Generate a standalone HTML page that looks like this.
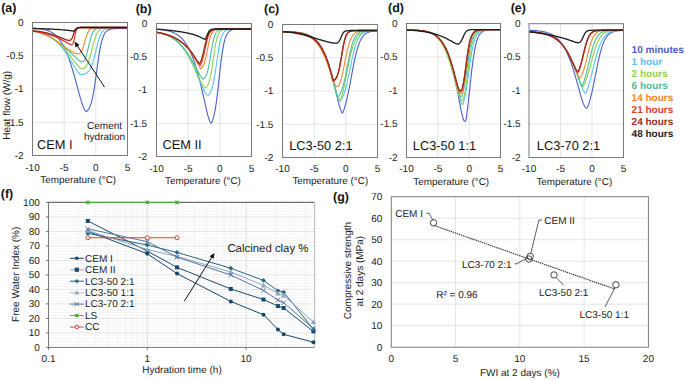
<!DOCTYPE html>
<html><head><meta charset="utf-8"><style>
html,body{margin:0;padding:0;background:#fff;}
svg{display:block;font-family:"Liberation Sans", sans-serif;}
</style></head><body>
<svg width="685" height="380" viewBox="0 0 685 380" font-family='"Liberation Sans", sans-serif' text-rendering="geometricPrecision">
<rect width="685" height="380" fill="#fff"/>
<line x1="64.17" y1="22.50" x2="64.17" y2="155.50" stroke="#dedede" stroke-width="0.8" />
<line x1="95.83" y1="22.50" x2="95.83" y2="155.50" stroke="#dedede" stroke-width="0.8" />
<line x1="32.50" y1="55.75" x2="127.50" y2="55.75" stroke="#dedede" stroke-width="0.8" />
<line x1="32.50" y1="89.00" x2="127.50" y2="89.00" stroke="#dedede" stroke-width="0.8" />
<line x1="32.50" y1="122.25" x2="127.50" y2="122.25" stroke="#dedede" stroke-width="0.8" />
<text x="37.00" y="149.20" font-size="12.8" text-anchor="start" font-weight="normal" fill="#111" >CEM I</text>
<g fill="none" stroke-width="1.1" stroke-linejoin="round">
<polyline points="32.3,28.3 32.7,28.3 33.2,28.3 33.6,28.4 34.0,28.4 34.5,28.4 34.9,28.4 35.3,28.5 35.8,28.5 36.2,28.5 36.6,28.5 37.1,28.6 37.5,28.6 37.9,28.7 38.4,28.7 38.8,28.7 39.2,28.8 39.7,28.8 40.1,28.9 40.5,28.9 41.0,29.0 41.4,29.1 41.8,29.1 42.3,29.2 42.7,29.3 43.1,29.4 43.6,29.4 44.0,29.5 44.4,29.6 44.8,29.7 45.3,29.8 45.7,29.9 46.1,30.1 46.6,30.2 47.0,30.3 47.4,30.5 47.9,30.6 48.3,30.8 48.7,30.9 49.2,31.1 49.6,31.3 50.0,31.5 50.5,31.7 50.9,31.9 51.3,32.2 51.8,32.4 52.2,32.7 52.6,32.9 53.1,33.2 53.5,33.5 53.9,33.8 54.4,34.1 54.8,34.5 55.2,34.9 55.7,35.2 56.1,35.6 56.5,36.0 57.0,36.5 57.4,36.9 57.8,37.4 58.3,37.9 58.7,38.4 59.1,39.0 59.6,39.5 60.0,40.1 60.4,40.7 60.9,41.4 61.3,42.0 61.7,42.7 62.2,43.5 62.6,44.2 63.0,45.0 63.5,45.8 63.9,46.6 64.3,47.5 64.8,48.4 65.2,49.3 65.6,50.3 66.1,51.2 66.5,52.3 66.9,53.3 67.4,54.4 67.8,55.5 68.2,56.6 68.6,57.8 69.1,59.0 69.5,60.3 69.9,61.5 70.4,62.8 70.8,64.2 71.2,65.5 71.7,66.9 72.1,68.3 72.5,69.8 73.0,71.2 73.4,72.7 73.8,74.2 74.3,75.8 74.7,77.3 75.1,78.9 75.6,80.4 76.0,82.0 76.4,83.6 76.9,85.2 77.3,86.8 77.7,88.4 78.2,90.0 78.6,91.6 79.0,93.2 79.5,94.8 79.9,96.3 80.3,97.8 80.8,99.3 81.2,100.7 81.6,102.1 82.1,103.5 82.5,104.8 82.9,106.0 83.4,107.1 83.8,108.1 84.2,109.0 84.7,109.8 85.1,110.5 85.5,111.0 86.0,111.4 86.4,111.4 86.8,111.2 87.3,110.8 87.7,110.3 88.1,109.8 88.6,109.1 89.0,108.4 89.4,107.6 89.9,106.7 90.3,105.6 90.7,104.4 91.2,103.1 91.6,101.6 92.0,99.9 92.4,98.1 92.9,96.0 93.3,93.8 93.7,91.4 94.2,88.8 94.6,86.1 95.0,83.2 95.5,80.2 95.9,77.1 96.3,73.9 96.8,70.7 97.2,67.5 97.6,64.3 98.1,61.2 98.5,58.2 98.9,55.4 99.4,52.7 99.8,50.2 100.2,47.8 100.7,45.7 101.1,43.7 101.5,41.9 102.0,40.3 102.4,38.8 102.8,37.5 103.3,36.4 103.7,35.4 104.1,34.5 104.6,33.7 105.0,33.0 105.4,32.4 105.9,31.9 106.3,31.4 106.7,31.0 107.2,30.7 107.6,30.4 108.0,30.1 108.5,29.9 108.9,29.7 109.3,29.5 109.8,29.4 110.2,29.3 110.6,29.1 111.1,29.1 111.5,29.0 111.9,28.9 112.4,28.8 112.8,28.8 113.2,28.7 113.7,28.7 114.1,28.7 114.5,28.6 115.0,28.6 115.4,28.6 115.8,28.6 116.2,28.6 116.7,28.6 117.1,28.5 117.5,28.5 118.0,28.5 118.4,28.5 118.8,28.5 119.3,28.5 119.7,28.5 120.1,28.5 120.6,28.5 121.0,28.5 121.4,28.5 121.9,28.5 122.3,28.5 122.7,28.5 123.2,28.5 123.6,28.5 124.0,28.5 124.5,28.5 124.9,28.5 125.3,28.5 125.8,28.5 126.2,28.5 126.6,28.5 127.1,28.5 127.5,28.5" stroke="#4a60c6" stroke-width="1.1"/>
<polyline points="32.3,31.3 32.7,31.3 33.2,31.4 33.6,31.4 34.0,31.5 34.5,31.5 34.9,31.6 35.3,31.7 35.8,31.7 36.2,31.8 36.6,31.9 37.1,31.9 37.5,32.0 37.9,32.1 38.4,32.2 38.8,32.3 39.2,32.4 39.7,32.5 40.1,32.6 40.5,32.7 41.0,32.8 41.4,32.9 41.8,33.0 42.3,33.1 42.7,33.3 43.1,33.4 43.6,33.6 44.0,33.7 44.4,33.9 44.8,34.0 45.3,34.2 45.7,34.4 46.1,34.5 46.6,34.7 47.0,34.9 47.4,35.1 47.9,35.4 48.3,35.6 48.7,35.8 49.2,36.0 49.6,36.3 50.0,36.5 50.5,36.8 50.9,37.1 51.3,37.3 51.8,37.6 52.2,37.9 52.6,38.2 53.1,38.5 53.5,38.9 53.9,39.2 54.4,39.5 54.8,39.9 55.2,40.3 55.7,40.6 56.1,41.0 56.5,41.4 57.0,41.8 57.4,42.3 57.8,42.7 58.3,43.1 58.7,43.6 59.1,44.1 59.6,44.5 60.0,45.0 60.4,45.5 60.9,46.0 61.3,46.6 61.7,47.1 62.2,47.6 62.6,48.2 63.0,48.8 63.5,49.3 63.9,49.9 64.3,50.5 64.8,51.1 65.2,51.8 65.6,52.4 66.1,53.0 66.5,53.7 66.9,54.3 67.4,55.0 67.8,55.7 68.2,56.4 68.6,57.1 69.1,57.8 69.5,58.5 69.9,59.2 70.4,59.9 70.8,60.6 71.2,61.3 71.7,62.0 72.1,62.7 72.5,63.5 73.0,64.2 73.4,64.9 73.8,65.6 74.3,66.3 74.7,67.0 75.1,67.7 75.6,68.4 76.0,69.0 76.4,69.7 76.9,70.3 77.3,70.9 77.7,71.5 78.2,72.1 78.6,72.6 79.0,73.1 79.5,73.5 79.9,73.9 80.3,74.2 80.8,74.5 81.2,74.6 81.6,74.6 82.1,74.5 82.5,74.4 82.9,74.3 83.4,74.2 83.8,74.1 84.2,74.0 84.7,73.9 85.1,73.7 85.5,73.6 86.0,73.4 86.4,73.1 86.8,72.9 87.3,72.6 87.7,72.2 88.1,71.8 88.6,71.4 89.0,70.9 89.4,70.3 89.9,69.6 90.3,68.9 90.7,68.1 91.2,67.1 91.6,66.1 92.0,65.0 92.4,63.7 92.9,62.4 93.3,60.9 93.7,59.4 94.2,57.7 94.6,56.0 95.0,54.3 95.5,52.5 95.9,50.6 96.3,48.8 96.8,47.0 97.2,45.3 97.6,43.6 98.1,42.0 98.5,40.5 98.9,39.1 99.4,37.8 99.8,36.6 100.2,35.5 100.7,34.6 101.1,33.7 101.5,32.9 102.0,32.2 102.4,31.6 102.8,31.0 103.3,30.6 103.7,30.1 104.1,29.8 104.6,29.5 105.0,29.2 105.4,28.9 105.9,28.7 106.3,28.6 106.7,28.4 107.2,28.3 107.6,28.2 108.0,28.1 108.5,28.0 108.9,27.9 109.3,27.9 109.8,27.8 110.2,27.8 110.6,27.7 111.1,27.7 111.5,27.7 111.9,27.6 112.4,27.6 112.8,27.6 113.2,27.6 113.7,27.6 114.1,27.5 114.5,27.5 115.0,27.5 115.4,27.5 115.8,27.5 116.2,27.5 116.7,27.5 117.1,27.5 117.5,27.5 118.0,27.5 118.4,27.5 118.8,27.5 119.3,27.5 119.7,27.5 120.1,27.5 120.6,27.5 121.0,27.5 121.4,27.5 121.9,27.5 122.3,27.5 122.7,27.5 123.2,27.5 123.6,27.5 124.0,27.5 124.5,27.5 124.9,27.5 125.3,27.5 125.8,27.5 126.2,27.5 126.6,27.5 127.1,27.5 127.5,27.5" stroke="#55c4ee" stroke-width="1.1"/>
<polyline points="32.3,31.0 32.7,31.1 33.2,31.2 33.6,31.3 34.0,31.3 34.5,31.4 34.9,31.5 35.3,31.6 35.8,31.7 36.2,31.8 36.6,31.9 37.1,32.0 37.5,32.1 37.9,32.2 38.4,32.3 38.8,32.4 39.2,32.5 39.7,32.6 40.1,32.8 40.5,32.9 41.0,33.0 41.4,33.2 41.8,33.3 42.3,33.5 42.7,33.6 43.1,33.8 43.6,33.9 44.0,34.1 44.4,34.3 44.8,34.4 45.3,34.6 45.7,34.8 46.1,35.0 46.6,35.2 47.0,35.4 47.4,35.6 47.9,35.8 48.3,36.0 48.7,36.3 49.2,36.5 49.6,36.7 50.0,37.0 50.5,37.2 50.9,37.5 51.3,37.8 51.8,38.0 52.2,38.3 52.6,38.6 53.1,38.9 53.5,39.2 53.9,39.5 54.4,39.8 54.8,40.1 55.2,40.4 55.7,40.8 56.1,41.1 56.5,41.5 57.0,41.8 57.4,42.2 57.8,42.5 58.3,42.9 58.7,43.3 59.1,43.7 59.6,44.1 60.0,44.5 60.4,44.9 60.9,45.3 61.3,45.8 61.7,46.2 62.2,46.7 62.6,47.1 63.0,47.6 63.5,48.0 63.9,48.5 64.3,49.0 64.8,49.5 65.2,50.0 65.6,50.5 66.1,51.0 66.5,51.5 66.9,52.0 67.4,52.5 67.8,53.0 68.2,53.6 68.6,54.1 69.1,54.6 69.5,55.2 69.9,55.7 70.4,56.3 70.8,56.8 71.2,57.4 71.7,57.9 72.1,58.5 72.5,59.1 73.0,59.6 73.4,60.2 73.8,60.7 74.3,61.3 74.7,61.8 75.1,62.4 75.6,62.9 76.0,63.4 76.4,63.9 76.9,64.4 77.3,64.9 77.7,65.4 78.2,65.9 78.6,66.3 79.0,66.8 79.5,67.2 79.9,67.5 80.3,67.9 80.8,68.2 81.2,68.4 81.6,68.6 82.1,68.8 82.5,68.9 82.9,68.9 83.4,68.7 83.8,68.5 84.2,68.2 84.7,67.8 85.1,67.4 85.5,66.9 86.0,66.4 86.4,65.7 86.8,65.0 87.3,64.2 87.7,63.4 88.1,62.4 88.6,61.3 89.0,60.1 89.4,58.8 89.9,57.4 90.3,55.9 90.7,54.3 91.2,52.7 91.6,51.0 92.0,49.3 92.4,47.6 92.9,45.9 93.3,44.2 93.7,42.6 94.2,41.1 94.6,39.6 95.0,38.3 95.5,37.1 95.9,35.9 96.3,34.9 96.8,34.0 97.2,33.1 97.6,32.4 98.1,31.7 98.5,31.2 98.9,30.6 99.4,30.2 99.8,29.8 100.2,29.5 100.7,29.2 101.1,29.0 101.5,28.7 102.0,28.6 102.4,28.4 102.8,28.3 103.3,28.2 103.7,28.1 104.1,28.0 104.6,27.9 105.0,27.8 105.4,27.8 105.9,27.7 106.3,27.7 106.7,27.7 107.2,27.6 107.6,27.6 108.0,27.6 108.5,27.6 108.9,27.6 109.3,27.6 109.8,27.5 110.2,27.5 110.6,27.5 111.1,27.5 111.5,27.5 111.9,27.5 112.4,27.5 112.8,27.5 113.2,27.5 113.7,27.5 114.1,27.5 114.5,27.5 115.0,27.5 115.4,27.5 115.8,27.5 116.2,27.5 116.7,27.5 117.1,27.5 117.5,27.5 118.0,27.5 118.4,27.5 118.8,27.5 119.3,27.5 119.7,27.5 120.1,27.5 120.6,27.5 121.0,27.5 121.4,27.5 121.9,27.5 122.3,27.5 122.7,27.5 123.2,27.5 123.6,27.5 124.0,27.5 124.5,27.5 124.9,27.5 125.3,27.5 125.8,27.5 126.2,27.5 126.6,27.5 127.1,27.5 127.5,27.5" stroke="#8dd14f" stroke-width="1.1"/>
<polyline points="32.3,30.9 32.7,31.0 33.2,31.1 33.6,31.2 34.0,31.3 34.5,31.4 34.9,31.5 35.3,31.6 35.8,31.7 36.2,31.8 36.6,31.9 37.1,32.1 37.5,32.2 37.9,32.3 38.4,32.4 38.8,32.6 39.2,32.7 39.7,32.8 40.1,33.0 40.5,33.1 41.0,33.3 41.4,33.4 41.8,33.6 42.3,33.7 42.7,33.9 43.1,34.1 43.6,34.2 44.0,34.4 44.4,34.6 44.8,34.7 45.3,34.9 45.7,35.1 46.1,35.3 46.6,35.5 47.0,35.7 47.4,35.9 47.9,36.1 48.3,36.3 48.7,36.5 49.2,36.7 49.6,37.0 50.0,37.2 50.5,37.4 50.9,37.6 51.3,37.9 51.8,38.1 52.2,38.4 52.6,38.6 53.1,38.9 53.5,39.1 53.9,39.4 54.4,39.7 54.8,39.9 55.2,40.2 55.7,40.5 56.1,40.8 56.5,41.1 57.0,41.3 57.4,41.6 57.8,41.9 58.3,42.2 58.7,42.6 59.1,42.9 59.6,43.2 60.0,43.5 60.4,43.8 60.9,44.2 61.3,44.5 61.7,44.8 62.2,45.2 62.6,45.5 63.0,45.9 63.5,46.2 63.9,46.6 64.3,46.9 64.8,47.3 65.2,47.7 65.6,48.0 66.1,48.4 66.5,48.8 66.9,49.2 67.4,49.6 67.8,49.9 68.2,50.3 68.6,50.7 69.1,51.1 69.5,51.5 69.9,51.9 70.4,52.3 70.8,52.8 71.2,53.2 71.7,53.6 72.1,54.0 72.5,54.4 73.0,54.8 73.4,55.3 73.8,55.7 74.3,56.1 74.7,56.5 75.1,56.9 75.6,57.3 76.0,57.8 76.4,58.2 76.9,58.6 77.3,59.0 77.7,59.4 78.2,59.7 78.6,60.1 79.0,60.4 79.5,60.7 79.9,61.0 80.3,61.3 80.8,61.5 81.2,61.7 81.6,61.8 82.1,61.8 82.5,61.8 82.9,61.6 83.4,61.3 83.8,61.0 84.2,60.4 84.7,59.7 85.1,58.9 85.5,57.9 86.0,56.7 86.4,55.3 86.8,53.8 87.3,52.1 87.7,50.3 88.1,48.5 88.6,46.6 89.0,44.7 89.4,42.9 89.9,41.1 90.3,39.5 90.7,38.0 91.2,36.6 91.6,35.3 92.0,34.2 92.4,33.2 92.9,32.3 93.3,31.6 93.7,30.9 94.2,30.4 94.6,29.9 95.0,29.5 95.5,29.2 95.9,28.9 96.3,28.7 96.8,28.5 97.2,28.3 97.6,28.2 98.1,28.0 98.5,28.0 98.9,27.9 99.4,27.8 99.8,27.7 100.2,27.7 100.7,27.7 101.1,27.6 101.5,27.6 102.0,27.6 102.4,27.6 102.8,27.6 103.3,27.5 103.7,27.5 104.1,27.5 104.6,27.5 105.0,27.5 105.4,27.5 105.9,27.5 106.3,27.5 106.7,27.5 107.2,27.5 107.6,27.5 108.0,27.5 108.5,27.5 108.9,27.5 109.3,27.5 109.8,27.5 110.2,27.5 110.6,27.5 111.1,27.5 111.5,27.5 111.9,27.5 112.4,27.5 112.8,27.5 113.2,27.5 113.7,27.5 114.1,27.5 114.5,27.5 115.0,27.5 115.4,27.5 115.8,27.5 116.2,27.5 116.7,27.5 117.1,27.5 117.5,27.5 118.0,27.5 118.4,27.5 118.8,27.5 119.3,27.5 119.7,27.5 120.1,27.5 120.6,27.5 121.0,27.5 121.4,27.5 121.9,27.5 122.3,27.5 122.7,27.5 123.2,27.5 123.6,27.5 124.0,27.5 124.5,27.5 124.9,27.5 125.3,27.5 125.8,27.5 126.2,27.5 126.6,27.5 127.1,27.5 127.5,27.5" stroke="#4cbc9c" stroke-width="1.1"/>
<polyline points="32.3,31.1 32.7,31.1 33.2,31.2 33.6,31.2 34.0,31.3 34.5,31.4 34.9,31.4 35.3,31.5 35.8,31.6 36.2,31.7 36.6,31.8 37.1,31.9 37.5,32.0 37.9,32.1 38.4,32.2 38.8,32.3 39.2,32.4 39.7,32.5 40.1,32.7 40.5,32.8 41.0,32.9 41.4,33.1 41.8,33.2 42.3,33.4 42.7,33.6 43.1,33.7 43.6,33.9 44.0,34.1 44.4,34.2 44.8,34.4 45.3,34.6 45.7,34.8 46.1,35.0 46.6,35.2 47.0,35.4 47.4,35.7 47.9,35.9 48.3,36.1 48.7,36.3 49.2,36.6 49.6,36.8 50.0,37.1 50.5,37.3 50.9,37.6 51.3,37.8 51.8,38.1 52.2,38.3 52.6,38.6 53.1,38.9 53.5,39.2 53.9,39.4 54.4,39.7 54.8,40.0 55.2,40.3 55.7,40.6 56.1,40.9 56.5,41.2 57.0,41.5 57.4,41.8 57.8,42.1 58.3,42.4 58.7,42.7 59.1,43.0 59.6,43.3 60.0,43.6 60.4,43.9 60.9,44.2 61.3,44.6 61.7,44.9 62.2,45.2 62.6,45.5 63.0,45.8 63.5,46.1 63.9,46.4 64.3,46.7 64.8,47.0 65.2,47.3 65.6,47.6 66.1,47.9 66.5,48.2 66.9,48.5 67.4,48.8 67.8,49.1 68.2,49.4 68.6,49.6 69.1,49.9 69.5,50.2 69.9,50.5 70.4,50.7 70.8,51.0 71.2,51.2 71.7,51.5 72.1,51.7 72.5,52.0 73.0,52.2 73.4,52.4 73.8,52.7 74.3,52.9 74.7,53.1 75.1,53.2 75.6,53.4 76.0,53.5 76.4,53.7 76.9,53.8 77.3,53.8 77.7,53.9 78.2,53.9 78.6,53.8 79.0,53.7 79.5,53.5 79.9,53.2 80.3,52.9 80.8,52.4 81.2,51.8 81.6,51.1 82.1,50.2 82.5,49.2 82.9,48.0 83.4,46.7 83.8,45.3 84.2,43.8 84.7,42.2 85.1,40.7 85.5,39.2 86.0,37.7 86.4,36.3 86.8,35.1 87.3,33.9 87.7,32.9 88.1,32.0 88.6,31.2 89.0,30.6 89.4,30.0 89.9,29.6 90.3,29.2 90.7,28.9 91.2,28.6 91.6,28.4 92.0,28.2 92.4,28.1 92.9,28.0 93.3,27.9 93.7,27.8 94.2,27.7 94.6,27.7 95.0,27.6 95.5,27.6 95.9,27.6 96.3,27.6 96.8,27.6 97.2,27.5 97.6,27.5 98.1,27.5 98.5,27.5 98.9,27.5 99.4,27.5 99.8,27.5 100.2,27.5 100.7,27.5 101.1,27.5 101.5,27.5 102.0,27.5 102.4,27.5 102.8,27.5 103.3,27.5 103.7,27.5 104.1,27.5 104.6,27.5 105.0,27.5 105.4,27.5 105.9,27.5 106.3,27.5 106.7,27.5 107.2,27.5 107.6,27.5 108.0,27.5 108.5,27.5 108.9,27.5 109.3,27.5 109.8,27.5 110.2,27.5 110.6,27.5 111.1,27.5 111.5,27.5 111.9,27.5 112.4,27.5 112.8,27.5 113.2,27.5 113.7,27.5 114.1,27.5 114.5,27.5 115.0,27.5 115.4,27.5 115.8,27.5 116.2,27.5 116.7,27.5 117.1,27.5 117.5,27.5 118.0,27.5 118.4,27.5 118.8,27.5 119.3,27.5 119.7,27.5 120.1,27.5 120.6,27.5 121.0,27.5 121.4,27.5 121.9,27.5 122.3,27.5 122.7,27.5 123.2,27.5 123.6,27.5 124.0,27.5 124.5,27.5 124.9,27.5 125.3,27.5 125.8,27.5 126.2,27.5 126.6,27.5 127.1,27.5 127.5,27.5" stroke="#f5862c" stroke-width="1.1"/>
<polyline points="32.3,31.0 32.7,31.0 33.2,31.1 33.6,31.1 34.0,31.2 34.5,31.2 34.9,31.3 35.3,31.3 35.8,31.4 36.2,31.5 36.6,31.5 37.1,31.6 37.5,31.7 37.9,31.7 38.4,31.8 38.8,31.9 39.2,32.0 39.7,32.0 40.1,32.1 40.5,32.2 41.0,32.3 41.4,32.4 41.8,32.5 42.3,32.6 42.7,32.7 43.1,32.8 43.6,32.9 44.0,33.0 44.4,33.1 44.8,33.2 45.3,33.3 45.7,33.4 46.1,33.5 46.6,33.7 47.0,33.8 47.4,33.9 47.9,34.0 48.3,34.2 48.7,34.3 49.2,34.5 49.6,34.6 50.0,34.7 50.5,34.9 50.9,35.0 51.3,35.2 51.8,35.3 52.2,35.5 52.6,35.7 53.1,35.8 53.5,36.0 53.9,36.2 54.4,36.3 54.8,36.5 55.2,36.7 55.7,36.9 56.1,37.1 56.5,37.3 57.0,37.5 57.4,37.7 57.8,37.9 58.3,38.1 58.7,38.3 59.1,38.5 59.6,38.7 60.0,38.9 60.4,39.1 60.9,39.3 61.3,39.5 61.7,39.8 62.2,40.0 62.6,40.2 63.0,40.5 63.5,40.7 63.9,40.9 64.3,41.2 64.8,41.4 65.2,41.6 65.6,41.9 66.1,42.1 66.5,42.4 66.9,42.6 67.4,42.8 67.8,43.1 68.2,43.3 68.6,43.6 69.1,43.8 69.5,44.0 69.9,44.2 70.4,44.4 70.8,44.6 71.2,44.7 71.7,44.7 72.1,44.5 72.5,44.1 73.0,43.5 73.4,42.4 73.8,40.8 74.3,38.9 74.7,36.7 75.1,34.5 75.6,32.5 76.0,31.0 76.4,29.8 76.9,29.0 77.3,28.5 77.7,28.1 78.2,27.9 78.6,27.7 79.0,27.6 79.5,27.6 79.9,27.5 80.3,27.5 80.8,27.5 81.2,27.5 81.6,27.5 82.1,27.5 82.5,27.5 82.9,27.5 83.4,27.5 83.8,27.5 84.2,27.5 84.7,27.5 85.1,27.5 85.5,27.5 86.0,27.5 86.4,27.5 86.8,27.5 87.3,27.5 87.7,27.5 88.1,27.5 88.6,27.5 89.0,27.5 89.4,27.5 89.9,27.5 90.3,27.5 90.7,27.5 91.2,27.5 91.6,27.5 92.0,27.5 92.4,27.5 92.9,27.5 93.3,27.5 93.7,27.5 94.2,27.5 94.6,27.5 95.0,27.5 95.5,27.5 95.9,27.5 96.3,27.5 96.8,27.5 97.2,27.5 97.6,27.5 98.1,27.5 98.5,27.5 98.9,27.5 99.4,27.5 99.8,27.5 100.2,27.5 100.7,27.5 101.1,27.5 101.5,27.5 102.0,27.5 102.4,27.5 102.8,27.5 103.3,27.5 103.7,27.5 104.1,27.5 104.6,27.5 105.0,27.5 105.4,27.5 105.9,27.5 106.3,27.5 106.7,27.5 107.2,27.5 107.6,27.5 108.0,27.5 108.5,27.5 108.9,27.5 109.3,27.5 109.8,27.5 110.2,27.5 110.6,27.5 111.1,27.5 111.5,27.5 111.9,27.5 112.4,27.5 112.8,27.5 113.2,27.5 113.7,27.5 114.1,27.5 114.5,27.5 115.0,27.5 115.4,27.5 115.8,27.5 116.2,27.5 116.7,27.5 117.1,27.5 117.5,27.5 118.0,27.5 118.4,27.5 118.8,27.5 119.3,27.5 119.7,27.5 120.1,27.5 120.6,27.5 121.0,27.5 121.4,27.5 121.9,27.5 122.3,27.5 122.7,27.5 123.2,27.5 123.6,27.5 124.0,27.5 124.5,27.5 124.9,27.5 125.3,27.5 125.8,27.5 126.2,27.5 126.6,27.5 127.1,27.5 127.5,27.5" stroke="#e2402a" stroke-width="1.3"/>
<polyline points="32.3,30.8 32.7,30.8 33.2,30.9 33.6,30.9 34.0,30.9 34.5,31.0 34.9,31.0 35.3,31.0 35.8,31.1 36.2,31.1 36.6,31.2 37.1,31.2 37.5,31.3 37.9,31.3 38.4,31.4 38.8,31.4 39.2,31.5 39.7,31.5 40.1,31.6 40.5,31.7 41.0,31.7 41.4,31.8 41.8,31.9 42.3,32.0 42.7,32.1 43.1,32.1 43.6,32.2 44.0,32.3 44.4,32.4 44.8,32.5 45.3,32.6 45.7,32.7 46.1,32.8 46.6,32.9 47.0,33.0 47.4,33.1 47.9,33.3 48.3,33.4 48.7,33.5 49.2,33.6 49.6,33.8 50.0,33.9 50.5,34.0 50.9,34.1 51.3,34.3 51.8,34.4 52.2,34.6 52.6,34.7 53.1,34.8 53.5,35.0 53.9,35.1 54.4,35.3 54.8,35.4 55.2,35.6 55.7,35.7 56.1,35.9 56.5,36.1 57.0,36.2 57.4,36.4 57.8,36.5 58.3,36.7 58.7,36.9 59.1,37.0 59.6,37.2 60.0,37.4 60.4,37.5 60.9,37.7 61.3,37.9 61.7,38.0 62.2,38.2 62.6,38.4 63.0,38.5 63.5,38.7 63.9,38.9 64.3,39.0 64.8,39.2 65.2,39.4 65.6,39.5 66.1,39.7 66.5,39.8 66.9,40.0 67.4,40.1 67.8,40.2 68.2,40.4 68.6,40.4 69.1,40.5 69.5,40.5 69.9,40.4 70.4,40.2 70.8,40.0 71.2,39.5 71.7,38.9 72.1,38.0 72.5,37.0 73.0,35.8 73.4,34.5 73.8,33.2 74.3,32.0 74.7,31.0 75.1,30.1 75.6,29.4 76.0,28.9 76.4,28.5 76.9,28.2 77.3,28.0 77.7,27.8 78.2,27.7 78.6,27.7 79.0,27.6 79.5,27.6 79.9,27.5 80.3,27.5 80.8,27.5 81.2,27.5 81.6,27.5 82.1,27.5 82.5,27.5 82.9,27.5 83.4,27.5 83.8,27.5 84.2,27.5 84.7,27.5 85.1,27.5 85.5,27.5 86.0,27.5 86.4,27.5 86.8,27.5 87.3,27.5 87.7,27.5 88.1,27.5 88.6,27.5 89.0,27.5 89.4,27.5 89.9,27.5 90.3,27.5 90.7,27.5 91.2,27.5 91.6,27.5 92.0,27.5 92.4,27.5 92.9,27.5 93.3,27.5 93.7,27.5 94.2,27.5 94.6,27.5 95.0,27.5 95.5,27.5 95.9,27.5 96.3,27.5 96.8,27.5 97.2,27.5 97.6,27.5 98.1,27.5 98.5,27.5 98.9,27.5 99.4,27.5 99.8,27.5 100.2,27.5 100.7,27.5 101.1,27.5 101.5,27.5 102.0,27.5 102.4,27.5 102.8,27.5 103.3,27.5 103.7,27.5 104.1,27.5 104.6,27.5 105.0,27.5 105.4,27.5 105.9,27.5 106.3,27.5 106.7,27.5 107.2,27.5 107.6,27.5 108.0,27.5 108.5,27.5 108.9,27.5 109.3,27.5 109.8,27.5 110.2,27.5 110.6,27.5 111.1,27.5 111.5,27.5 111.9,27.5 112.4,27.5 112.8,27.5 113.2,27.5 113.7,27.5 114.1,27.5 114.5,27.5 115.0,27.5 115.4,27.5 115.8,27.5 116.2,27.5 116.7,27.5 117.1,27.5 117.5,27.5 118.0,27.5 118.4,27.5 118.8,27.5 119.3,27.5 119.7,27.5 120.1,27.5 120.6,27.5 121.0,27.5 121.4,27.5 121.9,27.5 122.3,27.5 122.7,27.5 123.2,27.5 123.6,27.5 124.0,27.5 124.5,27.5 124.9,27.5 125.3,27.5 125.8,27.5 126.2,27.5 126.6,27.5 127.1,27.5 127.5,27.5" stroke="#9a2b1c" stroke-width="1.3"/>
<polyline points="32.3,28.4 32.7,28.4 33.2,28.5 33.6,28.5 34.0,28.5 34.5,28.5 34.9,28.5 35.3,28.5 35.8,28.5 36.2,28.5 36.6,28.6 37.1,28.6 37.5,28.6 37.9,28.6 38.4,28.6 38.8,28.6 39.2,28.6 39.7,28.7 40.1,28.7 40.5,28.7 41.0,28.7 41.4,28.7 41.8,28.7 42.3,28.7 42.7,28.8 43.1,28.8 43.6,28.8 44.0,28.8 44.4,28.8 44.8,28.8 45.3,28.9 45.7,28.9 46.1,28.9 46.6,28.9 47.0,28.9 47.4,29.0 47.9,29.0 48.3,29.0 48.7,29.0 49.2,29.0 49.6,29.0 50.0,29.1 50.5,29.1 50.9,29.1 51.3,29.1 51.8,29.1 52.2,29.2 52.6,29.2 53.1,29.2 53.5,29.2 53.9,29.3 54.4,29.3 54.8,29.3 55.2,29.3 55.7,29.3 56.1,29.4 56.5,29.4 57.0,29.4 57.4,29.4 57.8,29.5 58.3,29.5 58.7,29.5 59.1,29.6 59.6,29.6 60.0,29.6 60.4,29.6 60.9,29.7 61.3,29.7 61.7,29.7 62.2,29.8 62.6,29.8 63.0,29.8 63.5,29.9 63.9,29.9 64.3,30.0 64.8,30.0 65.2,30.0 65.6,30.1 66.1,30.1 66.5,30.2 66.9,30.2 67.4,30.3 67.8,30.3 68.2,30.4 68.6,30.4 69.1,30.5 69.5,30.5 69.9,30.6 70.4,30.7 70.8,30.7 71.2,30.8 71.7,30.8 72.1,30.9 72.5,30.9 73.0,31.0 73.4,31.1 73.8,31.0 74.3,30.7 74.7,30.3 75.1,29.9 75.6,29.5 76.0,29.1 76.4,28.7 76.9,28.4 77.3,28.2 77.7,28.0 78.2,27.8 78.6,27.7 79.0,27.7 79.5,27.6 79.9,27.6 80.3,27.5 80.8,27.5 81.2,27.5 81.6,27.5 82.1,27.5 82.5,27.5 82.9,27.5 83.4,27.5 83.8,27.5 84.2,27.5 84.7,27.5 85.1,27.5 85.5,27.5 86.0,27.5 86.4,27.5 86.8,27.5 87.3,27.5 87.7,27.5 88.1,27.5 88.6,27.5 89.0,27.5 89.4,27.5 89.9,27.5 90.3,27.5 90.7,27.5 91.2,27.5 91.6,27.5 92.0,27.5 92.4,27.5 92.9,27.5 93.3,27.5 93.7,27.5 94.2,27.5 94.6,27.5 95.0,27.5 95.5,27.5 95.9,27.5 96.3,27.5 96.8,27.5 97.2,27.5 97.6,27.5 98.1,27.5 98.5,27.5 98.9,27.5 99.4,27.5 99.8,27.5 100.2,27.5 100.7,27.5 101.1,27.5 101.5,27.5 102.0,27.5 102.4,27.5 102.8,27.5 103.3,27.5 103.7,27.5 104.1,27.5 104.6,27.5 105.0,27.5 105.4,27.5 105.9,27.5 106.3,27.5 106.7,27.5 107.2,27.5 107.6,27.5 108.0,27.5 108.5,27.5 108.9,27.5 109.3,27.5 109.8,27.5 110.2,27.5 110.6,27.5 111.1,27.5 111.5,27.5 111.9,27.5 112.4,27.5 112.8,27.5 113.2,27.5 113.7,27.5 114.1,27.5 114.5,27.5 115.0,27.5 115.4,27.5 115.8,27.5 116.2,27.5 116.7,27.5 117.1,27.5 117.5,27.5 118.0,27.5 118.4,27.5 118.8,27.5 119.3,27.5 119.7,27.5 120.1,27.5 120.6,27.5 121.0,27.5 121.4,27.5 121.9,27.5 122.3,27.5 122.7,27.5 123.2,27.5 123.6,27.5 124.0,27.5 124.5,27.5 124.9,27.5 125.3,27.5 125.8,27.5 126.2,27.5 126.6,27.5 127.1,27.5 127.5,27.5" stroke="#1c1c1c" stroke-width="1.3"/>
</g>
<rect x="32.5" y="22.5" width="95.00" height="133.00" fill="none" stroke="#7a7a7a" stroke-width="1"/>
<text x="1.20" y="12.00" font-size="12.4" text-anchor="start" font-weight="bold" fill="#111" >(a)</text>
<text x="23.60" y="25.80" font-size="10" text-anchor="end" font-weight="normal" fill="#1a1a1a" >0</text>
<text x="23.60" y="59.05" font-size="10" text-anchor="end" font-weight="normal" fill="#1a1a1a" >-0.5</text>
<text x="23.60" y="92.30" font-size="10" text-anchor="end" font-weight="normal" fill="#1a1a1a" >-1</text>
<text x="23.60" y="125.55" font-size="10" text-anchor="end" font-weight="normal" fill="#1a1a1a" >-1.5</text>
<text x="23.60" y="158.80" font-size="10" text-anchor="end" font-weight="normal" fill="#1a1a1a" >-2</text>
<text x="32.50" y="171.20" font-size="10" text-anchor="middle" font-weight="normal" fill="#1a1a1a" >-10</text>
<text x="64.17" y="171.20" font-size="10" text-anchor="middle" font-weight="normal" fill="#1a1a1a" >-5</text>
<text x="95.83" y="171.20" font-size="10" text-anchor="middle" font-weight="normal" fill="#1a1a1a" >0</text>
<text x="127.50" y="171.20" font-size="10" text-anchor="middle" font-weight="normal" fill="#1a1a1a" >5</text>
<text x="78.20" y="183.20" font-size="9.9" text-anchor="middle" font-weight="normal" fill="#1a1a1a" >Temperature (°C)</text>
<line x1="188.17" y1="23.50" x2="188.17" y2="156.50" stroke="#dedede" stroke-width="0.8" />
<line x1="219.83" y1="23.50" x2="219.83" y2="156.50" stroke="#dedede" stroke-width="0.8" />
<line x1="156.50" y1="56.75" x2="251.50" y2="56.75" stroke="#dedede" stroke-width="0.8" />
<line x1="156.50" y1="90.00" x2="251.50" y2="90.00" stroke="#dedede" stroke-width="0.8" />
<line x1="156.50" y1="123.25" x2="251.50" y2="123.25" stroke="#dedede" stroke-width="0.8" />
<text x="162.50" y="149.40" font-size="12.8" text-anchor="start" font-weight="normal" fill="#111" >CEM II</text>
<g fill="none" stroke-width="1.1" stroke-linejoin="round">
<polyline points="156.5,29.4 156.9,29.4 157.4,29.4 157.8,29.4 158.2,29.5 158.7,29.5 159.1,29.5 159.5,29.6 160.0,29.6 160.4,29.6 160.8,29.7 161.3,29.7 161.7,29.8 162.1,29.8 162.6,29.9 163.0,29.9 163.4,30.0 163.8,30.0 164.3,30.1 164.7,30.2 165.1,30.2 165.6,30.3 166.0,30.4 166.4,30.5 166.9,30.6 167.3,30.7 167.7,30.8 168.2,30.9 168.6,31.0 169.0,31.1 169.5,31.2 169.9,31.3 170.3,31.4 170.8,31.6 171.2,31.7 171.6,31.9 172.1,32.0 172.5,32.2 172.9,32.4 173.4,32.5 173.8,32.7 174.2,32.9 174.7,33.2 175.1,33.4 175.5,33.6 176.0,33.8 176.4,34.1 176.8,34.4 177.2,34.6 177.7,34.9 178.1,35.2 178.5,35.6 179.0,35.9 179.4,36.2 179.8,36.6 180.3,37.0 180.7,37.4 181.1,37.8 181.6,38.2 182.0,38.7 182.4,39.1 182.9,39.6 183.3,40.1 183.7,40.6 184.2,41.2 184.6,41.8 185.0,42.4 185.5,43.0 185.9,43.6 186.3,44.3 186.8,45.0 187.2,45.7 187.6,46.4 188.1,47.2 188.5,48.0 188.9,48.9 189.4,49.7 189.8,50.6 190.2,51.5 190.6,52.5 191.1,53.5 191.5,54.5 191.9,55.6 192.4,56.7 192.8,57.8 193.2,58.9 193.7,60.1 194.1,61.4 194.5,62.6 195.0,63.9 195.4,65.3 195.8,66.7 196.3,68.1 196.7,69.5 197.1,71.0 197.6,72.5 198.0,74.1 198.4,75.7 198.9,77.3 199.3,79.0 199.7,80.7 200.2,82.4 200.6,84.2 201.0,86.0 201.5,87.8 201.9,89.6 202.3,91.5 202.8,93.4 203.2,95.3 203.6,97.2 204.1,99.1 204.5,101.0 204.9,102.9 205.3,104.8 205.8,106.7 206.2,108.5 206.6,110.3 207.1,112.1 207.5,113.8 207.9,115.5 208.4,117.0 208.8,118.5 209.2,119.8 209.7,120.9 210.1,121.9 210.5,122.6 211.0,123.1 211.4,123.1 211.8,122.3 212.3,121.3 212.7,120.1 213.1,118.7 213.6,117.2 214.0,115.5 214.4,113.5 214.9,111.3 215.3,108.9 215.7,106.3 216.2,103.4 216.6,100.2 217.0,96.9 217.5,93.3 217.9,89.6 218.3,85.7 218.7,81.8 219.2,77.9 219.6,73.9 220.0,70.0 220.5,66.2 220.9,62.6 221.3,59.2 221.8,55.9 222.2,52.9 222.6,50.1 223.1,47.6 223.5,45.3 223.9,43.3 224.4,41.4 224.8,39.8 225.2,38.4 225.7,37.1 226.1,36.0 226.5,35.0 227.0,34.2 227.4,33.5 227.8,32.8 228.3,32.3 228.7,31.8 229.1,31.4 229.6,31.1 230.0,30.8 230.4,30.5 230.9,30.3 231.3,30.1 231.7,30.0 232.1,29.8 232.6,29.7 233.0,29.6 233.4,29.5 233.9,29.4 234.3,29.4 234.7,29.3 235.2,29.3 235.6,29.2 236.0,29.2 236.5,29.2 236.9,29.2 237.3,29.1 237.8,29.1 238.2,29.1 238.6,29.1 239.1,29.1 239.5,29.1 239.9,29.1 240.4,29.1 240.8,29.0 241.2,29.0 241.7,29.0 242.1,29.0 242.5,29.0 243.0,29.0 243.4,29.0 243.8,29.0 244.3,29.0 244.7,29.0 245.1,29.0 245.5,29.0 246.0,29.0 246.4,29.0 246.8,29.0 247.3,29.0 247.7,29.0 248.1,29.0 248.6,29.0 249.0,29.0 249.4,29.0 249.9,29.0 250.3,29.0 250.7,29.0 251.2,29.0 251.6,29.0" stroke="#4a60c6" stroke-width="1.1"/>
<polyline points="156.5,32.3 156.9,32.4 157.4,32.5 157.8,32.5 158.2,32.6 158.7,32.7 159.1,32.8 159.5,32.8 160.0,32.9 160.4,33.0 160.8,33.1 161.3,33.2 161.7,33.3 162.1,33.4 162.6,33.5 163.0,33.7 163.4,33.8 163.8,33.9 164.3,34.0 164.7,34.2 165.1,34.3 165.6,34.5 166.0,34.6 166.4,34.8 166.9,35.0 167.3,35.1 167.7,35.3 168.2,35.5 168.6,35.7 169.0,35.9 169.5,36.1 169.9,36.3 170.3,36.6 170.8,36.8 171.2,37.1 171.6,37.3 172.1,37.6 172.5,37.8 172.9,38.1 173.4,38.4 173.8,38.7 174.2,39.0 174.7,39.4 175.1,39.7 175.5,40.0 176.0,40.4 176.4,40.8 176.8,41.1 177.2,41.5 177.7,41.9 178.1,42.3 178.5,42.8 179.0,43.2 179.4,43.7 179.8,44.1 180.3,44.6 180.7,45.1 181.1,45.6 181.6,46.1 182.0,46.7 182.4,47.2 182.9,47.8 183.3,48.4 183.7,49.0 184.2,49.6 184.6,50.2 185.0,50.8 185.5,51.5 185.9,52.2 186.3,52.9 186.8,53.6 187.2,54.3 187.6,55.0 188.1,55.8 188.5,56.5 188.9,57.3 189.4,58.1 189.8,58.9 190.2,59.8 190.6,60.6 191.1,61.5 191.5,62.3 191.9,63.2 192.4,64.1 192.8,65.1 193.2,66.0 193.7,66.9 194.1,67.9 194.5,68.9 195.0,69.8 195.4,70.8 195.8,71.8 196.3,72.8 196.7,73.8 197.1,74.9 197.6,75.9 198.0,76.9 198.4,77.9 198.9,79.0 199.3,80.0 199.7,81.0 200.2,82.1 200.6,83.1 201.0,84.1 201.5,85.1 201.9,86.1 202.3,87.1 202.8,88.0 203.2,88.9 203.6,89.8 204.1,90.7 204.5,91.5 204.9,92.3 205.3,93.0 205.8,93.6 206.2,94.2 206.6,94.7 207.1,95.0 207.5,95.2 207.9,95.3 208.4,94.9 208.8,94.5 209.2,94.0 209.7,93.4 210.1,92.7 210.5,91.9 211.0,91.0 211.4,89.9 211.8,88.7 212.3,87.3 212.7,85.7 213.1,83.9 213.6,81.9 214.0,79.7 214.4,77.3 214.9,74.7 215.3,71.9 215.7,69.0 216.2,66.1 216.6,63.0 217.0,60.0 217.5,57.0 217.9,54.2 218.3,51.4 218.7,48.8 219.2,46.4 219.6,44.2 220.0,42.2 220.5,40.4 220.9,38.8 221.3,37.4 221.8,36.2 222.2,35.1 222.6,34.2 223.1,33.4 223.5,32.7 223.9,32.2 224.4,31.7 224.8,31.2 225.2,30.9 225.7,30.6 226.1,30.3 226.5,30.1 227.0,29.9 227.4,29.8 227.8,29.7 228.3,29.6 228.7,29.5 229.1,29.4 229.6,29.3 230.0,29.3 230.4,29.2 230.9,29.2 231.3,29.2 231.7,29.1 232.1,29.1 232.6,29.1 233.0,29.1 233.4,29.1 233.9,29.1 234.3,29.1 234.7,29.0 235.2,29.0 235.6,29.0 236.0,29.0 236.5,29.0 236.9,29.0 237.3,29.0 237.8,29.0 238.2,29.0 238.6,29.0 239.1,29.0 239.5,29.0 239.9,29.0 240.4,29.0 240.8,29.0 241.2,29.0 241.7,29.0 242.1,29.0 242.5,29.0 243.0,29.0 243.4,29.0 243.8,29.0 244.3,29.0 244.7,29.0 245.1,29.0 245.5,29.0 246.0,29.0 246.4,29.0 246.8,29.0 247.3,29.0 247.7,29.0 248.1,29.0 248.6,29.0 249.0,29.0 249.4,29.0 249.9,29.0 250.3,29.0 250.7,29.0 251.2,29.0 251.6,29.0" stroke="#55c4ee" stroke-width="1.1"/>
<polyline points="156.5,32.3 156.9,32.4 157.4,32.4 157.8,32.5 158.2,32.6 158.7,32.7 159.1,32.7 159.5,32.8 160.0,32.9 160.4,33.0 160.8,33.1 161.3,33.2 161.7,33.3 162.1,33.4 162.6,33.6 163.0,33.7 163.4,33.8 163.8,33.9 164.3,34.1 164.7,34.2 165.1,34.4 165.6,34.5 166.0,34.7 166.4,34.8 166.9,35.0 167.3,35.2 167.7,35.4 168.2,35.6 168.6,35.8 169.0,36.0 169.5,36.2 169.9,36.4 170.3,36.6 170.8,36.9 171.2,37.1 171.6,37.4 172.1,37.6 172.5,37.9 172.9,38.2 173.4,38.5 173.8,38.8 174.2,39.1 174.7,39.4 175.1,39.7 175.5,40.0 176.0,40.4 176.4,40.8 176.8,41.1 177.2,41.5 177.7,41.9 178.1,42.3 178.5,42.7 179.0,43.2 179.4,43.6 179.8,44.1 180.3,44.5 180.7,45.0 181.1,45.5 181.6,46.0 182.0,46.5 182.4,47.1 182.9,47.6 183.3,48.2 183.7,48.8 184.2,49.4 184.6,50.0 185.0,50.6 185.5,51.2 185.9,51.9 186.3,52.6 186.8,53.2 187.2,53.9 187.6,54.7 188.1,55.4 188.5,56.1 188.9,56.9 189.4,57.6 189.8,58.4 190.2,59.2 190.6,60.0 191.1,60.9 191.5,61.7 191.9,62.6 192.4,63.4 192.8,64.3 193.2,65.2 193.7,66.1 194.1,67.0 194.5,67.9 195.0,68.8 195.4,69.8 195.8,70.7 196.3,71.7 196.7,72.6 197.1,73.6 197.6,74.5 198.0,75.5 198.4,76.5 198.9,77.4 199.3,78.4 199.7,79.3 200.2,80.2 200.6,81.1 201.0,82.0 201.5,82.9 201.9,83.7 202.3,84.5 202.8,85.2 203.2,85.9 203.6,86.5 204.1,87.1 204.5,87.5 204.9,87.9 205.3,88.0 205.8,87.8 206.2,87.4 206.6,86.9 207.1,86.3 207.5,85.6 207.9,84.8 208.4,83.8 208.8,82.6 209.2,81.3 209.7,79.8 210.1,78.0 210.5,76.0 211.0,73.8 211.4,71.4 211.8,68.8 212.3,66.0 212.7,63.0 213.1,60.1 213.6,57.1 214.0,54.1 214.4,51.3 214.9,48.6 215.3,46.0 215.7,43.7 216.2,41.6 216.6,39.8 217.0,38.1 217.5,36.7 217.9,35.5 218.3,34.4 218.7,33.5 219.2,32.7 219.6,32.1 220.0,31.6 220.5,31.1 220.9,30.8 221.3,30.5 221.8,30.2 222.2,30.0 222.6,29.8 223.1,29.7 223.5,29.6 223.9,29.5 224.4,29.4 224.8,29.3 225.2,29.3 225.7,29.2 226.1,29.2 226.5,29.1 227.0,29.1 227.4,29.1 227.8,29.1 228.3,29.1 228.7,29.1 229.1,29.1 229.6,29.0 230.0,29.0 230.4,29.0 230.9,29.0 231.3,29.0 231.7,29.0 232.1,29.0 232.6,29.0 233.0,29.0 233.4,29.0 233.9,29.0 234.3,29.0 234.7,29.0 235.2,29.0 235.6,29.0 236.0,29.0 236.5,29.0 236.9,29.0 237.3,29.0 237.8,29.0 238.2,29.0 238.6,29.0 239.1,29.0 239.5,29.0 239.9,29.0 240.4,29.0 240.8,29.0 241.2,29.0 241.7,29.0 242.1,29.0 242.5,29.0 243.0,29.0 243.4,29.0 243.8,29.0 244.3,29.0 244.7,29.0 245.1,29.0 245.5,29.0 246.0,29.0 246.4,29.0 246.8,29.0 247.3,29.0 247.7,29.0 248.1,29.0 248.6,29.0 249.0,29.0 249.4,29.0 249.9,29.0 250.3,29.0 250.7,29.0 251.2,29.0 251.6,29.0" stroke="#8dd14f" stroke-width="1.1"/>
<polyline points="156.5,32.3 156.9,32.3 157.4,32.4 157.8,32.5 158.2,32.6 158.7,32.7 159.1,32.8 159.5,32.9 160.0,33.0 160.4,33.1 160.8,33.2 161.3,33.3 161.7,33.4 162.1,33.5 162.6,33.7 163.0,33.8 163.4,33.9 163.8,34.1 164.3,34.2 164.7,34.4 165.1,34.5 165.6,34.7 166.0,34.8 166.4,35.0 166.9,35.2 167.3,35.4 167.7,35.6 168.2,35.8 168.6,36.0 169.0,36.2 169.5,36.4 169.9,36.6 170.3,36.8 170.8,37.0 171.2,37.3 171.6,37.5 172.1,37.8 172.5,38.1 172.9,38.3 173.4,38.6 173.8,38.9 174.2,39.2 174.7,39.5 175.1,39.8 175.5,40.1 176.0,40.5 176.4,40.8 176.8,41.1 177.2,41.5 177.7,41.9 178.1,42.3 178.5,42.6 179.0,43.0 179.4,43.5 179.8,43.9 180.3,44.3 180.7,44.7 181.1,45.2 181.6,45.7 182.0,46.1 182.4,46.6 182.9,47.1 183.3,47.6 183.7,48.2 184.2,48.7 184.6,49.2 185.0,49.8 185.5,50.4 185.9,50.9 186.3,51.5 186.8,52.1 187.2,52.8 187.6,53.4 188.1,54.0 188.5,54.7 188.9,55.4 189.4,56.0 189.8,56.7 190.2,57.4 190.6,58.1 191.1,58.9 191.5,59.6 191.9,60.3 192.4,61.1 192.8,61.9 193.2,62.6 193.7,63.4 194.1,64.2 194.5,65.0 195.0,65.8 195.4,66.6 195.8,67.4 196.3,68.2 196.7,69.0 197.1,69.8 197.6,70.6 198.0,71.5 198.4,72.2 198.9,73.0 199.3,73.8 199.7,74.6 200.2,75.3 200.6,76.0 201.0,76.6 201.5,77.3 201.9,77.8 202.3,78.3 202.8,78.7 203.2,78.9 203.6,79.0 204.1,78.6 204.5,78.2 204.9,77.6 205.3,77.0 205.8,76.3 206.2,75.4 206.6,74.3 207.1,73.1 207.5,71.6 207.9,70.0 208.4,68.1 208.8,66.0 209.2,63.7 209.7,61.3 210.1,58.7 210.5,56.0 211.0,53.3 211.4,50.7 211.8,48.1 212.3,45.7 212.7,43.4 213.1,41.3 213.6,39.5 214.0,37.8 214.4,36.4 214.9,35.2 215.3,34.1 215.7,33.2 216.2,32.5 216.6,31.9 217.0,31.4 217.5,30.9 217.9,30.6 218.3,30.3 218.7,30.1 219.2,29.9 219.6,29.7 220.0,29.6 220.5,29.5 220.9,29.4 221.3,29.3 221.8,29.3 222.2,29.2 222.6,29.2 223.1,29.1 223.5,29.1 223.9,29.1 224.4,29.1 224.8,29.1 225.2,29.1 225.7,29.0 226.1,29.0 226.5,29.0 227.0,29.0 227.4,29.0 227.8,29.0 228.3,29.0 228.7,29.0 229.1,29.0 229.6,29.0 230.0,29.0 230.4,29.0 230.9,29.0 231.3,29.0 231.7,29.0 232.1,29.0 232.6,29.0 233.0,29.0 233.4,29.0 233.9,29.0 234.3,29.0 234.7,29.0 235.2,29.0 235.6,29.0 236.0,29.0 236.5,29.0 236.9,29.0 237.3,29.0 237.8,29.0 238.2,29.0 238.6,29.0 239.1,29.0 239.5,29.0 239.9,29.0 240.4,29.0 240.8,29.0 241.2,29.0 241.7,29.0 242.1,29.0 242.5,29.0 243.0,29.0 243.4,29.0 243.8,29.0 244.3,29.0 244.7,29.0 245.1,29.0 245.5,29.0 246.0,29.0 246.4,29.0 246.8,29.0 247.3,29.0 247.7,29.0 248.1,29.0 248.6,29.0 249.0,29.0 249.4,29.0 249.9,29.0 250.3,29.0 250.7,29.0 251.2,29.0 251.6,29.0" stroke="#4cbc9c" stroke-width="1.1"/>
<polyline points="156.5,32.3 156.9,32.4 157.4,32.4 157.8,32.5 158.2,32.6 158.7,32.7 159.1,32.8 159.5,32.8 160.0,32.9 160.4,33.0 160.8,33.1 161.3,33.2 161.7,33.3 162.1,33.4 162.6,33.5 163.0,33.6 163.4,33.7 163.8,33.8 164.3,33.9 164.7,34.0 165.1,34.2 165.6,34.3 166.0,34.4 166.4,34.6 166.9,34.7 167.3,34.8 167.7,35.0 168.2,35.1 168.6,35.3 169.0,35.4 169.5,35.6 169.9,35.8 170.3,35.9 170.8,36.1 171.2,36.3 171.6,36.5 172.1,36.7 172.5,36.8 172.9,37.0 173.4,37.3 173.8,37.5 174.2,37.7 174.7,37.9 175.1,38.1 175.5,38.4 176.0,38.6 176.4,38.9 176.8,39.1 177.2,39.4 177.7,39.7 178.1,39.9 178.5,40.2 179.0,40.5 179.4,40.8 179.8,41.1 180.3,41.4 180.7,41.8 181.1,42.1 181.6,42.5 182.0,42.8 182.4,43.2 182.9,43.5 183.3,43.9 183.7,44.3 184.2,44.7 184.6,45.1 185.0,45.6 185.5,46.0 185.9,46.4 186.3,46.9 186.8,47.4 187.2,47.8 187.6,48.3 188.1,48.8 188.5,49.4 188.9,49.9 189.4,50.4 189.8,51.0 190.2,51.6 190.6,52.2 191.1,52.8 191.5,53.4 191.9,54.0 192.4,54.7 192.8,55.3 193.2,56.0 193.7,56.7 194.1,57.4 194.5,58.1 195.0,58.8 195.4,59.6 195.8,60.3 196.3,61.1 196.7,61.9 197.1,62.7 197.6,63.5 198.0,64.3 198.4,65.0 198.9,65.8 199.3,66.6 199.7,67.3 200.2,68.0 200.6,68.6 201.0,68.4 201.5,68.0 201.9,67.6 202.3,67.0 202.8,66.4 203.2,65.7 203.6,64.8 204.1,63.7 204.5,62.5 204.9,61.1 205.3,59.5 205.8,57.8 206.2,55.8 206.6,53.8 207.1,51.7 207.5,49.5 207.9,47.3 208.4,45.1 208.8,43.1 209.2,41.2 209.7,39.4 210.1,37.8 210.5,36.4 211.0,35.2 211.4,34.2 211.8,33.3 212.3,32.5 212.7,31.9 213.1,31.4 213.6,30.9 214.0,30.6 214.4,30.3 214.9,30.0 215.3,29.8 215.7,29.7 216.2,29.6 216.6,29.4 217.0,29.4 217.5,29.3 217.9,29.2 218.3,29.2 218.7,29.2 219.2,29.1 219.6,29.1 220.0,29.1 220.5,29.1 220.9,29.1 221.3,29.1 221.8,29.0 222.2,29.0 222.6,29.0 223.1,29.0 223.5,29.0 223.9,29.0 224.4,29.0 224.8,29.0 225.2,29.0 225.7,29.0 226.1,29.0 226.5,29.0 227.0,29.0 227.4,29.0 227.8,29.0 228.3,29.0 228.7,29.0 229.1,29.0 229.6,29.0 230.0,29.0 230.4,29.0 230.9,29.0 231.3,29.0 231.7,29.0 232.1,29.0 232.6,29.0 233.0,29.0 233.4,29.0 233.9,29.0 234.3,29.0 234.7,29.0 235.2,29.0 235.6,29.0 236.0,29.0 236.5,29.0 236.9,29.0 237.3,29.0 237.8,29.0 238.2,29.0 238.6,29.0 239.1,29.0 239.5,29.0 239.9,29.0 240.4,29.0 240.8,29.0 241.2,29.0 241.7,29.0 242.1,29.0 242.5,29.0 243.0,29.0 243.4,29.0 243.8,29.0 244.3,29.0 244.7,29.0 245.1,29.0 245.5,29.0 246.0,29.0 246.4,29.0 246.8,29.0 247.3,29.0 247.7,29.0 248.1,29.0 248.6,29.0 249.0,29.0 249.4,29.0 249.9,29.0 250.3,29.0 250.7,29.0 251.2,29.0 251.6,29.0" stroke="#f5862c" stroke-width="1.1"/>
<polyline points="156.5,32.3 156.9,32.4 157.4,32.4 157.8,32.5 158.2,32.6 158.7,32.7 159.1,32.8 159.5,32.8 160.0,32.9 160.4,33.0 160.8,33.1 161.3,33.2 161.7,33.3 162.1,33.4 162.6,33.5 163.0,33.6 163.4,33.7 163.8,33.9 164.3,34.0 164.7,34.1 165.1,34.2 165.6,34.3 166.0,34.5 166.4,34.6 166.9,34.7 167.3,34.9 167.7,35.0 168.2,35.2 168.6,35.3 169.0,35.5 169.5,35.6 169.9,35.8 170.3,35.9 170.8,36.1 171.2,36.3 171.6,36.5 172.1,36.7 172.5,36.8 172.9,37.0 173.4,37.2 173.8,37.4 174.2,37.6 174.7,37.9 175.1,38.1 175.5,38.3 176.0,38.5 176.4,38.8 176.8,39.0 177.2,39.2 177.7,39.5 178.1,39.8 178.5,40.0 179.0,40.3 179.4,40.6 179.8,40.9 180.3,41.2 180.7,41.5 181.1,41.8 181.6,42.1 182.0,42.4 182.4,42.8 182.9,43.1 183.3,43.5 183.7,43.9 184.2,44.2 184.6,44.6 185.0,45.0 185.5,45.4 185.9,45.8 186.3,46.3 186.8,46.7 187.2,47.2 187.6,47.6 188.1,48.1 188.5,48.6 188.9,49.1 189.4,49.6 189.8,50.1 190.2,50.7 190.6,51.2 191.1,51.8 191.5,52.4 191.9,53.0 192.4,53.6 192.8,54.3 193.2,54.9 193.7,55.6 194.1,56.2 194.5,56.9 195.0,57.6 195.4,58.3 195.8,59.1 196.3,59.8 196.7,60.5 197.1,61.2 197.6,62.0 198.0,62.7 198.4,63.3 198.9,64.0 199.3,64.6 199.7,65.1 200.2,65.4 200.6,64.7 201.0,63.8 201.5,62.8 201.9,61.7 202.3,60.4 202.8,58.9 203.2,57.3 203.6,55.5 204.1,53.6 204.5,51.6 204.9,49.6 205.3,47.5 205.8,45.5 206.2,43.5 206.6,41.7 207.1,40.0 207.5,38.4 207.9,37.0 208.4,35.8 208.8,34.7 209.2,33.8 209.7,33.0 210.1,32.3 210.5,31.7 211.0,31.3 211.4,30.9 211.8,30.5 212.3,30.3 212.7,30.0 213.1,29.8 213.6,29.7 214.0,29.6 214.4,29.5 214.9,29.4 215.3,29.3 215.7,29.3 216.2,29.2 216.6,29.2 217.0,29.1 217.5,29.1 217.9,29.1 218.3,29.1 218.7,29.1 219.2,29.1 219.6,29.0 220.0,29.0 220.5,29.0 220.9,29.0 221.3,29.0 221.8,29.0 222.2,29.0 222.6,29.0 223.1,29.0 223.5,29.0 223.9,29.0 224.4,29.0 224.8,29.0 225.2,29.0 225.7,29.0 226.1,29.0 226.5,29.0 227.0,29.0 227.4,29.0 227.8,29.0 228.3,29.0 228.7,29.0 229.1,29.0 229.6,29.0 230.0,29.0 230.4,29.0 230.9,29.0 231.3,29.0 231.7,29.0 232.1,29.0 232.6,29.0 233.0,29.0 233.4,29.0 233.9,29.0 234.3,29.0 234.7,29.0 235.2,29.0 235.6,29.0 236.0,29.0 236.5,29.0 236.9,29.0 237.3,29.0 237.8,29.0 238.2,29.0 238.6,29.0 239.1,29.0 239.5,29.0 239.9,29.0 240.4,29.0 240.8,29.0 241.2,29.0 241.7,29.0 242.1,29.0 242.5,29.0 243.0,29.0 243.4,29.0 243.8,29.0 244.3,29.0 244.7,29.0 245.1,29.0 245.5,29.0 246.0,29.0 246.4,29.0 246.8,29.0 247.3,29.0 247.7,29.0 248.1,29.0 248.6,29.0 249.0,29.0 249.4,29.0 249.9,29.0 250.3,29.0 250.7,29.0 251.2,29.0 251.6,29.0" stroke="#e2402a" stroke-width="1.3"/>
<polyline points="156.5,32.3 156.9,32.4 157.4,32.5 157.8,32.5 158.2,32.6 158.7,32.7 159.1,32.8 159.5,32.9 160.0,33.0 160.4,33.0 160.8,33.1 161.3,33.2 161.7,33.3 162.1,33.4 162.6,33.5 163.0,33.6 163.4,33.8 163.8,33.9 164.3,34.0 164.7,34.1 165.1,34.2 165.6,34.3 166.0,34.5 166.4,34.6 166.9,34.7 167.3,34.9 167.7,35.0 168.2,35.2 168.6,35.3 169.0,35.4 169.5,35.6 169.9,35.8 170.3,35.9 170.8,36.1 171.2,36.3 171.6,36.4 172.1,36.6 172.5,36.8 172.9,37.0 173.4,37.2 173.8,37.4 174.2,37.6 174.7,37.8 175.1,38.0 175.5,38.3 176.0,38.5 176.4,38.7 176.8,39.0 177.2,39.2 177.7,39.5 178.1,39.7 178.5,40.0 179.0,40.3 179.4,40.6 179.8,40.8 180.3,41.1 180.7,41.4 181.1,41.8 181.6,42.1 182.0,42.4 182.4,42.8 182.9,43.1 183.3,43.5 183.7,43.8 184.2,44.2 184.6,44.6 185.0,45.0 185.5,45.4 185.9,45.8 186.3,46.2 186.8,46.7 187.2,47.1 187.6,47.6 188.1,48.1 188.5,48.6 188.9,49.1 189.4,49.6 189.8,50.1 190.2,50.7 190.6,51.2 191.1,51.8 191.5,52.4 191.9,53.0 192.4,53.6 192.8,54.2 193.2,54.8 193.7,55.5 194.1,56.1 194.5,56.8 195.0,57.5 195.4,58.2 195.8,58.8 196.3,59.5 196.7,60.2 197.1,60.8 197.6,61.4 198.0,62.0 198.4,62.5 198.9,63.0 199.3,63.4 199.7,63.5 200.2,62.7 200.6,61.7 201.0,60.7 201.5,59.5 201.9,58.1 202.3,56.6 202.8,55.0 203.2,53.2 203.6,51.4 204.1,49.5 204.5,47.6 204.9,45.7 205.3,43.8 205.8,42.1 206.2,40.4 206.6,38.9 207.1,37.5 207.5,36.3 207.9,35.2 208.4,34.2 208.8,33.4 209.2,32.7 209.7,32.1 210.1,31.6 210.5,31.1 211.0,30.8 211.4,30.5 211.8,30.2 212.3,30.0 212.7,29.8 213.1,29.7 213.6,29.6 214.0,29.5 214.4,29.4 214.9,29.3 215.3,29.3 215.7,29.2 216.2,29.2 216.6,29.2 217.0,29.1 217.5,29.1 217.9,29.1 218.3,29.1 218.7,29.1 219.2,29.1 219.6,29.0 220.0,29.0 220.5,29.0 220.9,29.0 221.3,29.0 221.8,29.0 222.2,29.0 222.6,29.0 223.1,29.0 223.5,29.0 223.9,29.0 224.4,29.0 224.8,29.0 225.2,29.0 225.7,29.0 226.1,29.0 226.5,29.0 227.0,29.0 227.4,29.0 227.8,29.0 228.3,29.0 228.7,29.0 229.1,29.0 229.6,29.0 230.0,29.0 230.4,29.0 230.9,29.0 231.3,29.0 231.7,29.0 232.1,29.0 232.6,29.0 233.0,29.0 233.4,29.0 233.9,29.0 234.3,29.0 234.7,29.0 235.2,29.0 235.6,29.0 236.0,29.0 236.5,29.0 236.9,29.0 237.3,29.0 237.8,29.0 238.2,29.0 238.6,29.0 239.1,29.0 239.5,29.0 239.9,29.0 240.4,29.0 240.8,29.0 241.2,29.0 241.7,29.0 242.1,29.0 242.5,29.0 243.0,29.0 243.4,29.0 243.8,29.0 244.3,29.0 244.7,29.0 245.1,29.0 245.5,29.0 246.0,29.0 246.4,29.0 246.8,29.0 247.3,29.0 247.7,29.0 248.1,29.0 248.6,29.0 249.0,29.0 249.4,29.0 249.9,29.0 250.3,29.0 250.7,29.0 251.2,29.0 251.6,29.0" stroke="#9a2b1c" stroke-width="1.3"/>
<polyline points="156.5,29.0 156.9,29.1 157.4,29.1 157.8,29.2 158.2,29.2 158.7,29.2 159.1,29.3 159.5,29.3 160.0,29.3 160.4,29.4 160.8,29.4 161.3,29.5 161.7,29.5 162.1,29.5 162.6,29.6 163.0,29.6 163.4,29.7 163.8,29.7 164.3,29.8 164.7,29.8 165.1,29.8 165.6,29.9 166.0,29.9 166.4,30.0 166.9,30.0 167.3,30.1 167.7,30.1 168.2,30.2 168.6,30.2 169.0,30.3 169.5,30.3 169.9,30.3 170.3,30.4 170.8,30.4 171.2,30.5 171.6,30.5 172.1,30.6 172.5,30.7 172.9,30.7 173.4,30.8 173.8,30.8 174.2,30.9 174.7,30.9 175.1,31.0 175.5,31.0 176.0,31.1 176.4,31.2 176.8,31.2 177.2,31.3 177.7,31.3 178.1,31.4 178.5,31.5 179.0,31.5 179.4,31.6 179.8,31.7 180.3,31.7 180.7,31.8 181.1,31.9 181.6,31.9 182.0,32.0 182.4,32.1 182.9,32.2 183.3,32.2 183.7,32.3 184.2,32.4 184.6,32.5 185.0,32.6 185.5,32.6 185.9,32.7 186.3,32.8 186.8,32.9 187.2,33.0 187.6,33.1 188.1,33.2 188.5,33.3 188.9,33.4 189.4,33.5 189.8,33.6 190.2,33.7 190.6,33.8 191.1,33.9 191.5,34.0 191.9,34.1 192.4,34.2 192.8,34.4 193.2,34.5 193.7,34.6 194.1,34.7 194.5,34.9 195.0,35.0 195.4,35.2 195.8,35.3 196.3,35.5 196.7,35.6 197.1,35.8 197.6,35.9 198.0,36.1 198.4,36.3 198.9,36.5 199.3,36.7 199.7,36.9 200.2,37.1 200.6,37.3 201.0,37.5 201.5,37.7 201.9,38.0 202.3,38.2 202.8,38.4 203.2,38.6 203.6,38.8 204.1,39.0 204.5,39.2 204.9,39.4 205.3,38.9 205.8,38.1 206.2,37.3 206.6,36.3 207.1,35.3 207.5,34.2 207.9,33.2 208.4,32.3 208.8,31.5 209.2,30.9 209.7,30.4 210.1,30.1 210.5,29.8 211.0,29.6 211.4,29.4 211.8,29.3 212.3,29.2 212.7,29.2 213.1,29.1 213.6,29.1 214.0,29.1 214.4,29.0 214.9,29.0 215.3,29.0 215.7,29.0 216.2,29.0 216.6,29.0 217.0,29.0 217.5,29.0 217.9,29.0 218.3,29.0 218.7,29.0 219.2,29.0 219.6,29.0 220.0,29.0 220.5,29.0 220.9,29.0 221.3,29.0 221.8,29.0 222.2,29.0 222.6,29.0 223.1,29.0 223.5,29.0 223.9,29.0 224.4,29.0 224.8,29.0 225.2,29.0 225.7,29.0 226.1,29.0 226.5,29.0 227.0,29.0 227.4,29.0 227.8,29.0 228.3,29.0 228.7,29.0 229.1,29.0 229.6,29.0 230.0,29.0 230.4,29.0 230.9,29.0 231.3,29.0 231.7,29.0 232.1,29.0 232.6,29.0 233.0,29.0 233.4,29.0 233.9,29.0 234.3,29.0 234.7,29.0 235.2,29.0 235.6,29.0 236.0,29.0 236.5,29.0 236.9,29.0 237.3,29.0 237.8,29.0 238.2,29.0 238.6,29.0 239.1,29.0 239.5,29.0 239.9,29.0 240.4,29.0 240.8,29.0 241.2,29.0 241.7,29.0 242.1,29.0 242.5,29.0 243.0,29.0 243.4,29.0 243.8,29.0 244.3,29.0 244.7,29.0 245.1,29.0 245.5,29.0 246.0,29.0 246.4,29.0 246.8,29.0 247.3,29.0 247.7,29.0 248.1,29.0 248.6,29.0 249.0,29.0 249.4,29.0 249.9,29.0 250.3,29.0 250.7,29.0 251.2,29.0 251.6,29.0" stroke="#1c1c1c" stroke-width="1.3"/>
</g>
<rect x="156.5" y="23.5" width="95.00" height="133.00" fill="none" stroke="#7a7a7a" stroke-width="1"/>
<text x="135.70" y="13.00" font-size="12.4" text-anchor="start" font-weight="bold" fill="#111" >(b)</text>
<text x="147.20" y="26.80" font-size="10" text-anchor="end" font-weight="normal" fill="#1a1a1a" >0</text>
<text x="147.20" y="60.05" font-size="10" text-anchor="end" font-weight="normal" fill="#1a1a1a" >-0.5</text>
<text x="147.20" y="93.30" font-size="10" text-anchor="end" font-weight="normal" fill="#1a1a1a" >-1</text>
<text x="147.20" y="126.55" font-size="10" text-anchor="end" font-weight="normal" fill="#1a1a1a" >-1.5</text>
<text x="147.20" y="159.80" font-size="10" text-anchor="end" font-weight="normal" fill="#1a1a1a" >-2</text>
<text x="156.50" y="171.60" font-size="10" text-anchor="middle" font-weight="normal" fill="#1a1a1a" >-10</text>
<text x="188.17" y="171.60" font-size="10" text-anchor="middle" font-weight="normal" fill="#1a1a1a" >-5</text>
<text x="219.83" y="171.60" font-size="10" text-anchor="middle" font-weight="normal" fill="#1a1a1a" >0</text>
<text x="251.50" y="171.60" font-size="10" text-anchor="middle" font-weight="normal" fill="#1a1a1a" >5</text>
<text x="203.00" y="183.90" font-size="9.9" text-anchor="middle" font-weight="normal" fill="#1a1a1a" >Temperature (°C)</text>
<line x1="314.17" y1="24.50" x2="314.17" y2="157.50" stroke="#dedede" stroke-width="0.8" />
<line x1="345.83" y1="24.50" x2="345.83" y2="157.50" stroke="#dedede" stroke-width="0.8" />
<line x1="282.50" y1="57.75" x2="377.50" y2="57.75" stroke="#dedede" stroke-width="0.8" />
<line x1="282.50" y1="91.00" x2="377.50" y2="91.00" stroke="#dedede" stroke-width="0.8" />
<line x1="282.50" y1="124.25" x2="377.50" y2="124.25" stroke="#dedede" stroke-width="0.8" />
<text x="289.20" y="150.20" font-size="12.8" text-anchor="start" font-weight="normal" fill="#111" >LC3-50 2:1</text>
<g fill="none" stroke-width="1.1" stroke-linejoin="round">
<polyline points="282.5,31.9 282.9,31.9 283.4,31.9 283.8,31.9 284.2,31.9 284.7,31.9 285.1,31.9 285.5,31.9 286.0,31.9 286.4,31.9 286.8,31.9 287.2,31.9 287.7,31.9 288.1,31.9 288.5,31.9 289.0,31.9 289.4,31.9 289.8,31.9 290.3,32.0 290.7,32.0 291.1,32.0 291.6,32.0 292.0,32.0 292.4,32.0 292.9,32.1 293.3,32.1 293.7,32.1 294.1,32.1 294.6,32.1 295.0,32.2 295.4,32.2 295.9,32.2 296.3,32.3 296.7,32.3 297.2,32.4 297.6,32.4 298.0,32.4 298.5,32.5 298.9,32.5 299.3,32.6 299.8,32.7 300.2,32.7 300.6,32.8 301.0,32.9 301.5,32.9 301.9,33.0 302.3,33.1 302.8,33.2 303.2,33.3 303.6,33.4 304.1,33.5 304.5,33.6 304.9,33.7 305.4,33.8 305.8,34.0 306.2,34.1 306.7,34.2 307.1,34.4 307.5,34.6 308.0,34.7 308.4,34.9 308.8,35.1 309.2,35.3 309.7,35.5 310.1,35.7 310.5,35.9 311.0,36.2 311.4,36.4 311.8,36.7 312.3,37.0 312.7,37.3 313.1,37.6 313.6,37.9 314.0,38.2 314.4,38.6 314.9,39.0 315.3,39.3 315.7,39.8 316.1,40.2 316.6,40.6 317.0,41.1 317.4,41.6 317.9,42.1 318.3,42.6 318.7,43.2 319.2,43.7 319.6,44.3 320.0,45.0 320.5,45.6 320.9,46.3 321.3,47.0 321.8,47.7 322.2,48.5 322.6,49.3 323.0,50.1 323.5,51.0 323.9,51.9 324.3,52.8 324.8,53.8 325.2,54.8 325.6,55.8 326.1,56.9 326.5,58.0 326.9,59.2 327.4,60.3 327.8,61.6 328.2,62.8 328.7,64.2 329.1,65.5 329.5,66.9 329.9,68.3 330.4,69.8 330.8,71.3 331.2,72.8 331.7,74.4 332.1,76.0 332.5,77.7 333.0,79.4 333.4,81.1 333.8,82.9 334.3,84.6 334.7,86.4 335.1,88.2 335.6,90.1 336.0,91.9 336.4,93.7 336.9,95.5 337.3,97.4 337.7,99.2 338.1,100.9 338.6,102.6 339.0,104.3 339.4,105.9 339.9,107.4 340.3,108.8 340.7,110.0 341.2,111.1 341.6,112.0 342.0,112.7 342.5,113.0 342.9,112.4 343.3,111.3 343.8,110.1 344.2,108.9 344.6,107.6 345.0,106.2 345.5,104.6 345.9,103.1 346.3,101.4 346.8,99.6 347.2,97.7 347.6,95.8 348.1,93.8 348.5,91.7 348.9,89.6 349.4,87.3 349.8,85.1 350.2,82.8 350.7,80.5 351.1,78.1 351.5,75.8 351.9,73.5 352.4,71.2 352.8,68.9 353.2,66.7 353.7,64.5 354.1,62.3 354.5,60.3 355.0,58.3 355.4,56.4 355.8,54.6 356.3,52.8 356.7,51.2 357.1,49.6 357.6,48.1 358.0,46.8 358.4,45.5 358.9,44.3 359.3,43.1 359.7,42.1 360.1,41.1 360.6,40.2 361.0,39.4 361.4,38.6 361.9,37.9 362.3,37.2 362.7,36.6 363.2,36.1 363.6,35.6 364.0,35.1 364.5,34.7 364.9,34.3 365.3,34.0 365.8,33.7 366.2,33.4 366.6,33.1 367.0,32.9 367.5,32.7 367.9,32.5 368.3,32.3 368.8,32.1 369.2,32.0 369.6,31.8 370.1,31.7 370.5,31.6 370.9,31.5 371.4,31.4 371.8,31.3 372.2,31.3 372.7,31.2 373.1,31.1 373.5,31.1 373.9,31.0 374.4,31.0 374.8,30.9 375.2,30.9 375.7,30.9 376.1,30.8 376.5,30.8 377.0,30.8 377.4,30.7" stroke="#4a60c6" stroke-width="1.1"/>
<polyline points="282.5,32.0 282.9,32.0 283.4,32.0 283.8,32.0 284.2,32.0 284.7,32.0 285.1,32.0 285.5,32.0 286.0,32.0 286.4,32.0 286.8,32.0 287.2,32.0 287.7,32.0 288.1,32.0 288.5,32.0 289.0,32.0 289.4,32.1 289.8,32.1 290.3,32.1 290.7,32.1 291.1,32.1 291.6,32.1 292.0,32.2 292.4,32.2 292.9,32.2 293.3,32.2 293.7,32.3 294.1,32.3 294.6,32.3 295.0,32.4 295.4,32.4 295.9,32.5 296.3,32.5 296.7,32.5 297.2,32.6 297.6,32.6 298.0,32.7 298.5,32.8 298.9,32.8 299.3,32.9 299.8,33.0 300.2,33.0 300.6,33.1 301.0,33.2 301.5,33.3 301.9,33.4 302.3,33.5 302.8,33.6 303.2,33.7 303.6,33.8 304.1,33.9 304.5,34.0 304.9,34.2 305.4,34.3 305.8,34.4 306.2,34.6 306.7,34.8 307.1,34.9 307.5,35.1 308.0,35.3 308.4,35.5 308.8,35.7 309.2,35.9 309.7,36.1 310.1,36.4 310.5,36.6 311.0,36.9 311.4,37.2 311.8,37.5 312.3,37.8 312.7,38.1 313.1,38.4 313.6,38.7 314.0,39.1 314.4,39.5 314.9,39.9 315.3,40.3 315.7,40.7 316.1,41.1 316.6,41.6 317.0,42.1 317.4,42.6 317.9,43.1 318.3,43.7 318.7,44.2 319.2,44.8 319.6,45.5 320.0,46.1 320.5,46.8 320.9,47.5 321.3,48.2 321.8,48.9 322.2,49.7 322.6,50.5 323.0,51.4 323.5,52.2 323.9,53.1 324.3,54.0 324.8,55.0 325.2,56.0 325.6,57.0 326.1,58.1 326.5,59.2 326.9,60.3 327.4,61.5 327.8,62.7 328.2,63.9 328.7,65.1 329.1,66.4 329.5,67.8 329.9,69.1 330.4,70.5 330.8,72.0 331.2,73.4 331.7,74.9 332.1,76.4 332.5,77.9 333.0,79.5 333.4,81.0 333.8,82.6 334.3,84.2 334.7,85.8 335.1,87.4 335.6,88.9 336.0,90.5 336.4,92.0 336.9,93.5 337.3,95.0 337.7,96.4 338.1,97.7 338.6,98.8 339.0,99.9 339.4,100.7 339.9,101.3 340.3,100.9 340.7,100.3 341.2,99.6 341.6,98.9 342.0,98.2 342.5,97.3 342.9,96.4 343.3,95.4 343.8,94.3 344.2,93.1 344.6,91.9 345.0,90.5 345.5,89.0 345.9,87.5 346.3,85.9 346.8,84.1 347.2,82.3 347.6,80.5 348.1,78.5 348.5,76.5 348.9,74.4 349.4,72.3 349.8,70.2 350.2,68.1 350.7,65.9 351.1,63.8 351.5,61.7 351.9,59.7 352.4,57.7 352.8,55.7 353.2,53.9 353.7,52.1 354.1,50.4 354.5,48.8 355.0,47.3 355.4,45.8 355.8,44.5 356.3,43.3 356.7,42.1 357.1,41.0 357.6,40.1 358.0,39.2 358.4,38.3 358.9,37.6 359.3,36.9 359.7,36.3 360.1,35.7 360.6,35.2 361.0,34.7 361.4,34.3 361.9,33.9 362.3,33.5 362.7,33.2 363.2,33.0 363.6,32.7 364.0,32.5 364.5,32.3 364.9,32.1 365.3,31.9 365.8,31.8 366.2,31.6 366.6,31.5 367.0,31.4 367.5,31.3 367.9,31.2 368.3,31.2 368.8,31.1 369.2,31.0 369.6,31.0 370.1,30.9 370.5,30.9 370.9,30.9 371.4,30.8 371.8,30.8 372.2,30.8 372.7,30.7 373.1,30.7 373.5,30.7 373.9,30.7 374.4,30.7 374.8,30.6 375.2,30.6 375.7,30.6 376.1,30.6 376.5,30.6 377.0,30.6 377.4,30.6" stroke="#55c4ee" stroke-width="1.1"/>
<polyline points="282.5,32.2 282.9,32.2 283.4,32.2 283.8,32.2 284.2,32.2 284.7,32.2 285.1,32.2 285.5,32.2 286.0,32.2 286.4,32.2 286.8,32.2 287.2,32.2 287.7,32.2 288.1,32.2 288.5,32.2 289.0,32.2 289.4,32.2 289.8,32.2 290.3,32.2 290.7,32.2 291.1,32.2 291.6,32.2 292.0,32.2 292.4,32.2 292.9,32.3 293.3,32.3 293.7,32.3 294.1,32.3 294.6,32.3 295.0,32.4 295.4,32.4 295.9,32.4 296.3,32.4 296.7,32.5 297.2,32.5 297.6,32.6 298.0,32.6 298.5,32.6 298.9,32.7 299.3,32.7 299.8,32.8 300.2,32.9 300.6,32.9 301.0,33.0 301.5,33.1 301.9,33.1 302.3,33.2 302.8,33.3 303.2,33.4 303.6,33.5 304.1,33.6 304.5,33.7 304.9,33.8 305.4,34.0 305.8,34.1 306.2,34.2 306.7,34.4 307.1,34.6 307.5,34.7 308.0,34.9 308.4,35.1 308.8,35.3 309.2,35.5 309.7,35.7 310.1,36.0 310.5,36.2 311.0,36.5 311.4,36.7 311.8,37.0 312.3,37.3 312.7,37.6 313.1,38.0 313.6,38.3 314.0,38.7 314.4,39.1 314.9,39.5 315.3,39.9 315.7,40.3 316.1,40.8 316.6,41.3 317.0,41.8 317.4,42.3 317.9,42.9 318.3,43.5 318.7,44.1 319.2,44.7 319.6,45.4 320.0,46.1 320.5,46.8 320.9,47.6 321.3,48.3 321.8,49.2 322.2,50.0 322.6,50.9 323.0,51.8 323.5,52.7 323.9,53.7 324.3,54.7 324.8,55.8 325.2,56.9 325.6,58.0 326.1,59.1 326.5,60.3 326.9,61.6 327.4,62.8 327.8,64.1 328.2,65.5 328.7,66.8 329.1,68.2 329.5,69.6 329.9,71.1 330.4,72.6 330.8,74.1 331.2,75.6 331.7,77.2 332.1,78.7 332.5,80.3 333.0,81.9 333.4,83.4 333.8,85.0 334.3,86.5 334.7,88.1 335.1,89.6 335.6,91.0 336.0,92.4 336.4,93.7 336.9,95.0 337.3,96.1 337.7,97.2 338.1,98.1 338.6,98.8 339.0,99.4 339.4,99.8 339.9,100.0 340.3,99.9 340.7,99.5 341.2,98.4 341.6,96.9 342.0,95.3 342.5,93.7 342.9,91.9 343.3,90.1 343.8,88.2 344.2,86.2 344.6,84.2 345.0,82.1 345.5,79.9 345.9,77.8 346.3,75.6 346.8,73.3 347.2,71.1 347.6,68.9 348.1,66.7 348.5,64.6 348.9,62.5 349.4,60.4 349.8,58.4 350.2,56.5 350.7,54.7 351.1,52.9 351.5,51.2 351.9,49.6 352.4,48.1 352.8,46.7 353.2,45.4 353.7,44.1 354.1,43.0 354.5,41.9 355.0,40.9 355.4,40.0 355.8,39.2 356.3,38.4 356.7,37.7 357.1,37.0 357.6,36.4 358.0,35.9 358.4,35.4 358.9,34.9 359.3,34.5 359.7,34.1 360.1,33.8 360.6,33.5 361.0,33.2 361.4,32.9 361.9,32.7 362.3,32.5 362.7,32.3 363.2,32.1 363.6,32.0 364.0,31.8 364.5,31.7 364.9,31.6 365.3,31.5 365.8,31.4 366.2,31.3 366.6,31.2 367.0,31.2 367.5,31.1 367.9,31.0 368.3,31.0 368.8,30.9 369.2,30.9 369.6,30.9 370.1,30.8 370.5,30.8 370.9,30.8 371.4,30.8 371.8,30.7 372.2,30.7 372.7,30.7 373.1,30.7 373.5,30.7 373.9,30.6 374.4,30.6 374.8,30.6 375.2,30.6 375.7,30.6 376.1,30.6 376.5,30.6 377.0,30.6 377.4,30.6" stroke="#8dd14f" stroke-width="1.1"/>
<polyline points="282.5,31.8 282.9,31.8 283.4,31.9 283.8,31.9 284.2,31.9 284.7,31.9 285.1,31.9 285.5,31.9 286.0,31.9 286.4,31.9 286.8,31.9 287.2,32.0 287.7,32.0 288.1,32.0 288.5,32.0 289.0,32.0 289.4,32.0 289.8,32.1 290.3,32.1 290.7,32.1 291.1,32.1 291.6,32.2 292.0,32.2 292.4,32.2 292.9,32.2 293.3,32.3 293.7,32.3 294.1,32.4 294.6,32.4 295.0,32.4 295.4,32.5 295.9,32.5 296.3,32.6 296.7,32.6 297.2,32.7 297.6,32.7 298.0,32.8 298.5,32.9 298.9,32.9 299.3,33.0 299.8,33.1 300.2,33.2 300.6,33.2 301.0,33.3 301.5,33.4 301.9,33.5 302.3,33.6 302.8,33.7 303.2,33.8 303.6,33.9 304.1,34.1 304.5,34.2 304.9,34.3 305.4,34.5 305.8,34.6 306.2,34.8 306.7,34.9 307.1,35.1 307.5,35.3 308.0,35.5 308.4,35.7 308.8,35.9 309.2,36.1 309.7,36.3 310.1,36.5 310.5,36.8 311.0,37.0 311.4,37.3 311.8,37.6 312.3,37.8 312.7,38.1 313.1,38.5 313.6,38.8 314.0,39.1 314.4,39.5 314.9,39.9 315.3,40.3 315.7,40.7 316.1,41.1 316.6,41.5 317.0,42.0 317.4,42.5 317.9,43.0 318.3,43.5 318.7,44.0 319.2,44.6 319.6,45.2 320.0,45.8 320.5,46.5 320.9,47.1 321.3,47.8 321.8,48.5 322.2,49.3 322.6,50.1 323.0,50.9 323.5,51.7 323.9,52.6 324.3,53.5 324.8,54.5 325.2,55.5 325.6,56.5 326.1,57.5 326.5,58.6 326.9,59.8 327.4,60.9 327.8,62.2 328.2,63.4 328.7,64.7 329.1,66.1 329.5,67.4 329.9,68.9 330.4,70.3 330.8,71.9 331.2,73.4 331.7,75.0 332.1,76.6 332.5,78.3 333.0,80.0 333.4,81.7 333.8,83.5 334.3,85.3 334.7,87.1 335.1,88.8 335.6,90.6 336.0,92.4 336.4,94.1 336.9,95.7 337.3,97.1 337.7,97.3 338.1,96.8 338.6,96.3 339.0,95.7 339.4,95.1 339.9,94.3 340.3,93.5 340.7,92.6 341.2,91.6 341.6,90.6 342.0,89.4 342.5,88.1 342.9,86.6 343.3,85.1 343.8,83.5 344.2,81.7 344.6,79.9 345.0,77.9 345.5,75.8 345.9,73.7 346.3,71.5 346.8,69.2 347.2,66.9 347.6,64.7 348.1,62.4 348.5,60.1 348.9,57.9 349.4,55.8 349.8,53.7 350.2,51.7 350.7,49.8 351.1,48.1 351.5,46.4 351.9,44.9 352.4,43.4 352.8,42.1 353.2,40.9 353.7,39.8 354.1,38.8 354.5,37.9 355.0,37.1 355.4,36.3 355.8,35.7 356.3,35.1 356.7,34.6 357.1,34.1 357.6,33.7 358.0,33.3 358.4,33.0 358.9,32.7 359.3,32.4 359.7,32.2 360.1,32.0 360.6,31.8 361.0,31.7 361.4,31.5 361.9,31.4 362.3,31.3 362.7,31.2 363.2,31.1 363.6,31.1 364.0,31.0 364.5,30.9 364.9,30.9 365.3,30.8 365.8,30.8 366.2,30.8 366.6,30.7 367.0,30.7 367.5,30.7 367.9,30.7 368.3,30.7 368.8,30.6 369.2,30.6 369.6,30.6 370.1,30.6 370.5,30.6 370.9,30.6 371.4,30.6 371.8,30.6 372.2,30.6 372.7,30.6 373.1,30.6 373.5,30.6 373.9,30.6 374.4,30.5 374.8,30.5 375.2,30.5 375.7,30.5 376.1,30.5 376.5,30.5 377.0,30.5 377.4,30.5" stroke="#4cbc9c" stroke-width="1.1"/>
<polyline points="282.5,31.8 282.9,31.8 283.4,31.8 283.8,31.8 284.2,31.9 284.7,31.9 285.1,31.9 285.5,31.9 286.0,31.9 286.4,31.9 286.8,31.9 287.2,32.0 287.7,32.0 288.1,32.0 288.5,32.0 289.0,32.0 289.4,32.1 289.8,32.1 290.3,32.1 290.7,32.1 291.1,32.2 291.6,32.2 292.0,32.2 292.4,32.3 292.9,32.3 293.3,32.3 293.7,32.4 294.1,32.4 294.6,32.5 295.0,32.5 295.4,32.6 295.9,32.6 296.3,32.7 296.7,32.8 297.2,32.8 297.6,32.9 298.0,33.0 298.5,33.0 298.9,33.1 299.3,33.2 299.8,33.3 300.2,33.4 300.6,33.5 301.0,33.6 301.5,33.7 301.9,33.8 302.3,33.9 302.8,34.0 303.2,34.2 303.6,34.3 304.1,34.4 304.5,34.6 304.9,34.7 305.4,34.9 305.8,35.1 306.2,35.3 306.7,35.4 307.1,35.6 307.5,35.8 308.0,36.1 308.4,36.3 308.8,36.5 309.2,36.8 309.7,37.0 310.1,37.3 310.5,37.6 311.0,37.8 311.4,38.1 311.8,38.5 312.3,38.8 312.7,39.1 313.1,39.5 313.6,39.9 314.0,40.3 314.4,40.7 314.9,41.1 315.3,41.5 315.7,42.0 316.1,42.5 316.6,43.0 317.0,43.5 317.4,44.0 317.9,44.6 318.3,45.1 318.7,45.8 319.2,46.4 319.6,47.0 320.0,47.7 320.5,48.4 320.9,49.1 321.3,49.9 321.8,50.7 322.2,51.5 322.6,52.3 323.0,53.2 323.5,54.1 323.9,55.0 324.3,55.9 324.8,56.9 325.2,57.9 325.6,59.0 326.1,60.0 326.5,61.1 326.9,62.2 327.4,63.4 327.8,64.6 328.2,65.8 328.7,67.0 329.1,68.2 329.5,69.5 329.9,70.8 330.4,72.0 330.8,73.3 331.2,74.6 331.7,75.9 332.1,77.1 332.5,78.3 333.0,79.5 333.4,80.7 333.8,81.7 334.3,82.7 334.7,83.7 335.1,84.5 335.6,85.2 336.0,85.8 336.4,86.2 336.9,86.5 337.3,86.7 337.7,86.6 338.1,86.4 338.6,85.9 339.0,85.3 339.4,84.4 339.9,83.4 340.3,82.2 340.7,80.8 341.2,79.2 341.6,77.5 342.0,75.7 342.5,73.7 342.9,71.7 343.3,69.6 343.8,67.4 344.2,65.3 344.6,63.1 345.0,61.0 345.5,58.9 345.9,56.9 346.3,54.9 346.8,52.9 347.2,51.1 347.6,49.3 348.1,47.5 348.5,45.7 348.9,44.2 349.4,42.7 349.8,41.4 350.2,40.3 350.7,39.2 351.1,38.3 351.5,37.4 351.9,36.7 352.4,36.0 352.8,35.4 353.2,34.9 353.7,34.4 354.1,33.9 354.5,33.6 355.0,33.2 355.4,32.9 355.8,32.6 356.3,32.4 356.7,32.2 357.1,32.0 357.6,31.8 358.0,31.7 358.4,31.6 358.9,31.4 359.3,31.3 359.7,31.2 360.1,31.2 360.6,31.1 361.0,31.0 361.4,31.0 361.9,30.9 362.3,30.9 362.7,30.8 363.2,30.8 363.6,30.8 364.0,30.7 364.5,30.7 364.9,30.7 365.3,30.7 365.8,30.7 366.2,30.6 366.6,30.6 367.0,30.6 367.5,30.6 367.9,30.6 368.3,30.6 368.8,30.6 369.2,30.6 369.6,30.6 370.1,30.6 370.5,30.6 370.9,30.6 371.4,30.6 371.8,30.6 372.2,30.5 372.7,30.5 373.1,30.5 373.5,30.5 373.9,30.5 374.4,30.5 374.8,30.5 375.2,30.5 375.7,30.5 376.1,30.5 376.5,30.5 377.0,30.5 377.4,30.5" stroke="#f5862c" stroke-width="1.1"/>
<polyline points="282.5,31.8 282.9,31.8 283.4,31.8 283.8,31.8 284.2,31.8 284.7,31.8 285.1,31.9 285.5,31.9 286.0,31.9 286.4,31.9 286.8,31.9 287.2,31.9 287.7,31.9 288.1,32.0 288.5,32.0 289.0,32.0 289.4,32.0 289.8,32.0 290.3,32.1 290.7,32.1 291.1,32.1 291.6,32.1 292.0,32.2 292.4,32.2 292.9,32.2 293.3,32.3 293.7,32.3 294.1,32.4 294.6,32.4 295.0,32.4 295.4,32.5 295.9,32.5 296.3,32.6 296.7,32.6 297.2,32.7 297.6,32.8 298.0,32.8 298.5,32.9 298.9,33.0 299.3,33.0 299.8,33.1 300.2,33.2 300.6,33.3 301.0,33.4 301.5,33.4 301.9,33.5 302.3,33.6 302.8,33.7 303.2,33.9 303.6,34.0 304.1,34.1 304.5,34.2 304.9,34.4 305.4,34.5 305.8,34.6 306.2,34.8 306.7,35.0 307.1,35.1 307.5,35.3 308.0,35.5 308.4,35.7 308.8,35.9 309.2,36.1 309.7,36.3 310.1,36.5 310.5,36.8 311.0,37.0 311.4,37.3 311.8,37.6 312.3,37.9 312.7,38.2 313.1,38.5 313.6,38.8 314.0,39.1 314.4,39.5 314.9,39.9 315.3,40.2 315.7,40.6 316.1,41.1 316.6,41.5 317.0,42.0 317.4,42.4 317.9,42.9 318.3,43.5 318.7,44.0 319.2,44.6 319.6,45.2 320.0,45.8 320.5,46.4 320.9,47.1 321.3,47.8 321.8,48.5 322.2,49.3 322.6,50.0 323.0,50.9 323.5,51.7 323.9,52.6 324.3,53.5 324.8,54.5 325.2,55.4 325.6,56.5 326.1,57.5 326.5,58.7 326.9,59.8 327.4,61.0 327.8,62.2 328.2,63.5 328.7,64.8 329.1,66.2 329.5,67.6 329.9,69.0 330.4,70.5 330.8,72.1 331.2,73.6 331.7,75.2 332.1,76.8 332.5,78.3 333.0,79.9 333.4,81.0 333.8,80.8 334.3,80.5 334.7,80.1 335.1,79.7 335.6,79.1 336.0,78.5 336.4,77.8 336.9,76.9 337.3,75.9 337.7,74.7 338.1,73.3 338.6,71.8 339.0,70.0 339.4,68.1 339.9,65.9 340.3,63.6 340.7,61.2 341.2,58.7 341.6,56.1 342.0,53.5 342.5,51.0 342.9,48.6 343.3,46.3 343.8,44.2 344.2,42.3 344.6,40.6 345.0,39.1 345.5,37.7 345.9,36.6 346.3,35.6 346.8,34.8 347.2,34.0 347.6,33.4 348.1,32.9 348.5,32.5 348.9,32.2 349.4,31.9 349.8,31.6 350.2,31.4 350.7,31.3 351.1,31.1 351.5,31.0 351.9,30.9 352.4,30.9 352.8,30.8 353.2,30.8 353.7,30.7 354.1,30.7 354.5,30.7 355.0,30.6 355.4,30.6 355.8,30.6 356.3,30.6 356.7,30.6 357.1,30.6 357.6,30.6 358.0,30.6 358.4,30.5 358.9,30.5 359.3,30.5 359.7,30.5 360.1,30.5 360.6,30.5 361.0,30.5 361.4,30.5 361.9,30.5 362.3,30.5 362.7,30.5 363.2,30.5 363.6,30.5 364.0,30.5 364.5,30.5 364.9,30.5 365.3,30.5 365.8,30.5 366.2,30.5 366.6,30.5 367.0,30.5 367.5,30.5 367.9,30.5 368.3,30.5 368.8,30.5 369.2,30.5 369.6,30.5 370.1,30.5 370.5,30.5 370.9,30.5 371.4,30.5 371.8,30.5 372.2,30.5 372.7,30.5 373.1,30.5 373.5,30.5 373.9,30.5 374.4,30.5 374.8,30.5 375.2,30.5 375.7,30.5 376.1,30.5 376.5,30.5 377.0,30.5 377.4,30.5" stroke="#e2402a" stroke-width="1.3"/>
<polyline points="282.5,31.8 282.9,31.8 283.4,31.8 283.8,31.8 284.2,31.8 284.7,31.8 285.1,31.8 285.5,31.8 286.0,31.9 286.4,31.9 286.8,31.9 287.2,31.9 287.7,31.9 288.1,32.0 288.5,32.0 289.0,32.0 289.4,32.0 289.8,32.0 290.3,32.1 290.7,32.1 291.1,32.1 291.6,32.2 292.0,32.2 292.4,32.2 292.9,32.3 293.3,32.3 293.7,32.3 294.1,32.4 294.6,32.4 295.0,32.5 295.4,32.5 295.9,32.6 296.3,32.6 296.7,32.7 297.2,32.7 297.6,32.8 298.0,32.9 298.5,32.9 298.9,33.0 299.3,33.1 299.8,33.2 300.2,33.2 300.6,33.3 301.0,33.4 301.5,33.5 301.9,33.6 302.3,33.7 302.8,33.8 303.2,33.9 303.6,34.0 304.1,34.2 304.5,34.3 304.9,34.4 305.4,34.6 305.8,34.7 306.2,34.9 306.7,35.0 307.1,35.2 307.5,35.4 308.0,35.6 308.4,35.7 308.8,35.9 309.2,36.2 309.7,36.4 310.1,36.6 310.5,36.8 311.0,37.1 311.4,37.3 311.8,37.6 312.3,37.9 312.7,38.2 313.1,38.5 313.6,38.8 314.0,39.1 314.4,39.5 314.9,39.8 315.3,40.2 315.7,40.6 316.1,41.0 316.6,41.5 317.0,41.9 317.4,42.4 317.9,42.9 318.3,43.4 318.7,43.9 319.2,44.5 319.6,45.0 320.0,45.6 320.5,46.3 320.9,46.9 321.3,47.6 321.8,48.3 322.2,49.0 322.6,49.8 323.0,50.6 323.5,51.4 323.9,52.3 324.3,53.2 324.8,54.1 325.2,55.1 325.6,56.1 326.1,57.2 326.5,58.3 326.9,59.4 327.4,60.6 327.8,61.9 328.2,63.1 328.7,64.5 329.1,65.8 329.5,67.3 329.9,68.7 330.4,70.3 330.8,71.8 331.2,73.4 331.7,75.1 332.1,76.8 332.5,78.5 333.0,80.2 333.4,80.4 333.8,80.2 334.3,79.9 334.7,79.6 335.1,79.2 335.6,78.7 336.0,78.1 336.4,77.4 336.9,76.6 337.3,75.6 337.7,74.4 338.1,73.1 338.6,71.5 339.0,69.8 339.4,67.8 339.9,65.6 340.3,63.3 340.7,60.8 341.2,58.2 341.6,55.6 342.0,52.9 342.5,50.4 342.9,47.9 343.3,45.6 343.8,43.5 344.2,41.6 344.6,39.9 345.0,38.4 345.5,37.1 345.9,36.0 346.3,35.1 346.8,34.3 347.2,33.6 347.6,33.1 348.1,32.6 348.5,32.2 348.9,31.9 349.4,31.7 349.8,31.5 350.2,31.3 350.7,31.1 351.1,31.0 351.5,30.9 351.9,30.9 352.4,30.8 352.8,30.7 353.2,30.7 353.7,30.7 354.1,30.6 354.5,30.6 355.0,30.6 355.4,30.6 355.8,30.6 356.3,30.6 356.7,30.6 357.1,30.6 357.6,30.6 358.0,30.5 358.4,30.5 358.9,30.5 359.3,30.5 359.7,30.5 360.1,30.5 360.6,30.5 361.0,30.5 361.4,30.5 361.9,30.5 362.3,30.5 362.7,30.5 363.2,30.5 363.6,30.5 364.0,30.5 364.5,30.5 364.9,30.5 365.3,30.5 365.8,30.5 366.2,30.5 366.6,30.5 367.0,30.5 367.5,30.5 367.9,30.5 368.3,30.5 368.8,30.5 369.2,30.5 369.6,30.5 370.1,30.5 370.5,30.5 370.9,30.5 371.4,30.5 371.8,30.5 372.2,30.5 372.7,30.5 373.1,30.5 373.5,30.5 373.9,30.5 374.4,30.5 374.8,30.5 375.2,30.5 375.7,30.5 376.1,30.5 376.5,30.5 377.0,30.5 377.4,30.5" stroke="#9a2b1c" stroke-width="1.3"/>
<polyline points="282.5,31.6 282.9,31.6 283.4,31.6 283.8,31.7 284.2,31.7 284.7,31.7 285.1,31.8 285.5,31.8 286.0,31.9 286.4,31.9 286.8,31.9 287.2,32.0 287.7,32.0 288.1,32.1 288.5,32.1 289.0,32.2 289.4,32.2 289.8,32.3 290.3,32.3 290.7,32.4 291.1,32.5 291.6,32.5 292.0,32.6 292.4,32.6 292.9,32.7 293.3,32.8 293.7,32.9 294.1,32.9 294.6,33.0 295.0,33.1 295.4,33.1 295.9,33.2 296.3,33.3 296.7,33.4 297.2,33.5 297.6,33.6 298.0,33.6 298.5,33.7 298.9,33.8 299.3,33.9 299.8,34.0 300.2,34.1 300.6,34.2 301.0,34.3 301.5,34.4 301.9,34.5 302.3,34.6 302.8,34.7 303.2,34.8 303.6,34.9 304.1,35.0 304.5,35.2 304.9,35.3 305.4,35.4 305.8,35.5 306.2,35.6 306.7,35.7 307.1,35.9 307.5,36.0 308.0,36.1 308.4,36.2 308.8,36.3 309.2,36.5 309.7,36.6 310.1,36.7 310.5,36.9 311.0,37.0 311.4,37.1 311.8,37.2 312.3,37.4 312.7,37.5 313.1,37.6 313.6,37.8 314.0,37.9 314.4,38.0 314.9,38.2 315.3,38.3 315.7,38.4 316.1,38.6 316.6,38.7 317.0,38.8 317.4,39.0 317.9,39.1 318.3,39.2 318.7,39.3 319.2,39.5 319.6,39.6 320.0,39.7 320.5,39.9 320.9,40.0 321.3,40.1 321.8,40.2 322.2,40.4 322.6,40.5 323.0,40.6 323.5,40.7 323.9,40.9 324.3,41.0 324.8,41.1 325.2,41.2 325.6,41.3 326.1,41.4 326.5,41.5 326.9,41.7 327.4,41.8 327.8,41.9 328.2,42.0 328.7,42.1 329.1,42.2 329.5,42.3 329.9,42.4 330.4,42.5 330.8,42.6 331.2,42.6 331.7,42.7 332.1,42.8 332.5,42.9 333.0,43.0 333.4,43.0 333.8,43.1 334.3,43.1 334.7,43.2 335.1,43.2 335.6,43.2 336.0,43.2 336.4,43.1 336.9,43.0 337.3,42.9 337.7,42.6 338.1,42.3 338.6,41.9 339.0,41.4 339.4,40.7 339.9,39.9 340.3,39.0 340.7,38.0 341.2,37.0 341.6,36.0 342.0,35.0 342.5,34.1 342.9,33.4 343.3,32.8 343.8,32.2 344.2,31.8 344.6,31.5 345.0,31.3 345.5,31.1 345.9,30.9 346.3,30.8 346.8,30.8 347.2,30.7 347.6,30.7 348.1,30.6 348.5,30.6 348.9,30.6 349.4,30.6 349.8,30.6 350.2,30.5 350.7,30.5 351.1,30.5 351.5,30.5 351.9,30.5 352.4,30.5 352.8,30.5 353.2,30.5 353.7,30.5 354.1,30.5 354.5,30.5 355.0,30.5 355.4,30.5 355.8,30.5 356.3,30.5 356.7,30.5 357.1,30.5 357.6,30.5 358.0,30.5 358.4,30.5 358.9,30.5 359.3,30.5 359.7,30.5 360.1,30.5 360.6,30.5 361.0,30.5 361.4,30.5 361.9,30.5 362.3,30.5 362.7,30.5 363.2,30.5 363.6,30.5 364.0,30.5 364.5,30.5 364.9,30.5 365.3,30.5 365.8,30.5 366.2,30.5 366.6,30.5 367.0,30.5 367.5,30.5 367.9,30.5 368.3,30.5 368.8,30.5 369.2,30.5 369.6,30.5 370.1,30.5 370.5,30.5 370.9,30.5 371.4,30.5 371.8,30.5 372.2,30.5 372.7,30.5 373.1,30.5 373.5,30.5 373.9,30.5 374.4,30.5 374.8,30.5 375.2,30.5 375.7,30.5 376.1,30.5 376.5,30.5 377.0,30.5 377.4,30.5" stroke="#1c1c1c" stroke-width="1.3"/>
</g>
<rect x="282.5" y="24.5" width="95.00" height="133.00" fill="none" stroke="#7a7a7a" stroke-width="1"/>
<text x="264.00" y="13.30" font-size="12.4" text-anchor="start" font-weight="bold" fill="#111" >(c)</text>
<text x="273.30" y="27.80" font-size="10" text-anchor="end" font-weight="normal" fill="#1a1a1a" >0</text>
<text x="273.30" y="61.05" font-size="10" text-anchor="end" font-weight="normal" fill="#1a1a1a" >-0.5</text>
<text x="273.30" y="94.30" font-size="10" text-anchor="end" font-weight="normal" fill="#1a1a1a" >-1</text>
<text x="273.30" y="127.55" font-size="10" text-anchor="end" font-weight="normal" fill="#1a1a1a" >-1.5</text>
<text x="273.30" y="160.80" font-size="10" text-anchor="end" font-weight="normal" fill="#1a1a1a" >-2</text>
<text x="282.50" y="172.40" font-size="10" text-anchor="middle" font-weight="normal" fill="#1a1a1a" >-10</text>
<text x="314.17" y="172.40" font-size="10" text-anchor="middle" font-weight="normal" fill="#1a1a1a" >-5</text>
<text x="345.83" y="172.40" font-size="10" text-anchor="middle" font-weight="normal" fill="#1a1a1a" >0</text>
<text x="377.50" y="172.40" font-size="10" text-anchor="middle" font-weight="normal" fill="#1a1a1a" >5</text>
<text x="330.30" y="183.90" font-size="9.9" text-anchor="middle" font-weight="normal" fill="#1a1a1a" >Temperature (°C)</text>
<line x1="437.83" y1="23.50" x2="437.83" y2="157.50" stroke="#dedede" stroke-width="0.8" />
<line x1="469.17" y1="23.50" x2="469.17" y2="157.50" stroke="#dedede" stroke-width="0.8" />
<line x1="406.50" y1="57.00" x2="500.50" y2="57.00" stroke="#dedede" stroke-width="0.8" />
<line x1="406.50" y1="90.50" x2="500.50" y2="90.50" stroke="#dedede" stroke-width="0.8" />
<line x1="406.50" y1="124.00" x2="500.50" y2="124.00" stroke="#dedede" stroke-width="0.8" />
<text x="412.80" y="150.20" font-size="12.8" text-anchor="start" font-weight="normal" fill="#111" >LC3-50 1:1</text>
<g fill="none" stroke-width="1.1" stroke-linejoin="round">
<polyline points="406.5,30.1 406.9,30.1 407.4,30.1 407.8,30.1 408.2,30.1 408.6,30.1 409.1,30.1 409.5,30.1 409.9,30.1 410.3,30.1 410.8,30.1 411.2,30.1 411.6,30.1 412.1,30.2 412.5,30.2 412.9,30.2 413.3,30.2 413.8,30.2 414.2,30.2 414.6,30.2 415.1,30.3 415.5,30.3 415.9,30.3 416.3,30.3 416.8,30.4 417.2,30.4 417.6,30.4 418.0,30.4 418.5,30.5 418.9,30.5 419.3,30.5 419.8,30.6 420.2,30.6 420.6,30.7 421.0,30.7 421.5,30.8 421.9,30.8 422.3,30.9 422.8,30.9 423.2,31.0 423.6,31.0 424.0,31.1 424.5,31.2 424.9,31.3 425.3,31.3 425.7,31.4 426.2,31.5 426.6,31.6 427.0,31.7 427.5,31.8 427.9,31.9 428.3,32.1 428.7,32.2 429.2,32.3 429.6,32.5 430.0,32.6 430.5,32.8 430.9,32.9 431.3,33.1 431.7,33.3 432.2,33.5 432.6,33.7 433.0,33.9 433.4,34.1 433.9,34.4 434.3,34.6 434.7,34.9 435.2,35.2 435.6,35.5 436.0,35.8 436.4,36.1 436.9,36.4 437.3,36.8 437.7,37.2 438.2,37.6 438.6,38.0 439.0,38.4 439.4,38.9 439.9,39.3 440.3,39.8 440.7,40.4 441.1,40.9 441.6,41.5 442.0,42.1 442.4,42.7 442.9,43.4 443.3,44.1 443.7,44.8 444.1,45.5 444.6,46.3 445.0,47.2 445.4,48.0 445.9,48.9 446.3,49.9 446.7,50.8 447.1,51.8 447.6,52.9 448.0,54.0 448.4,55.2 448.8,56.4 449.3,57.6 449.7,58.9 450.1,60.2 450.6,61.6 451.0,63.1 451.4,64.6 451.8,66.1 452.3,67.7 452.7,69.4 453.1,71.1 453.6,72.9 454.0,74.7 454.4,76.6 454.8,78.5 455.3,80.5 455.7,82.5 456.1,84.6 456.5,86.7 457.0,88.8 457.4,91.0 457.8,93.3 458.3,95.5 458.7,97.8 459.1,100.0 459.5,102.3 460.0,104.5 460.4,106.7 460.8,108.9 461.2,110.9 461.7,112.9 462.1,114.8 462.5,116.5 463.0,118.0 463.4,119.3 463.8,120.3 464.2,121.1 464.7,121.4 465.1,121.4 465.5,120.9 466.0,119.7 466.4,117.1 466.8,114.0 467.2,110.7 467.7,107.3 468.1,103.7 468.5,100.0 468.9,96.1 469.4,92.2 469.8,88.2 470.2,84.2 470.7,80.3 471.1,76.4 471.5,72.6 471.9,68.9 472.4,65.4 472.8,62.1 473.2,59.0 473.7,56.1 474.1,53.4 474.5,50.9 474.9,48.6 475.4,46.5 475.8,44.6 476.2,42.9 476.6,41.3 477.1,40.0 477.5,38.7 477.9,37.6 478.4,36.7 478.8,35.8 479.2,35.0 479.6,34.4 480.1,33.8 480.5,33.3 480.9,32.8 481.4,32.4 481.8,32.0 482.2,31.7 482.6,31.5 483.1,31.2 483.5,31.0 483.9,30.8 484.3,30.7 484.8,30.5 485.2,30.4 485.6,30.3 486.1,30.2 486.5,30.1 486.9,30.1 487.3,30.0 487.8,29.9 488.2,29.9 488.6,29.9 489.1,29.8 489.5,29.8 489.9,29.8 490.3,29.7 490.8,29.7 491.2,29.7 491.6,29.7 492.0,29.7 492.5,29.7 492.9,29.7 493.3,29.6 493.8,29.6 494.2,29.6 494.6,29.6 495.0,29.6 495.5,29.6 495.9,29.6 496.3,29.6 496.8,29.6 497.2,29.6 497.6,29.6 498.0,29.6 498.5,29.6 498.9,29.6 499.3,29.6 499.7,29.6 500.2,29.6 500.6,29.6" stroke="#4a60c6" stroke-width="1.1"/>
<polyline points="406.5,30.1 406.9,30.1 407.4,30.1 407.8,30.1 408.2,30.1 408.6,30.1 409.1,30.1 409.5,30.2 409.9,30.2 410.3,30.2 410.8,30.2 411.2,30.2 411.6,30.2 412.1,30.2 412.5,30.2 412.9,30.2 413.3,30.2 413.8,30.3 414.2,30.3 414.6,30.3 415.1,30.3 415.5,30.3 415.9,30.3 416.3,30.4 416.8,30.4 417.2,30.4 417.6,30.4 418.0,30.5 418.5,30.5 418.9,30.5 419.3,30.6 419.8,30.6 420.2,30.6 420.6,30.7 421.0,30.7 421.5,30.8 421.9,30.8 422.3,30.9 422.8,30.9 423.2,31.0 423.6,31.0 424.0,31.1 424.5,31.2 424.9,31.3 425.3,31.3 425.7,31.4 426.2,31.5 426.6,31.6 427.0,31.7 427.5,31.8 427.9,31.9 428.3,32.0 428.7,32.2 429.2,32.3 429.6,32.4 430.0,32.6 430.5,32.7 430.9,32.9 431.3,33.1 431.7,33.3 432.2,33.5 432.6,33.7 433.0,33.9 433.4,34.1 433.9,34.3 434.3,34.6 434.7,34.8 435.2,35.1 435.6,35.4 436.0,35.7 436.4,36.0 436.9,36.4 437.3,36.7 437.7,37.1 438.2,37.5 438.6,37.9 439.0,38.3 439.4,38.8 439.9,39.3 440.3,39.8 440.7,40.3 441.1,40.8 441.6,41.4 442.0,42.0 442.4,42.6 442.9,43.3 443.3,44.0 443.7,44.7 444.1,45.4 444.6,46.2 445.0,47.0 445.4,47.8 445.9,48.7 446.3,49.6 446.7,50.6 447.1,51.6 447.6,52.6 448.0,53.7 448.4,54.8 448.8,56.0 449.3,57.2 449.7,58.4 450.1,59.7 450.6,61.0 451.0,62.4 451.4,63.8 451.8,65.3 452.3,66.8 452.7,68.4 453.1,70.0 453.6,71.6 454.0,73.3 454.4,75.0 454.8,76.8 455.3,78.6 455.7,80.4 456.1,82.2 456.5,84.1 457.0,85.9 457.4,87.8 457.8,89.7 458.3,91.5 458.7,93.4 459.1,95.1 459.5,96.8 460.0,98.4 460.4,99.9 460.8,101.3 461.2,102.5 461.7,103.5 462.1,104.2 462.5,104.5 463.0,104.0 463.4,102.6 463.8,101.1 464.2,99.4 464.7,97.5 465.1,95.5 465.5,93.3 466.0,90.9 466.4,88.4 466.8,85.7 467.2,82.9 467.7,80.0 468.1,77.0 468.5,73.9 468.9,70.8 469.4,67.8 469.8,64.8 470.2,61.8 470.7,59.0 471.1,56.3 471.5,53.7 471.9,51.3 472.4,49.0 472.8,46.9 473.2,45.0 473.7,43.3 474.1,41.7 474.5,40.2 474.9,39.0 475.4,37.8 475.8,36.8 476.2,35.9 476.6,35.1 477.1,34.4 477.5,33.8 477.9,33.2 478.4,32.8 478.8,32.3 479.2,32.0 479.6,31.7 480.1,31.4 480.5,31.2 480.9,30.9 481.4,30.8 481.8,30.6 482.2,30.5 482.6,30.3 483.1,30.2 483.5,30.2 483.9,30.1 484.3,30.0 484.8,30.0 485.2,29.9 485.6,29.9 486.1,29.8 486.5,29.8 486.9,29.8 487.3,29.7 487.8,29.7 488.2,29.7 488.6,29.7 489.1,29.7 489.5,29.7 489.9,29.6 490.3,29.6 490.8,29.6 491.2,29.6 491.6,29.6 492.0,29.6 492.5,29.6 492.9,29.6 493.3,29.6 493.8,29.6 494.2,29.6 494.6,29.6 495.0,29.6 495.5,29.6 495.9,29.6 496.3,29.6 496.8,29.6 497.2,29.6 497.6,29.6 498.0,29.6 498.5,29.6 498.9,29.6 499.3,29.6 499.7,29.6 500.2,29.6 500.6,29.6" stroke="#55c4ee" stroke-width="1.1"/>
<polyline points="406.5,30.1 406.9,30.1 407.4,30.1 407.8,30.1 408.2,30.1 408.6,30.1 409.1,30.1 409.5,30.1 409.9,30.1 410.3,30.1 410.8,30.1 411.2,30.1 411.6,30.1 412.1,30.1 412.5,30.2 412.9,30.2 413.3,30.2 413.8,30.2 414.2,30.2 414.6,30.2 415.1,30.2 415.5,30.3 415.9,30.3 416.3,30.3 416.8,30.3 417.2,30.4 417.6,30.4 418.0,30.4 418.5,30.4 418.9,30.5 419.3,30.5 419.8,30.6 420.2,30.6 420.6,30.6 421.0,30.7 421.5,30.8 421.9,30.8 422.3,30.9 422.8,30.9 423.2,31.0 423.6,31.1 424.0,31.1 424.5,31.2 424.9,31.3 425.3,31.4 425.7,31.5 426.2,31.6 426.6,31.7 427.0,31.8 427.5,32.0 427.9,32.1 428.3,32.2 428.7,32.4 429.2,32.5 429.6,32.7 430.0,32.9 430.5,33.1 430.9,33.3 431.3,33.5 431.7,33.7 432.2,33.9 432.6,34.2 433.0,34.4 433.4,34.7 433.9,35.0 434.3,35.3 434.7,35.6 435.2,35.9 435.6,36.3 436.0,36.7 436.4,37.1 436.9,37.5 437.3,37.9 437.7,38.3 438.2,38.8 438.6,39.3 439.0,39.8 439.4,40.3 439.9,40.9 440.3,41.5 440.7,42.1 441.1,42.7 441.6,43.4 442.0,44.1 442.4,44.8 442.9,45.6 443.3,46.4 443.7,47.2 444.1,48.0 444.6,48.9 445.0,49.8 445.4,50.8 445.9,51.8 446.3,52.8 446.7,53.9 447.1,55.0 447.6,56.1 448.0,57.3 448.4,58.5 448.8,59.7 449.3,61.0 449.7,62.4 450.1,63.7 450.6,65.1 451.0,66.5 451.4,68.0 451.8,69.5 452.3,71.0 452.7,72.6 453.1,74.2 453.6,75.8 454.0,77.5 454.4,79.1 454.8,80.8 455.3,82.4 455.7,84.1 456.1,85.8 456.5,87.4 457.0,89.0 457.4,90.6 457.8,92.1 458.3,93.6 458.7,94.9 459.1,96.2 459.5,97.3 460.0,98.4 460.4,99.2 460.8,99.8 461.2,100.3 461.7,100.5 462.1,100.4 462.5,100.1 463.0,99.4 463.4,98.5 463.8,97.2 464.2,95.6 464.7,93.6 465.1,91.3 465.5,88.8 466.0,86.0 466.4,82.9 466.8,79.7 467.2,76.3 467.7,72.8 468.1,69.2 468.5,65.7 468.9,62.2 469.4,59.0 469.8,56.0 470.2,53.2 470.7,50.6 471.1,48.2 471.5,46.1 471.9,44.2 472.4,42.4 472.8,40.8 473.2,39.5 473.7,38.2 474.1,37.1 474.5,36.2 474.9,35.3 475.4,34.6 475.8,33.9 476.2,33.3 476.6,32.8 477.1,32.4 477.5,32.0 477.9,31.7 478.4,31.4 478.8,31.2 479.2,31.0 479.6,30.8 480.1,30.6 480.5,30.5 480.9,30.4 481.4,30.3 481.8,30.2 482.2,30.1 482.6,30.0 483.1,30.0 483.5,29.9 483.9,29.9 484.3,29.8 484.8,29.8 485.2,29.8 485.6,29.7 486.1,29.7 486.5,29.7 486.9,29.7 487.3,29.7 487.8,29.7 488.2,29.6 488.6,29.6 489.1,29.6 489.5,29.6 489.9,29.6 490.3,29.6 490.8,29.6 491.2,29.6 491.6,29.6 492.0,29.6 492.5,29.6 492.9,29.6 493.3,29.6 493.8,29.6 494.2,29.6 494.6,29.6 495.0,29.6 495.5,29.6 495.9,29.6 496.3,29.6 496.8,29.6 497.2,29.6 497.6,29.6 498.0,29.6 498.5,29.6 498.9,29.6 499.3,29.6 499.7,29.6 500.2,29.6 500.6,29.6" stroke="#8dd14f" stroke-width="1.1"/>
<polyline points="406.5,30.1 406.9,30.1 407.4,30.1 407.8,30.1 408.2,30.1 408.6,30.1 409.1,30.1 409.5,30.1 409.9,30.1 410.3,30.1 410.8,30.1 411.2,30.1 411.6,30.2 412.1,30.2 412.5,30.2 412.9,30.2 413.3,30.2 413.8,30.2 414.2,30.2 414.6,30.3 415.1,30.3 415.5,30.3 415.9,30.3 416.3,30.4 416.8,30.4 417.2,30.4 417.6,30.4 418.0,30.5 418.5,30.5 418.9,30.5 419.3,30.6 419.8,30.6 420.2,30.6 420.6,30.7 421.0,30.7 421.5,30.8 421.9,30.8 422.3,30.9 422.8,31.0 423.2,31.0 423.6,31.1 424.0,31.1 424.5,31.2 424.9,31.3 425.3,31.4 425.7,31.5 426.2,31.6 426.6,31.7 427.0,31.8 427.5,31.9 427.9,32.0 428.3,32.1 428.7,32.2 429.2,32.4 429.6,32.5 430.0,32.7 430.5,32.8 430.9,33.0 431.3,33.2 431.7,33.3 432.2,33.5 432.6,33.7 433.0,34.0 433.4,34.2 433.9,34.4 434.3,34.7 434.7,34.9 435.2,35.2 435.6,35.5 436.0,35.8 436.4,36.1 436.9,36.5 437.3,36.8 437.7,37.2 438.2,37.6 438.6,38.0 439.0,38.4 439.4,38.9 439.9,39.3 440.3,39.8 440.7,40.3 441.1,40.9 441.6,41.4 442.0,42.0 442.4,42.6 442.9,43.3 443.3,43.9 443.7,44.6 444.1,45.4 444.6,46.1 445.0,46.9 445.4,47.8 445.9,48.6 446.3,49.5 446.7,50.4 447.1,51.4 447.6,52.4 448.0,53.5 448.4,54.6 448.8,55.7 449.3,56.9 449.7,58.1 450.1,59.3 450.6,60.6 451.0,61.9 451.4,63.3 451.8,64.7 452.3,66.2 452.7,67.7 453.1,69.3 453.6,70.8 454.0,72.5 454.4,74.1 454.8,75.8 455.3,77.5 455.7,79.2 456.1,81.0 456.5,82.7 457.0,84.5 457.4,86.2 457.8,87.9 458.3,89.6 458.7,91.1 459.1,92.6 459.5,94.0 460.0,95.2 460.4,96.3 460.8,97.0 461.2,97.4 461.7,96.7 462.1,95.4 462.5,94.0 463.0,92.4 463.4,90.6 463.8,88.6 464.2,86.4 464.7,84.0 465.1,81.4 465.5,78.7 466.0,75.8 466.4,72.8 466.8,69.7 467.2,66.6 467.7,63.5 468.1,60.5 468.5,57.5 468.9,54.7 469.4,52.0 469.8,49.5 470.2,47.1 470.7,45.0 471.1,43.1 471.5,41.3 471.9,39.8 472.4,38.4 472.8,37.2 473.2,36.1 473.7,35.2 474.1,34.4 474.5,33.7 474.9,33.1 475.4,32.6 475.8,32.1 476.2,31.8 476.6,31.4 477.1,31.2 477.5,30.9 477.9,30.7 478.4,30.5 478.8,30.4 479.2,30.3 479.6,30.2 480.1,30.1 480.5,30.0 480.9,29.9 481.4,29.9 481.8,29.8 482.2,29.8 482.6,29.8 483.1,29.7 483.5,29.7 483.9,29.7 484.3,29.7 484.8,29.7 485.2,29.7 485.6,29.6 486.1,29.6 486.5,29.6 486.9,29.6 487.3,29.6 487.8,29.6 488.2,29.6 488.6,29.6 489.1,29.6 489.5,29.6 489.9,29.6 490.3,29.6 490.8,29.6 491.2,29.6 491.6,29.6 492.0,29.6 492.5,29.6 492.9,29.6 493.3,29.6 493.8,29.6 494.2,29.6 494.6,29.6 495.0,29.6 495.5,29.6 495.9,29.6 496.3,29.6 496.8,29.6 497.2,29.6 497.6,29.6 498.0,29.6 498.5,29.6 498.9,29.6 499.3,29.6 499.7,29.6 500.2,29.6 500.6,29.6" stroke="#4cbc9c" stroke-width="1.1"/>
<polyline points="406.5,30.1 406.9,30.1 407.4,30.1 407.8,30.1 408.2,30.1 408.6,30.1 409.1,30.1 409.5,30.1 409.9,30.1 410.3,30.1 410.8,30.1 411.2,30.1 411.6,30.2 412.1,30.2 412.5,30.2 412.9,30.2 413.3,30.2 413.8,30.2 414.2,30.2 414.6,30.3 415.1,30.3 415.5,30.3 415.9,30.3 416.3,30.3 416.8,30.4 417.2,30.4 417.6,30.4 418.0,30.5 418.5,30.5 418.9,30.5 419.3,30.6 419.8,30.6 420.2,30.6 420.6,30.7 421.0,30.7 421.5,30.8 421.9,30.8 422.3,30.9 422.8,31.0 423.2,31.0 423.6,31.1 424.0,31.2 424.5,31.2 424.9,31.3 425.3,31.4 425.7,31.5 426.2,31.6 426.6,31.7 427.0,31.8 427.5,31.9 427.9,32.0 428.3,32.1 428.7,32.2 429.2,32.4 429.6,32.5 430.0,32.7 430.5,32.8 430.9,33.0 431.3,33.2 431.7,33.4 432.2,33.5 432.6,33.7 433.0,34.0 433.4,34.2 433.9,34.4 434.3,34.7 434.7,34.9 435.2,35.2 435.6,35.5 436.0,35.8 436.4,36.1 436.9,36.5 437.3,36.8 437.7,37.2 438.2,37.6 438.6,38.0 439.0,38.4 439.4,38.9 439.9,39.3 440.3,39.8 440.7,40.3 441.1,40.9 441.6,41.4 442.0,42.0 442.4,42.6 442.9,43.3 443.3,44.0 443.7,44.7 444.1,45.4 444.6,46.2 445.0,47.0 445.4,47.8 445.9,48.7 446.3,49.6 446.7,50.5 447.1,51.5 447.6,52.6 448.0,53.6 448.4,54.7 448.8,55.9 449.3,57.1 449.7,58.3 450.1,59.6 450.6,61.0 451.0,62.3 451.4,63.8 451.8,65.2 452.3,66.7 452.7,68.3 453.1,69.9 453.6,71.5 454.0,73.2 454.4,74.8 454.8,76.5 455.3,78.2 455.7,79.9 456.1,81.6 456.5,83.3 457.0,84.9 457.4,86.5 457.8,87.9 458.3,89.3 458.7,90.5 459.1,91.6 459.5,92.4 460.0,93.0 460.4,93.4 460.8,93.5 461.2,93.2 461.7,92.6 462.1,91.6 462.5,90.3 463.0,88.6 463.4,86.5 463.8,84.2 464.2,81.5 464.7,78.6 465.1,75.6 465.5,72.3 466.0,69.1 466.4,65.7 466.8,62.3 467.2,58.7 467.7,55.3 468.1,52.2 468.5,49.4 468.9,46.9 469.4,44.7 469.8,42.7 470.2,40.9 470.7,39.4 471.1,38.1 471.5,36.9 471.9,35.9 472.4,35.0 472.8,34.2 473.2,33.6 473.7,33.0 474.1,32.5 474.5,32.1 474.9,31.7 475.4,31.4 475.8,31.1 476.2,30.9 476.6,30.7 477.1,30.6 477.5,30.4 477.9,30.3 478.4,30.2 478.8,30.1 479.2,30.0 479.6,30.0 480.1,29.9 480.5,29.9 480.9,29.8 481.4,29.8 481.8,29.8 482.2,29.7 482.6,29.7 483.1,29.7 483.5,29.7 483.9,29.7 484.3,29.6 484.8,29.6 485.2,29.6 485.6,29.6 486.1,29.6 486.5,29.6 486.9,29.6 487.3,29.6 487.8,29.6 488.2,29.6 488.6,29.6 489.1,29.6 489.5,29.6 489.9,29.6 490.3,29.6 490.8,29.6 491.2,29.6 491.6,29.6 492.0,29.6 492.5,29.6 492.9,29.6 493.3,29.6 493.8,29.6 494.2,29.6 494.6,29.6 495.0,29.6 495.5,29.6 495.9,29.6 496.3,29.6 496.8,29.6 497.2,29.6 497.6,29.6 498.0,29.6 498.5,29.6 498.9,29.6 499.3,29.6 499.7,29.6 500.2,29.6 500.6,29.6" stroke="#f5862c" stroke-width="1.1"/>
<polyline points="406.5,30.1 406.9,30.1 407.4,30.1 407.8,30.1 408.2,30.1 408.6,30.1 409.1,30.1 409.5,30.1 409.9,30.1 410.3,30.1 410.8,30.1 411.2,30.2 411.6,30.2 412.1,30.2 412.5,30.2 412.9,30.2 413.3,30.2 413.8,30.2 414.2,30.3 414.6,30.3 415.1,30.3 415.5,30.3 415.9,30.3 416.3,30.4 416.8,30.4 417.2,30.4 417.6,30.4 418.0,30.5 418.5,30.5 418.9,30.5 419.3,30.6 419.8,30.6 420.2,30.7 420.6,30.7 421.0,30.7 421.5,30.8 421.9,30.9 422.3,30.9 422.8,31.0 423.2,31.0 423.6,31.1 424.0,31.2 424.5,31.2 424.9,31.3 425.3,31.4 425.7,31.5 426.2,31.6 426.6,31.7 427.0,31.8 427.5,31.9 427.9,32.0 428.3,32.1 428.7,32.3 429.2,32.4 429.6,32.5 430.0,32.7 430.5,32.8 430.9,33.0 431.3,33.2 431.7,33.4 432.2,33.6 432.6,33.8 433.0,34.0 433.4,34.2 433.9,34.5 434.3,34.7 434.7,35.0 435.2,35.2 435.6,35.5 436.0,35.8 436.4,36.2 436.9,36.5 437.3,36.8 437.7,37.2 438.2,37.6 438.6,38.0 439.0,38.4 439.4,38.9 439.9,39.3 440.3,39.8 440.7,40.3 441.1,40.9 441.6,41.4 442.0,42.0 442.4,42.6 442.9,43.3 443.3,44.0 443.7,44.7 444.1,45.4 444.6,46.2 445.0,47.0 445.4,47.8 445.9,48.7 446.3,49.6 446.7,50.5 447.1,51.5 447.6,52.5 448.0,53.5 448.4,54.6 448.8,55.8 449.3,57.0 449.7,58.2 450.1,59.5 450.6,60.8 451.0,62.1 451.4,63.5 451.8,65.0 452.3,66.5 452.7,68.0 453.1,69.5 453.6,71.1 454.0,72.7 454.4,74.4 454.8,76.0 455.3,77.7 455.7,79.3 456.1,80.9 456.5,82.5 457.0,84.1 457.4,85.5 457.8,86.9 458.3,88.1 458.7,89.2 459.1,90.2 459.5,90.9 460.0,91.3 460.4,91.5 460.8,91.4 461.2,90.9 461.7,90.1 462.1,88.9 462.5,87.4 463.0,85.5 463.4,83.3 463.8,80.8 464.2,78.1 464.7,75.1 465.1,72.1 465.5,68.9 466.0,65.7 466.4,62.5 466.8,59.4 467.2,56.4 467.7,53.4 468.1,50.4 468.5,47.8 468.9,45.4 469.4,43.3 469.8,41.4 470.2,39.8 470.7,38.4 471.1,37.1 471.5,36.0 471.9,35.1 472.4,34.3 472.8,33.6 473.2,33.0 473.7,32.5 474.1,32.1 474.5,31.7 474.9,31.4 475.4,31.1 475.8,30.9 476.2,30.7 476.6,30.5 477.1,30.4 477.5,30.3 477.9,30.2 478.4,30.1 478.8,30.0 479.2,29.9 479.6,29.9 480.1,29.8 480.5,29.8 480.9,29.8 481.4,29.7 481.8,29.7 482.2,29.7 482.6,29.7 483.1,29.7 483.5,29.7 483.9,29.6 484.3,29.6 484.8,29.6 485.2,29.6 485.6,29.6 486.1,29.6 486.5,29.6 486.9,29.6 487.3,29.6 487.8,29.6 488.2,29.6 488.6,29.6 489.1,29.6 489.5,29.6 489.9,29.6 490.3,29.6 490.8,29.6 491.2,29.6 491.6,29.6 492.0,29.6 492.5,29.6 492.9,29.6 493.3,29.6 493.8,29.6 494.2,29.6 494.6,29.6 495.0,29.6 495.5,29.6 495.9,29.6 496.3,29.6 496.8,29.6 497.2,29.6 497.6,29.6 498.0,29.6 498.5,29.6 498.9,29.6 499.3,29.6 499.7,29.6 500.2,29.6 500.6,29.6" stroke="#e2402a" stroke-width="1.3"/>
<polyline points="406.5,30.1 406.9,30.1 407.4,30.1 407.8,30.1 408.2,30.1 408.6,30.1 409.1,30.1 409.5,30.1 409.9,30.2 410.3,30.2 410.8,30.2 411.2,30.2 411.6,30.2 412.1,30.2 412.5,30.2 412.9,30.2 413.3,30.2 413.8,30.2 414.2,30.3 414.6,30.3 415.1,30.3 415.5,30.3 415.9,30.3 416.3,30.3 416.8,30.4 417.2,30.4 417.6,30.4 418.0,30.4 418.5,30.5 418.9,30.5 419.3,30.5 419.8,30.6 420.2,30.6 420.6,30.6 421.0,30.7 421.5,30.7 421.9,30.8 422.3,30.8 422.8,30.9 423.2,31.0 423.6,31.0 424.0,31.1 424.5,31.2 424.9,31.2 425.3,31.3 425.7,31.4 426.2,31.5 426.6,31.6 427.0,31.7 427.5,31.8 427.9,31.9 428.3,32.0 428.7,32.1 429.2,32.3 429.6,32.4 430.0,32.6 430.5,32.7 430.9,32.9 431.3,33.1 431.7,33.2 432.2,33.4 432.6,33.6 433.0,33.9 433.4,34.1 433.9,34.3 434.3,34.6 434.7,34.8 435.2,35.1 435.6,35.4 436.0,35.7 436.4,36.1 436.9,36.4 437.3,36.8 437.7,37.1 438.2,37.5 438.6,37.9 439.0,38.4 439.4,38.8 439.9,39.3 440.3,39.8 440.7,40.3 441.1,40.9 441.6,41.4 442.0,42.0 442.4,42.7 442.9,43.3 443.3,44.0 443.7,44.7 444.1,45.4 444.6,46.2 445.0,47.0 445.4,47.9 445.9,48.7 446.3,49.6 446.7,50.6 447.1,51.6 447.6,52.6 448.0,53.6 448.4,54.7 448.8,55.9 449.3,57.1 449.7,58.3 450.1,59.5 450.6,60.8 451.0,62.1 451.4,63.5 451.8,64.9 452.3,66.4 452.7,67.9 453.1,69.4 453.6,70.9 454.0,72.5 454.4,74.1 454.8,75.6 455.3,77.2 455.7,78.8 456.1,80.4 456.5,81.9 457.0,83.4 457.4,84.9 457.8,86.2 458.3,87.4 458.7,88.5 459.1,89.5 459.5,90.2 460.0,90.7 460.4,91.0 460.8,90.9 461.2,90.6 461.7,89.9 462.1,88.9 462.5,87.4 463.0,85.7 463.4,83.6 463.8,81.2 464.2,78.5 464.7,75.6 465.1,72.5 465.5,69.3 466.0,66.1 466.4,62.9 466.8,59.7 467.2,56.6 467.7,53.7 468.1,50.9 468.5,48.3 468.9,45.8 469.4,43.6 469.8,41.7 470.2,40.0 470.7,38.6 471.1,37.3 471.5,36.2 471.9,35.2 472.4,34.4 472.8,33.7 473.2,33.1 473.7,32.6 474.1,32.1 474.5,31.7 474.9,31.4 475.4,31.1 475.8,30.9 476.2,30.7 476.6,30.5 477.1,30.4 477.5,30.3 477.9,30.2 478.4,30.1 478.8,30.0 479.2,29.9 479.6,29.9 480.1,29.8 480.5,29.8 480.9,29.8 481.4,29.7 481.8,29.7 482.2,29.7 482.6,29.7 483.1,29.7 483.5,29.7 483.9,29.6 484.3,29.6 484.8,29.6 485.2,29.6 485.6,29.6 486.1,29.6 486.5,29.6 486.9,29.6 487.3,29.6 487.8,29.6 488.2,29.6 488.6,29.6 489.1,29.6 489.5,29.6 489.9,29.6 490.3,29.6 490.8,29.6 491.2,29.6 491.6,29.6 492.0,29.6 492.5,29.6 492.9,29.6 493.3,29.6 493.8,29.6 494.2,29.6 494.6,29.6 495.0,29.6 495.5,29.6 495.9,29.6 496.3,29.6 496.8,29.6 497.2,29.6 497.6,29.6 498.0,29.6 498.5,29.6 498.9,29.6 499.3,29.6 499.7,29.6 500.2,29.6 500.6,29.6" stroke="#9a2b1c" stroke-width="1.3"/>
<polyline points="406.5,30.0 406.9,30.0 407.4,30.0 407.8,30.0 408.2,30.1 408.6,30.1 409.1,30.1 409.5,30.1 409.9,30.2 410.3,30.2 410.8,30.2 411.2,30.3 411.6,30.3 412.1,30.3 412.5,30.3 412.9,30.4 413.3,30.4 413.8,30.4 414.2,30.5 414.6,30.5 415.1,30.5 415.5,30.6 415.9,30.6 416.3,30.7 416.8,30.7 417.2,30.7 417.6,30.8 418.0,30.8 418.5,30.9 418.9,30.9 419.3,31.0 419.8,31.0 420.2,31.1 420.6,31.1 421.0,31.2 421.5,31.2 421.9,31.3 422.3,31.4 422.8,31.4 423.2,31.5 423.6,31.5 424.0,31.6 424.5,31.7 424.9,31.7 425.3,31.8 425.7,31.9 426.2,32.0 426.6,32.0 427.0,32.1 427.5,32.2 427.9,32.3 428.3,32.4 428.7,32.5 429.2,32.5 429.6,32.6 430.0,32.7 430.5,32.8 430.9,32.9 431.3,33.0 431.7,33.1 432.2,33.2 432.6,33.4 433.0,33.5 433.4,33.6 433.9,33.7 434.3,33.8 434.7,33.9 435.2,34.1 435.6,34.2 436.0,34.3 436.4,34.5 436.9,34.6 437.3,34.7 437.7,34.9 438.2,35.0 438.6,35.2 439.0,35.3 439.4,35.5 439.9,35.7 440.3,35.8 440.7,36.0 441.1,36.2 441.6,36.3 442.0,36.5 442.4,36.7 442.9,36.9 443.3,37.1 443.7,37.2 444.1,37.4 444.6,37.6 445.0,37.8 445.4,38.0 445.9,38.2 446.3,38.5 446.7,38.7 447.1,38.9 447.6,39.1 448.0,39.3 448.4,39.6 448.8,39.8 449.3,40.0 449.7,40.2 450.1,40.5 450.6,40.7 451.0,41.0 451.4,41.2 451.8,41.4 452.3,41.7 452.7,41.9 453.1,42.2 453.6,42.4 454.0,42.6 454.4,42.8 454.8,43.1 455.3,43.3 455.7,43.5 456.1,43.7 456.5,43.8 457.0,43.9 457.4,44.0 457.8,44.1 458.3,44.1 458.7,43.9 459.1,43.7 459.5,43.3 460.0,42.9 460.4,42.4 460.8,41.7 461.2,41.0 461.7,40.2 462.1,39.3 462.5,38.4 463.0,37.4 463.4,36.4 463.8,35.4 464.2,34.5 464.7,33.7 465.1,33.0 465.5,32.4 466.0,31.8 466.4,31.4 466.8,31.0 467.2,30.7 467.7,30.5 468.1,30.3 468.5,30.1 468.9,30.0 469.4,29.9 469.8,29.8 470.2,29.8 470.7,29.7 471.1,29.7 471.5,29.7 471.9,29.7 472.4,29.6 472.8,29.6 473.2,29.6 473.7,29.6 474.1,29.6 474.5,29.6 474.9,29.6 475.4,29.6 475.8,29.6 476.2,29.6 476.6,29.6 477.1,29.6 477.5,29.6 477.9,29.6 478.4,29.6 478.8,29.6 479.2,29.6 479.6,29.6 480.1,29.6 480.5,29.6 480.9,29.6 481.4,29.6 481.8,29.6 482.2,29.6 482.6,29.6 483.1,29.6 483.5,29.6 483.9,29.6 484.3,29.6 484.8,29.6 485.2,29.6 485.6,29.6 486.1,29.6 486.5,29.6 486.9,29.6 487.3,29.6 487.8,29.6 488.2,29.6 488.6,29.6 489.1,29.6 489.5,29.6 489.9,29.6 490.3,29.6 490.8,29.6 491.2,29.6 491.6,29.6 492.0,29.6 492.5,29.6 492.9,29.6 493.3,29.6 493.8,29.6 494.2,29.6 494.6,29.6 495.0,29.6 495.5,29.6 495.9,29.6 496.3,29.6 496.8,29.6 497.2,29.6 497.6,29.6 498.0,29.6 498.5,29.6 498.9,29.6 499.3,29.6 499.7,29.6 500.2,29.6 500.6,29.6" stroke="#1c1c1c" stroke-width="1.3"/>
</g>
<rect x="406.5" y="23.5" width="94.00" height="134.00" fill="none" stroke="#7a7a7a" stroke-width="1"/>
<text x="388.00" y="12.30" font-size="12.4" text-anchor="start" font-weight="bold" fill="#111" >(d)</text>
<text x="397.60" y="26.80" font-size="10" text-anchor="end" font-weight="normal" fill="#1a1a1a" >0</text>
<text x="397.60" y="60.30" font-size="10" text-anchor="end" font-weight="normal" fill="#1a1a1a" >-0.5</text>
<text x="397.60" y="93.80" font-size="10" text-anchor="end" font-weight="normal" fill="#1a1a1a" >-1</text>
<text x="397.60" y="127.30" font-size="10" text-anchor="end" font-weight="normal" fill="#1a1a1a" >-1.5</text>
<text x="397.60" y="160.80" font-size="10" text-anchor="end" font-weight="normal" fill="#1a1a1a" >-2</text>
<text x="406.50" y="172.20" font-size="10" text-anchor="middle" font-weight="normal" fill="#1a1a1a" >-10</text>
<text x="437.83" y="172.20" font-size="10" text-anchor="middle" font-weight="normal" fill="#1a1a1a" >-5</text>
<text x="469.17" y="172.20" font-size="10" text-anchor="middle" font-weight="normal" fill="#1a1a1a" >0</text>
<text x="500.50" y="172.20" font-size="10" text-anchor="middle" font-weight="normal" fill="#1a1a1a" >5</text>
<text x="451.20" y="184.60" font-size="9.9" text-anchor="middle" font-weight="normal" fill="#1a1a1a" >Temperature (°C)</text>
<line x1="560.50" y1="23.70" x2="560.50" y2="157.50" stroke="#dedede" stroke-width="0.8" />
<line x1="592.00" y1="23.70" x2="592.00" y2="157.50" stroke="#dedede" stroke-width="0.8" />
<line x1="529.00" y1="57.15" x2="623.50" y2="57.15" stroke="#dedede" stroke-width="0.8" />
<line x1="529.00" y1="90.60" x2="623.50" y2="90.60" stroke="#dedede" stroke-width="0.8" />
<line x1="529.00" y1="124.05" x2="623.50" y2="124.05" stroke="#dedede" stroke-width="0.8" />
<text x="536.80" y="150.00" font-size="12.8" text-anchor="start" font-weight="normal" fill="#111" >LC3-70 2:1</text>
<g fill="none" stroke-width="1.1" stroke-linejoin="round">
<polyline points="529.5,30.3 529.9,30.3 530.4,30.3 530.8,30.4 531.2,30.4 531.6,30.4 532.1,30.4 532.5,30.4 532.9,30.5 533.3,30.5 533.8,30.5 534.2,30.5 534.6,30.6 535.1,30.6 535.5,30.6 535.9,30.7 536.3,30.7 536.8,30.7 537.2,30.8 537.6,30.8 538.0,30.9 538.5,30.9 538.9,31.0 539.3,31.0 539.8,31.1 540.2,31.1 540.6,31.2 541.0,31.2 541.5,31.3 541.9,31.4 542.3,31.4 542.7,31.5 543.2,31.6 543.6,31.7 544.0,31.8 544.5,31.9 544.9,32.0 545.3,32.1 545.7,32.2 546.2,32.3 546.6,32.4 547.0,32.6 547.4,32.7 547.9,32.8 548.3,33.0 548.7,33.2 549.2,33.3 549.6,33.5 550.0,33.7 550.4,33.9 550.9,34.1 551.3,34.3 551.7,34.5 552.1,34.7 552.6,35.0 553.0,35.2 553.4,35.5 553.9,35.7 554.3,36.0 554.7,36.3 555.1,36.6 555.6,37.0 556.0,37.3 556.4,37.7 556.8,38.0 557.3,38.4 557.7,38.8 558.1,39.2 558.6,39.7 559.0,40.1 559.4,40.6 559.8,41.1 560.3,41.6 560.7,42.2 561.1,42.7 561.5,43.3 562.0,43.9 562.4,44.5 562.8,45.2 563.3,45.8 563.7,46.5 564.1,47.2 564.5,48.0 565.0,48.7 565.4,49.5 565.8,50.4 566.2,51.2 566.7,52.1 567.1,53.0 567.5,53.9 568.0,54.9 568.4,55.9 568.8,56.9 569.2,58.0 569.7,59.1 570.1,60.2 570.5,61.3 570.9,62.5 571.4,63.7 571.8,65.0 572.2,66.2 572.7,67.5 573.1,68.8 573.5,70.2 573.9,71.6 574.4,73.0 574.8,74.4 575.2,75.8 575.6,77.3 576.1,78.8 576.5,80.3 576.9,81.8 577.4,83.4 577.8,84.9 578.2,86.4 578.6,88.0 579.1,89.5 579.5,91.1 579.9,92.6 580.3,94.1 580.8,95.6 581.2,97.0 581.6,98.4 582.1,99.8 582.5,101.1 582.9,102.3 583.3,103.5 583.8,104.5 584.2,105.5 584.6,106.3 585.0,107.1 585.5,107.6 585.9,108.0 586.3,108.2 586.8,108.2 587.2,107.8 587.6,106.9 588.0,105.8 588.5,104.6 588.9,103.4 589.3,102.1 589.7,100.7 590.2,99.2 590.6,97.6 591.0,95.9 591.5,94.2 591.9,92.4 592.3,90.5 592.7,88.6 593.2,86.6 593.6,84.5 594.0,82.5 594.4,80.3 594.9,78.2 595.3,76.0 595.7,73.8 596.2,71.6 596.6,69.5 597.0,67.4 597.4,65.3 597.9,63.2 598.3,61.2 598.7,59.3 599.1,57.4 599.6,55.6 600.0,53.8 600.4,52.2 600.9,50.6 601.3,49.1 601.7,47.7 602.1,46.4 602.6,45.1 603.0,43.9 603.4,42.8 603.8,41.8 604.3,40.9 604.7,40.0 605.1,39.2 605.6,38.4 606.0,37.7 606.4,37.1 606.8,36.5 607.3,35.9 607.7,35.4 608.1,35.0 608.5,34.5 609.0,34.2 609.4,33.8 609.8,33.5 610.3,33.2 610.7,32.9 611.1,32.7 611.5,32.4 612.0,32.2 612.4,32.1 612.8,31.9 613.2,31.7 613.7,31.6 614.1,31.5 614.5,31.3 615.0,31.2 615.4,31.1 615.8,31.1 616.2,31.0 616.7,30.9 617.1,30.8 617.5,30.8 617.9,30.7 618.4,30.7 618.8,30.6 619.2,30.6 619.7,30.6 620.1,30.5 620.5,30.5 620.9,30.5 621.4,30.4 621.8,30.4 622.2,30.4 622.6,30.4 623.1,30.4 623.5,30.3" stroke="#4a60c6" stroke-width="1.1"/>
<polyline points="529.5,31.8 529.9,31.8 530.4,31.8 530.8,31.9 531.2,31.9 531.6,31.9 532.1,31.9 532.5,32.0 532.9,32.0 533.3,32.0 533.8,32.1 534.2,32.1 534.6,32.2 535.1,32.2 535.5,32.2 535.9,32.3 536.3,32.3 536.8,32.4 537.2,32.4 537.6,32.5 538.0,32.5 538.5,32.6 538.9,32.7 539.3,32.7 539.8,32.8 540.2,32.9 540.6,32.9 541.0,33.0 541.5,33.1 541.9,33.2 542.3,33.3 542.7,33.3 543.2,33.4 543.6,33.5 544.0,33.6 544.5,33.7 544.9,33.9 545.3,34.0 545.7,34.1 546.2,34.2 546.6,34.3 547.0,34.5 547.4,34.6 547.9,34.8 548.3,34.9 548.7,35.1 549.2,35.2 549.6,35.4 550.0,35.6 550.4,35.8 550.9,36.0 551.3,36.2 551.7,36.4 552.1,36.6 552.6,36.8 553.0,37.0 553.4,37.3 553.9,37.5 554.3,37.8 554.7,38.1 555.1,38.3 555.6,38.6 556.0,38.9 556.4,39.2 556.8,39.5 557.3,39.9 557.7,40.2 558.1,40.6 558.6,40.9 559.0,41.3 559.4,41.7 559.8,42.1 560.3,42.6 560.7,43.0 561.1,43.4 561.5,43.9 562.0,44.4 562.4,44.9 562.8,45.4 563.3,45.9 563.7,46.5 564.1,47.1 564.5,47.6 565.0,48.3 565.4,48.9 565.8,49.5 566.2,50.2 566.7,50.9 567.1,51.6 567.5,52.3 568.0,53.0 568.4,53.8 568.8,54.6 569.2,55.4 569.7,56.3 570.1,57.1 570.5,58.0 570.9,58.9 571.4,59.8 571.8,60.8 572.2,61.7 572.7,62.7 573.1,63.8 573.5,64.8 573.9,65.8 574.4,66.9 574.8,68.0 575.2,69.1 575.6,70.3 576.1,71.4 576.5,72.6 576.9,73.8 577.4,74.9 577.8,76.1 578.2,77.3 578.6,78.5 579.1,79.7 579.5,80.9 579.9,82.1 580.3,83.3 580.8,84.4 581.2,85.5 581.6,86.6 582.1,87.7 582.5,88.7 582.9,89.6 583.3,90.5 583.8,91.3 584.2,92.0 584.6,92.5 585.0,93.0 585.5,93.2 585.9,93.1 586.3,92.1 586.8,91.0 587.2,89.9 587.6,88.7 588.0,87.4 588.5,86.1 588.9,84.7 589.3,83.3 589.7,81.8 590.2,80.2 590.6,78.7 591.0,77.0 591.5,75.4 591.9,73.7 592.3,72.0 592.7,70.3 593.2,68.5 593.6,66.8 594.0,65.1 594.4,63.4 594.9,61.7 595.3,60.0 595.7,58.4 596.2,56.8 596.6,55.2 597.0,53.7 597.4,52.3 597.9,50.9 598.3,49.5 598.7,48.2 599.1,47.0 599.6,45.9 600.0,44.8 600.4,43.7 600.9,42.7 601.3,41.8 601.7,40.9 602.1,40.1 602.6,39.4 603.0,38.7 603.4,38.0 603.8,37.4 604.3,36.8 604.7,36.3 605.1,35.8 605.6,35.3 606.0,34.9 606.4,34.5 606.8,34.2 607.3,33.8 607.7,33.5 608.1,33.3 608.5,33.0 609.0,32.8 609.4,32.5 609.8,32.3 610.3,32.2 610.7,32.0 611.1,31.8 611.5,31.7 612.0,31.6 612.4,31.5 612.8,31.3 613.2,31.2 613.7,31.2 614.1,31.1 614.5,31.0 615.0,30.9 615.4,30.9 615.8,30.8 616.2,30.8 616.7,30.7 617.1,30.7 617.5,30.6 617.9,30.6 618.4,30.5 618.8,30.5 619.2,30.5 619.7,30.5 620.1,30.4 620.5,30.4 620.9,30.4 621.4,30.4 621.8,30.4 622.2,30.3 622.6,30.3 623.1,30.3 623.5,30.3" stroke="#55c4ee" stroke-width="1.1"/>
<polyline points="529.5,31.7 529.9,31.8 530.4,31.8 530.8,31.8 531.2,31.9 531.6,31.9 532.1,31.9 532.5,32.0 532.9,32.0 533.3,32.0 533.8,32.1 534.2,32.1 534.6,32.2 535.1,32.2 535.5,32.3 535.9,32.3 536.3,32.4 536.8,32.4 537.2,32.5 537.6,32.5 538.0,32.6 538.5,32.7 538.9,32.7 539.3,32.8 539.8,32.9 540.2,32.9 540.6,33.0 541.0,33.1 541.5,33.2 541.9,33.3 542.3,33.4 542.7,33.4 543.2,33.5 543.6,33.6 544.0,33.8 544.5,33.9 544.9,34.0 545.3,34.1 545.7,34.2 546.2,34.3 546.6,34.5 547.0,34.6 547.4,34.8 547.9,34.9 548.3,35.1 548.7,35.2 549.2,35.4 549.6,35.6 550.0,35.7 550.4,35.9 550.9,36.1 551.3,36.3 551.7,36.5 552.1,36.7 552.6,37.0 553.0,37.2 553.4,37.4 553.9,37.7 554.3,37.9 554.7,38.2 555.1,38.5 555.6,38.8 556.0,39.0 556.4,39.4 556.8,39.7 557.3,40.0 557.7,40.3 558.1,40.7 558.6,41.0 559.0,41.4 559.4,41.8 559.8,42.2 560.3,42.6 560.7,43.1 561.1,43.5 561.5,44.0 562.0,44.4 562.4,44.9 562.8,45.4 563.3,45.9 563.7,46.5 564.1,47.0 564.5,47.6 565.0,48.2 565.4,48.8 565.8,49.5 566.2,50.1 566.7,50.8 567.1,51.5 567.5,52.2 568.0,52.9 568.4,53.7 568.8,54.5 569.2,55.3 569.7,56.1 570.1,56.9 570.5,57.8 570.9,58.7 571.4,59.6 571.8,60.5 572.2,61.5 572.7,62.5 573.1,63.5 573.5,64.5 573.9,65.6 574.4,66.6 574.8,67.7 575.2,68.8 575.6,70.0 576.1,71.1 576.5,72.3 576.9,73.4 577.4,74.6 577.8,75.8 578.2,76.9 578.6,78.1 579.1,79.2 579.5,80.4 579.9,81.5 580.3,82.6 580.8,83.6 581.2,84.6 581.6,85.5 582.1,86.3 582.5,86.9 582.9,86.6 583.3,85.8 583.8,85.0 584.2,84.2 584.6,83.3 585.0,82.3 585.5,81.2 585.9,80.2 586.3,79.0 586.8,77.8 587.2,76.5 587.6,75.2 588.0,73.8 588.5,72.4 588.9,70.9 589.3,69.4 589.7,67.8 590.2,66.2 590.6,64.6 591.0,63.0 591.5,61.4 591.9,59.8 592.3,58.3 592.7,56.7 593.2,55.2 593.6,53.6 594.0,52.2 594.4,50.8 594.9,49.4 595.3,48.1 595.7,46.8 596.2,45.6 596.6,44.5 597.0,43.4 597.4,42.4 597.9,41.4 598.3,40.6 598.7,39.7 599.1,38.9 599.6,38.2 600.0,37.5 600.4,36.9 600.9,36.3 601.3,35.8 601.7,35.3 602.1,34.9 602.6,34.5 603.0,34.1 603.4,33.7 603.8,33.4 604.3,33.1 604.7,32.9 605.1,32.6 605.6,32.4 606.0,32.2 606.4,32.0 606.8,31.8 607.3,31.7 607.7,31.5 608.1,31.4 608.5,31.3 609.0,31.2 609.4,31.1 609.8,31.0 610.3,30.9 610.7,30.9 611.1,30.8 611.5,30.8 612.0,30.7 612.4,30.6 612.8,30.6 613.2,30.6 613.7,30.5 614.1,30.5 614.5,30.5 615.0,30.4 615.4,30.4 615.8,30.4 616.2,30.4 616.7,30.4 617.1,30.3 617.5,30.3 617.9,30.3 618.4,30.3 618.8,30.3 619.2,30.3 619.7,30.3 620.1,30.3 620.5,30.3 620.9,30.3 621.4,30.2 621.8,30.2 622.2,30.2 622.6,30.2 623.1,30.2 623.5,30.2" stroke="#8dd14f" stroke-width="1.1"/>
<polyline points="529.5,31.7 529.9,31.7 530.4,31.8 530.8,31.8 531.2,31.8 531.6,31.9 532.1,31.9 532.5,31.9 532.9,32.0 533.3,32.0 533.8,32.1 534.2,32.1 534.6,32.2 535.1,32.2 535.5,32.2 535.9,32.3 536.3,32.4 536.8,32.4 537.2,32.5 537.6,32.5 538.0,32.6 538.5,32.7 538.9,32.7 539.3,32.8 539.8,32.9 540.2,33.0 540.6,33.0 541.0,33.1 541.5,33.2 541.9,33.3 542.3,33.4 542.7,33.5 543.2,33.6 543.6,33.7 544.0,33.8 544.5,33.9 544.9,34.0 545.3,34.1 545.7,34.3 546.2,34.4 546.6,34.5 547.0,34.7 547.4,34.8 547.9,35.0 548.3,35.1 548.7,35.3 549.2,35.4 549.6,35.6 550.0,35.8 550.4,36.0 550.9,36.2 551.3,36.4 551.7,36.6 552.1,36.8 552.6,37.0 553.0,37.2 553.4,37.5 553.9,37.7 554.3,38.0 554.7,38.2 555.1,38.5 555.6,38.8 556.0,39.1 556.4,39.4 556.8,39.7 557.3,40.0 557.7,40.4 558.1,40.7 558.6,41.1 559.0,41.4 559.4,41.8 559.8,42.2 560.3,42.6 560.7,43.1 561.1,43.5 561.5,44.0 562.0,44.4 562.4,44.9 562.8,45.4 563.3,45.9 563.7,46.5 564.1,47.0 564.5,47.6 565.0,48.2 565.4,48.8 565.8,49.4 566.2,50.1 566.7,50.8 567.1,51.5 567.5,52.2 568.0,52.9 568.4,53.7 568.8,54.5 569.2,55.3 569.7,56.1 570.1,57.0 570.5,57.9 570.9,58.8 571.4,59.7 571.8,60.7 572.2,61.7 572.7,62.7 573.1,63.7 573.5,64.7 573.9,65.8 574.4,66.9 574.8,68.0 575.2,69.2 575.6,70.3 576.1,71.5 576.5,72.7 576.9,73.9 577.4,75.1 577.8,76.3 578.2,77.5 578.6,78.6 579.1,79.8 579.5,80.9 579.9,82.0 580.3,83.1 580.8,84.1 581.2,85.0 581.6,85.8 582.1,86.0 582.5,85.1 582.9,84.1 583.3,83.0 583.8,81.9 584.2,80.7 584.6,79.4 585.0,78.0 585.5,76.5 585.9,75.0 586.3,73.4 586.8,71.7 587.2,70.0 587.6,68.3 588.0,66.5 588.5,64.7 588.9,62.8 589.3,61.0 589.7,59.2 590.2,57.4 590.6,55.6 591.0,53.9 591.5,52.2 591.9,50.6 592.3,49.0 592.7,47.6 593.2,46.2 593.6,44.8 594.0,43.6 594.4,42.4 594.9,41.3 595.3,40.3 595.7,39.4 596.2,38.5 596.6,37.8 597.0,37.0 597.4,36.4 597.9,35.8 598.3,35.2 598.7,34.7 599.1,34.3 599.6,33.9 600.0,33.5 600.4,33.1 600.9,32.8 601.3,32.6 601.7,32.3 602.1,32.1 602.6,31.9 603.0,31.7 603.4,31.6 603.8,31.4 604.3,31.3 604.7,31.2 605.1,31.1 605.6,31.0 606.0,30.9 606.4,30.8 606.8,30.8 607.3,30.7 607.7,30.6 608.1,30.6 608.5,30.5 609.0,30.5 609.4,30.5 609.8,30.4 610.3,30.4 610.7,30.4 611.1,30.4 611.5,30.4 612.0,30.3 612.4,30.3 612.8,30.3 613.2,30.3 613.7,30.3 614.1,30.3 614.5,30.3 615.0,30.3 615.4,30.2 615.8,30.2 616.2,30.2 616.7,30.2 617.1,30.2 617.5,30.2 617.9,30.2 618.4,30.2 618.8,30.2 619.2,30.2 619.7,30.2 620.1,30.2 620.5,30.2 620.9,30.2 621.4,30.2 621.8,30.2 622.2,30.2 622.6,30.2 623.1,30.2 623.5,30.2" stroke="#4cbc9c" stroke-width="1.1"/>
<polyline points="529.5,31.7 529.9,31.8 530.4,31.8 530.8,31.8 531.2,31.9 531.6,31.9 532.1,31.9 532.5,31.9 532.9,32.0 533.3,32.0 533.8,32.1 534.2,32.1 534.6,32.1 535.1,32.2 535.5,32.2 535.9,32.3 536.3,32.3 536.8,32.4 537.2,32.4 537.6,32.5 538.0,32.5 538.5,32.6 538.9,32.7 539.3,32.7 539.8,32.8 540.2,32.9 540.6,32.9 541.0,33.0 541.5,33.1 541.9,33.2 542.3,33.3 542.7,33.4 543.2,33.5 543.6,33.6 544.0,33.7 544.5,33.8 544.9,33.9 545.3,34.0 545.7,34.1 546.2,34.3 546.6,34.4 547.0,34.5 547.4,34.7 547.9,34.8 548.3,35.0 548.7,35.1 549.2,35.3 549.6,35.5 550.0,35.6 550.4,35.8 550.9,36.0 551.3,36.2 551.7,36.4 552.1,36.6 552.6,36.9 553.0,37.1 553.4,37.3 553.9,37.6 554.3,37.8 554.7,38.1 555.1,38.4 555.6,38.7 556.0,39.0 556.4,39.3 556.8,39.6 557.3,39.9 557.7,40.3 558.1,40.6 558.6,41.0 559.0,41.4 559.4,41.8 559.8,42.2 560.3,42.6 560.7,43.0 561.1,43.5 561.5,44.0 562.0,44.4 562.4,44.9 562.8,45.4 563.3,46.0 563.7,46.5 564.1,47.1 564.5,47.7 565.0,48.3 565.4,48.9 565.8,49.5 566.2,50.2 566.7,50.9 567.1,51.6 567.5,52.3 568.0,53.1 568.4,53.8 568.8,54.6 569.2,55.4 569.7,56.2 570.1,57.1 570.5,58.0 570.9,58.9 571.4,59.8 571.8,60.7 572.2,61.7 572.7,62.6 573.1,63.6 573.5,64.6 573.9,65.6 574.4,66.7 574.8,67.7 575.2,68.7 575.6,69.8 576.1,70.8 576.5,71.8 576.9,72.8 577.4,73.8 577.8,74.7 578.2,75.6 578.6,76.5 579.1,77.2 579.5,77.8 579.9,78.2 580.3,77.7 580.8,77.0 581.2,76.2 581.6,75.4 582.1,74.4 582.5,73.4 582.9,72.3 583.3,71.1 583.8,69.8 584.2,68.4 584.6,66.9 585.0,65.4 585.5,63.7 585.9,62.1 586.3,60.3 586.8,58.5 587.2,56.8 587.6,55.0 588.0,53.2 588.5,51.5 588.9,49.8 589.3,48.1 589.7,46.6 590.2,45.1 590.6,43.7 591.0,42.3 591.5,41.1 591.9,40.0 592.3,39.0 592.7,38.0 593.2,37.1 593.6,36.4 594.0,35.7 594.4,35.0 594.9,34.5 595.3,34.0 595.7,33.5 596.2,33.1 596.6,32.8 597.0,32.5 597.4,32.2 597.9,31.9 598.3,31.7 598.7,31.5 599.1,31.4 599.6,31.2 600.0,31.1 600.4,31.0 600.9,30.9 601.3,30.8 601.7,30.7 602.1,30.7 602.6,30.6 603.0,30.5 603.4,30.5 603.8,30.5 604.3,30.4 604.7,30.4 605.1,30.4 605.6,30.3 606.0,30.3 606.4,30.3 606.8,30.3 607.3,30.3 607.7,30.3 608.1,30.3 608.5,30.3 609.0,30.2 609.4,30.2 609.8,30.2 610.3,30.2 610.7,30.2 611.1,30.2 611.5,30.2 612.0,30.2 612.4,30.2 612.8,30.2 613.2,30.2 613.7,30.2 614.1,30.2 614.5,30.2 615.0,30.2 615.4,30.2 615.8,30.2 616.2,30.2 616.7,30.2 617.1,30.2 617.5,30.2 617.9,30.2 618.4,30.2 618.8,30.2 619.2,30.2 619.7,30.2 620.1,30.2 620.5,30.2 620.9,30.2 621.4,30.2 621.8,30.2 622.2,30.2 622.6,30.2 623.1,30.2 623.5,30.2" stroke="#f5862c" stroke-width="1.1"/>
<polyline points="529.5,31.7 529.9,31.8 530.4,31.8 530.8,31.8 531.2,31.8 531.6,31.9 532.1,31.9 532.5,32.0 532.9,32.0 533.3,32.0 533.8,32.1 534.2,32.1 534.6,32.2 535.1,32.2 535.5,32.2 535.9,32.3 536.3,32.3 536.8,32.4 537.2,32.5 537.6,32.5 538.0,32.6 538.5,32.6 538.9,32.7 539.3,32.8 539.8,32.8 540.2,32.9 540.6,33.0 541.0,33.1 541.5,33.2 541.9,33.2 542.3,33.3 542.7,33.4 543.2,33.5 543.6,33.6 544.0,33.7 544.5,33.8 544.9,34.0 545.3,34.1 545.7,34.2 546.2,34.3 546.6,34.5 547.0,34.6 547.4,34.7 547.9,34.9 548.3,35.0 548.7,35.2 549.2,35.4 549.6,35.5 550.0,35.7 550.4,35.9 550.9,36.1 551.3,36.3 551.7,36.5 552.1,36.7 552.6,36.9 553.0,37.1 553.4,37.4 553.9,37.6 554.3,37.9 554.7,38.2 555.1,38.4 555.6,38.7 556.0,39.0 556.4,39.3 556.8,39.6 557.3,40.0 557.7,40.3 558.1,40.6 558.6,41.0 559.0,41.4 559.4,41.8 559.8,42.2 560.3,42.6 560.7,43.0 561.1,43.5 561.5,43.9 562.0,44.4 562.4,44.9 562.8,45.4 563.3,46.0 563.7,46.5 564.1,47.1 564.5,47.7 565.0,48.3 565.4,48.9 565.8,49.5 566.2,50.2 566.7,50.9 567.1,51.6 567.5,52.3 568.0,53.1 568.4,53.8 568.8,54.6 569.2,55.4 569.7,56.3 570.1,57.1 570.5,58.0 570.9,58.9 571.4,59.8 571.8,60.7 572.2,61.7 572.7,62.6 573.1,63.5 573.5,64.5 573.9,65.4 574.4,66.4 574.8,67.3 575.2,68.2 575.6,69.1 576.1,69.9 576.5,70.6 576.9,71.3 577.4,71.9 577.8,72.3 578.2,72.1 578.6,71.2 579.1,70.1 579.5,69.0 579.9,67.7 580.3,66.4 580.8,64.9 581.2,63.4 581.6,61.8 582.1,60.2 582.5,58.4 582.9,56.7 583.3,54.9 583.8,53.1 584.2,51.4 584.6,49.7 585.0,48.0 585.5,46.4 585.9,44.9 586.3,43.4 586.8,42.1 587.2,40.8 587.6,39.7 588.0,38.6 588.5,37.7 588.9,36.8 589.3,36.0 589.7,35.3 590.2,34.7 590.6,34.1 591.0,33.6 591.5,33.2 591.9,32.8 592.3,32.5 592.7,32.2 593.2,31.9 593.6,31.7 594.0,31.5 594.4,31.3 594.9,31.2 595.3,31.1 595.7,30.9 596.2,30.8 596.6,30.8 597.0,30.7 597.4,30.6 597.9,30.6 598.3,30.5 598.7,30.5 599.1,30.4 599.6,30.4 600.0,30.4 600.4,30.3 600.9,30.3 601.3,30.3 601.7,30.3 602.1,30.3 602.6,30.3 603.0,30.3 603.4,30.2 603.8,30.2 604.3,30.2 604.7,30.2 605.1,30.2 605.6,30.2 606.0,30.2 606.4,30.2 606.8,30.2 607.3,30.2 607.7,30.2 608.1,30.2 608.5,30.2 609.0,30.2 609.4,30.2 609.8,30.2 610.3,30.2 610.7,30.2 611.1,30.2 611.5,30.2 612.0,30.2 612.4,30.2 612.8,30.2 613.2,30.2 613.7,30.2 614.1,30.2 614.5,30.2 615.0,30.2 615.4,30.2 615.8,30.2 616.2,30.2 616.7,30.2 617.1,30.2 617.5,30.2 617.9,30.2 618.4,30.2 618.8,30.2 619.2,30.2 619.7,30.2 620.1,30.2 620.5,30.2 620.9,30.2 621.4,30.2 621.8,30.2 622.2,30.2 622.6,30.2 623.1,30.2 623.5,30.2" stroke="#e2402a" stroke-width="1.3"/>
<polyline points="529.5,31.7 529.9,31.8 530.4,31.8 530.8,31.8 531.2,31.8 531.6,31.9 532.1,31.9 532.5,31.9 532.9,32.0 533.3,32.0 533.8,32.0 534.2,32.1 534.6,32.1 535.1,32.2 535.5,32.2 535.9,32.3 536.3,32.3 536.8,32.4 537.2,32.4 537.6,32.5 538.0,32.5 538.5,32.6 538.9,32.6 539.3,32.7 539.8,32.8 540.2,32.8 540.6,32.9 541.0,33.0 541.5,33.1 541.9,33.2 542.3,33.3 542.7,33.3 543.2,33.4 543.6,33.5 544.0,33.6 544.5,33.7 544.9,33.9 545.3,34.0 545.7,34.1 546.2,34.2 546.6,34.4 547.0,34.5 547.4,34.6 547.9,34.8 548.3,34.9 548.7,35.1 549.2,35.3 549.6,35.4 550.0,35.6 550.4,35.8 550.9,36.0 551.3,36.2 551.7,36.4 552.1,36.6 552.6,36.8 553.0,37.1 553.4,37.3 553.9,37.6 554.3,37.8 554.7,38.1 555.1,38.4 555.6,38.7 556.0,39.0 556.4,39.3 556.8,39.6 557.3,39.9 557.7,40.3 558.1,40.6 558.6,41.0 559.0,41.4 559.4,41.8 559.8,42.2 560.3,42.6 560.7,43.1 561.1,43.5 561.5,44.0 562.0,44.5 562.4,45.0 562.8,45.5 563.3,46.0 563.7,46.6 564.1,47.2 564.5,47.8 565.0,48.4 565.4,49.0 565.8,49.7 566.2,50.3 566.7,51.0 567.1,51.7 567.5,52.5 568.0,53.2 568.4,54.0 568.8,54.8 569.2,55.6 569.7,56.4 570.1,57.3 570.5,58.1 570.9,59.0 571.4,59.9 571.8,60.8 572.2,61.7 572.7,62.7 573.1,63.6 573.5,64.5 573.9,65.4 574.4,66.3 574.8,67.2 575.2,68.1 575.6,68.9 576.1,69.6 576.5,70.3 576.9,70.9 577.4,71.4 577.8,71.7 578.2,71.1 578.6,70.3 579.1,69.3 579.5,68.3 579.9,67.1 580.3,65.8 580.8,64.4 581.2,63.0 581.6,61.4 582.1,59.8 582.5,58.1 582.9,56.3 583.3,54.5 583.8,52.7 584.2,50.9 584.6,49.2 585.0,47.5 585.5,45.8 585.9,44.3 586.3,42.8 586.8,41.5 587.2,40.2 587.6,39.0 588.0,38.0 588.5,37.1 588.9,36.2 589.3,35.4 589.7,34.8 590.2,34.2 590.6,33.7 591.0,33.2 591.5,32.8 591.9,32.4 592.3,32.1 592.7,31.9 593.2,31.6 593.6,31.4 594.0,31.3 594.4,31.1 594.9,31.0 595.3,30.9 595.7,30.8 596.2,30.7 596.6,30.6 597.0,30.6 597.4,30.5 597.9,30.5 598.3,30.4 598.7,30.4 599.1,30.4 599.6,30.3 600.0,30.3 600.4,30.3 600.9,30.3 601.3,30.3 601.7,30.3 602.1,30.2 602.6,30.2 603.0,30.2 603.4,30.2 603.8,30.2 604.3,30.2 604.7,30.2 605.1,30.2 605.6,30.2 606.0,30.2 606.4,30.2 606.8,30.2 607.3,30.2 607.7,30.2 608.1,30.2 608.5,30.2 609.0,30.2 609.4,30.2 609.8,30.2 610.3,30.2 610.7,30.2 611.1,30.2 611.5,30.2 612.0,30.2 612.4,30.2 612.8,30.2 613.2,30.2 613.7,30.2 614.1,30.2 614.5,30.2 615.0,30.2 615.4,30.2 615.8,30.2 616.2,30.2 616.7,30.2 617.1,30.2 617.5,30.2 617.9,30.2 618.4,30.2 618.8,30.2 619.2,30.2 619.7,30.2 620.1,30.2 620.5,30.2 620.9,30.2 621.4,30.2 621.8,30.2 622.2,30.2 622.6,30.2 623.1,30.2 623.5,30.2" stroke="#9a2b1c" stroke-width="1.3"/>
<polyline points="529.5,31.8 529.9,31.9 530.4,31.9 530.8,32.0 531.2,32.0 531.6,32.1 532.1,32.1 532.5,32.2 532.9,32.3 533.3,32.3 533.8,32.4 534.2,32.4 534.6,32.5 535.1,32.5 535.5,32.6 535.9,32.6 536.3,32.7 536.8,32.8 537.2,32.8 537.6,32.9 538.0,32.9 538.5,33.0 538.9,33.1 539.3,33.1 539.8,33.2 540.2,33.3 540.6,33.3 541.0,33.4 541.5,33.5 541.9,33.5 542.3,33.6 542.7,33.7 543.2,33.7 543.6,33.8 544.0,33.9 544.5,34.0 544.9,34.0 545.3,34.1 545.7,34.2 546.2,34.3 546.6,34.3 547.0,34.4 547.4,34.5 547.9,34.6 548.3,34.7 548.7,34.7 549.2,34.8 549.6,34.9 550.0,35.0 550.4,35.1 550.9,35.2 551.3,35.3 551.7,35.3 552.1,35.4 552.6,35.5 553.0,35.6 553.4,35.7 553.9,35.8 554.3,35.9 554.7,36.0 555.1,36.1 555.6,36.2 556.0,36.3 556.4,36.4 556.8,36.5 557.3,36.6 557.7,36.7 558.1,36.8 558.6,36.9 559.0,37.0 559.4,37.2 559.8,37.3 560.3,37.4 560.7,37.5 561.1,37.6 561.5,37.7 562.0,37.8 562.4,38.0 562.8,38.1 563.3,38.2 563.7,38.3 564.1,38.5 564.5,38.6 565.0,38.7 565.4,38.8 565.8,39.0 566.2,39.1 566.7,39.2 567.1,39.4 567.5,39.5 568.0,39.6 568.4,39.8 568.8,39.9 569.2,40.1 569.7,40.2 570.1,40.4 570.5,40.5 570.9,40.6 571.4,40.8 571.8,40.9 572.2,41.1 572.7,41.2 573.1,41.4 573.5,41.5 573.9,41.7 574.4,41.8 574.8,42.0 575.2,42.1 575.6,42.3 576.1,42.4 576.5,42.5 576.9,42.6 577.4,42.7 577.8,42.8 578.2,42.8 578.6,42.8 579.1,42.7 579.5,42.5 579.9,42.2 580.3,41.8 580.8,41.3 581.2,40.8 581.6,40.1 582.1,39.3 582.5,38.4 582.9,37.5 583.3,36.6 583.8,35.6 584.2,34.7 584.6,33.9 585.0,33.2 585.5,32.6 585.9,32.1 586.3,31.7 586.8,31.3 587.2,31.1 587.6,30.9 588.0,30.7 588.5,30.6 588.9,30.5 589.3,30.4 589.7,30.4 590.2,30.3 590.6,30.3 591.0,30.3 591.5,30.2 591.9,30.2 592.3,30.2 592.7,30.2 593.2,30.2 593.6,30.2 594.0,30.2 594.4,30.2 594.9,30.2 595.3,30.2 595.7,30.2 596.2,30.2 596.6,30.2 597.0,30.2 597.4,30.2 597.9,30.2 598.3,30.2 598.7,30.2 599.1,30.2 599.6,30.2 600.0,30.2 600.4,30.2 600.9,30.2 601.3,30.2 601.7,30.2 602.1,30.2 602.6,30.2 603.0,30.2 603.4,30.2 603.8,30.2 604.3,30.2 604.7,30.2 605.1,30.2 605.6,30.2 606.0,30.2 606.4,30.2 606.8,30.2 607.3,30.2 607.7,30.2 608.1,30.2 608.5,30.2 609.0,30.2 609.4,30.2 609.8,30.2 610.3,30.2 610.7,30.2 611.1,30.2 611.5,30.2 612.0,30.2 612.4,30.2 612.8,30.2 613.2,30.2 613.7,30.2 614.1,30.2 614.5,30.2 615.0,30.2 615.4,30.2 615.8,30.2 616.2,30.2 616.7,30.2 617.1,30.2 617.5,30.2 617.9,30.2 618.4,30.2 618.8,30.2 619.2,30.2 619.7,30.2 620.1,30.2 620.5,30.2 620.9,30.2 621.4,30.2 621.8,30.2 622.2,30.2 622.6,30.2 623.1,30.2 623.5,30.2" stroke="#1c1c1c" stroke-width="1.3"/>
</g>
<rect x="529.0" y="23.7" width="94.50" height="133.80" fill="none" stroke="#7a7a7a" stroke-width="1"/>
<text x="510.70" y="12.30" font-size="12.4" text-anchor="start" font-weight="bold" fill="#111" >(e)</text>
<text x="520.60" y="27.00" font-size="10" text-anchor="end" font-weight="normal" fill="#1a1a1a" >0</text>
<text x="520.60" y="60.45" font-size="10" text-anchor="end" font-weight="normal" fill="#1a1a1a" >-0.5</text>
<text x="520.60" y="93.90" font-size="10" text-anchor="end" font-weight="normal" fill="#1a1a1a" >-1</text>
<text x="520.60" y="127.35" font-size="10" text-anchor="end" font-weight="normal" fill="#1a1a1a" >-1.5</text>
<text x="520.60" y="160.80" font-size="10" text-anchor="end" font-weight="normal" fill="#1a1a1a" >-2</text>
<text x="529.00" y="172.20" font-size="10" text-anchor="middle" font-weight="normal" fill="#1a1a1a" >-10</text>
<text x="560.50" y="172.20" font-size="10" text-anchor="middle" font-weight="normal" fill="#1a1a1a" >-5</text>
<text x="592.00" y="172.20" font-size="10" text-anchor="middle" font-weight="normal" fill="#1a1a1a" >0</text>
<text x="623.50" y="172.20" font-size="10" text-anchor="middle" font-weight="normal" fill="#1a1a1a" >5</text>
<text x="574.30" y="184.70" font-size="9.9" text-anchor="middle" font-weight="normal" fill="#1a1a1a" >Temperature (°C)</text>
<text transform="translate(10.2,105.3) rotate(-90)" font-size="10" text-anchor="middle" fill="#1a1a1a">Heat flow (W/g)</text>
<text x="104.60" y="128.70" font-size="10" text-anchor="middle" font-weight="normal" fill="#1a1a1a" >Cement</text>
<text x="104.60" y="140.20" font-size="10" text-anchor="middle" font-weight="normal" fill="#1a1a1a" >hydration</text>
<line x1="104.50" y1="87.00" x2="77.25" y2="45.67" stroke="#111" stroke-width="1.0" />
<polygon points="74.50,41.50 79.53,44.77 75.52,47.41" fill="#111"/>
<text x="631.60" y="53.40" font-size="10" text-anchor="start" font-weight="bold" fill="#4a60c6" >10 minutes</text>
<text x="631.60" y="65.40" font-size="10" text-anchor="start" font-weight="bold" fill="#55c4ee" >1 hour</text>
<text x="631.60" y="77.40" font-size="10" text-anchor="start" font-weight="bold" fill="#8dd14f" >2 hours</text>
<text x="631.60" y="89.40" font-size="10" text-anchor="start" font-weight="bold" fill="#4cbc9c" >6 hours</text>
<text x="631.60" y="101.40" font-size="10" text-anchor="start" font-weight="bold" fill="#f5862c" >14 hours</text>
<text x="631.60" y="113.40" font-size="10" text-anchor="start" font-weight="bold" fill="#e2402a" >21 hours</text>
<text x="631.60" y="125.40" font-size="10" text-anchor="start" font-weight="bold" fill="#9a2b1c" >24 hours</text>
<text x="631.60" y="137.40" font-size="10" text-anchor="start" font-weight="bold" fill="#1c1c1c" >48 hours</text>
<line x1="48.50" y1="344.50" x2="314.60" y2="344.50" stroke="#f3f3f3" stroke-width="0.8" />
<line x1="48.50" y1="341.60" x2="314.60" y2="341.60" stroke="#f3f3f3" stroke-width="0.8" />
<line x1="48.50" y1="338.70" x2="314.60" y2="338.70" stroke="#f3f3f3" stroke-width="0.8" />
<line x1="48.50" y1="335.80" x2="314.60" y2="335.80" stroke="#f3f3f3" stroke-width="0.8" />
<line x1="48.50" y1="330.00" x2="314.60" y2="330.00" stroke="#f3f3f3" stroke-width="0.8" />
<line x1="48.50" y1="327.10" x2="314.60" y2="327.10" stroke="#f3f3f3" stroke-width="0.8" />
<line x1="48.50" y1="324.20" x2="314.60" y2="324.20" stroke="#f3f3f3" stroke-width="0.8" />
<line x1="48.50" y1="321.30" x2="314.60" y2="321.30" stroke="#f3f3f3" stroke-width="0.8" />
<line x1="48.50" y1="315.50" x2="314.60" y2="315.50" stroke="#f3f3f3" stroke-width="0.8" />
<line x1="48.50" y1="312.60" x2="314.60" y2="312.60" stroke="#f3f3f3" stroke-width="0.8" />
<line x1="48.50" y1="309.70" x2="314.60" y2="309.70" stroke="#f3f3f3" stroke-width="0.8" />
<line x1="48.50" y1="306.80" x2="314.60" y2="306.80" stroke="#f3f3f3" stroke-width="0.8" />
<line x1="48.50" y1="301.00" x2="314.60" y2="301.00" stroke="#f3f3f3" stroke-width="0.8" />
<line x1="48.50" y1="298.10" x2="314.60" y2="298.10" stroke="#f3f3f3" stroke-width="0.8" />
<line x1="48.50" y1="295.20" x2="314.60" y2="295.20" stroke="#f3f3f3" stroke-width="0.8" />
<line x1="48.50" y1="292.30" x2="314.60" y2="292.30" stroke="#f3f3f3" stroke-width="0.8" />
<line x1="48.50" y1="286.50" x2="314.60" y2="286.50" stroke="#f3f3f3" stroke-width="0.8" />
<line x1="48.50" y1="283.60" x2="314.60" y2="283.60" stroke="#f3f3f3" stroke-width="0.8" />
<line x1="48.50" y1="280.70" x2="314.60" y2="280.70" stroke="#f3f3f3" stroke-width="0.8" />
<line x1="48.50" y1="277.80" x2="314.60" y2="277.80" stroke="#f3f3f3" stroke-width="0.8" />
<line x1="48.50" y1="272.00" x2="314.60" y2="272.00" stroke="#f3f3f3" stroke-width="0.8" />
<line x1="48.50" y1="269.10" x2="314.60" y2="269.10" stroke="#f3f3f3" stroke-width="0.8" />
<line x1="48.50" y1="266.20" x2="314.60" y2="266.20" stroke="#f3f3f3" stroke-width="0.8" />
<line x1="48.50" y1="263.30" x2="314.60" y2="263.30" stroke="#f3f3f3" stroke-width="0.8" />
<line x1="48.50" y1="257.50" x2="314.60" y2="257.50" stroke="#f3f3f3" stroke-width="0.8" />
<line x1="48.50" y1="254.60" x2="314.60" y2="254.60" stroke="#f3f3f3" stroke-width="0.8" />
<line x1="48.50" y1="251.70" x2="314.60" y2="251.70" stroke="#f3f3f3" stroke-width="0.8" />
<line x1="48.50" y1="248.80" x2="314.60" y2="248.80" stroke="#f3f3f3" stroke-width="0.8" />
<line x1="48.50" y1="243.00" x2="314.60" y2="243.00" stroke="#f3f3f3" stroke-width="0.8" />
<line x1="48.50" y1="240.10" x2="314.60" y2="240.10" stroke="#f3f3f3" stroke-width="0.8" />
<line x1="48.50" y1="237.20" x2="314.60" y2="237.20" stroke="#f3f3f3" stroke-width="0.8" />
<line x1="48.50" y1="234.30" x2="314.60" y2="234.30" stroke="#f3f3f3" stroke-width="0.8" />
<line x1="48.50" y1="228.50" x2="314.60" y2="228.50" stroke="#f3f3f3" stroke-width="0.8" />
<line x1="48.50" y1="225.60" x2="314.60" y2="225.60" stroke="#f3f3f3" stroke-width="0.8" />
<line x1="48.50" y1="222.70" x2="314.60" y2="222.70" stroke="#f3f3f3" stroke-width="0.8" />
<line x1="48.50" y1="219.80" x2="314.60" y2="219.80" stroke="#f3f3f3" stroke-width="0.8" />
<line x1="48.50" y1="214.00" x2="314.60" y2="214.00" stroke="#f3f3f3" stroke-width="0.8" />
<line x1="48.50" y1="211.10" x2="314.60" y2="211.10" stroke="#f3f3f3" stroke-width="0.8" />
<line x1="48.50" y1="208.20" x2="314.60" y2="208.20" stroke="#f3f3f3" stroke-width="0.8" />
<line x1="48.50" y1="205.30" x2="314.60" y2="205.30" stroke="#f3f3f3" stroke-width="0.8" />
<line x1="78.24" y1="202.40" x2="78.24" y2="347.40" stroke="#f0f0f0" stroke-width="0.8" />
<line x1="95.64" y1="202.40" x2="95.64" y2="347.40" stroke="#f0f0f0" stroke-width="0.8" />
<line x1="107.98" y1="202.40" x2="107.98" y2="347.40" stroke="#f0f0f0" stroke-width="0.8" />
<line x1="117.56" y1="202.40" x2="117.56" y2="347.40" stroke="#f0f0f0" stroke-width="0.8" />
<line x1="125.38" y1="202.40" x2="125.38" y2="347.40" stroke="#f0f0f0" stroke-width="0.8" />
<line x1="132.00" y1="202.40" x2="132.00" y2="347.40" stroke="#f0f0f0" stroke-width="0.8" />
<line x1="137.73" y1="202.40" x2="137.73" y2="347.40" stroke="#f0f0f0" stroke-width="0.8" />
<line x1="142.78" y1="202.40" x2="142.78" y2="347.40" stroke="#f0f0f0" stroke-width="0.8" />
<line x1="177.04" y1="202.40" x2="177.04" y2="347.40" stroke="#f0f0f0" stroke-width="0.8" />
<line x1="194.44" y1="202.40" x2="194.44" y2="347.40" stroke="#f0f0f0" stroke-width="0.8" />
<line x1="206.78" y1="202.40" x2="206.78" y2="347.40" stroke="#f0f0f0" stroke-width="0.8" />
<line x1="216.36" y1="202.40" x2="216.36" y2="347.40" stroke="#f0f0f0" stroke-width="0.8" />
<line x1="224.18" y1="202.40" x2="224.18" y2="347.40" stroke="#f0f0f0" stroke-width="0.8" />
<line x1="230.80" y1="202.40" x2="230.80" y2="347.40" stroke="#f0f0f0" stroke-width="0.8" />
<line x1="236.53" y1="202.40" x2="236.53" y2="347.40" stroke="#f0f0f0" stroke-width="0.8" />
<line x1="241.58" y1="202.40" x2="241.58" y2="347.40" stroke="#f0f0f0" stroke-width="0.8" />
<line x1="275.84" y1="202.40" x2="275.84" y2="347.40" stroke="#f0f0f0" stroke-width="0.8" />
<line x1="293.24" y1="202.40" x2="293.24" y2="347.40" stroke="#f0f0f0" stroke-width="0.8" />
<line x1="305.58" y1="202.40" x2="305.58" y2="347.40" stroke="#f0f0f0" stroke-width="0.8" />
<line x1="315.16" y1="202.40" x2="315.16" y2="347.40" stroke="#f0f0f0" stroke-width="0.8" />
<line x1="48.50" y1="332.90" x2="314.60" y2="332.90" stroke="#dcdcdc" stroke-width="0.8" />
<line x1="48.50" y1="318.40" x2="314.60" y2="318.40" stroke="#dcdcdc" stroke-width="0.8" />
<line x1="48.50" y1="303.90" x2="314.60" y2="303.90" stroke="#dcdcdc" stroke-width="0.8" />
<line x1="48.50" y1="289.40" x2="314.60" y2="289.40" stroke="#dcdcdc" stroke-width="0.8" />
<line x1="48.50" y1="274.90" x2="314.60" y2="274.90" stroke="#dcdcdc" stroke-width="0.8" />
<line x1="48.50" y1="260.40" x2="314.60" y2="260.40" stroke="#dcdcdc" stroke-width="0.8" />
<line x1="48.50" y1="245.90" x2="314.60" y2="245.90" stroke="#dcdcdc" stroke-width="0.8" />
<line x1="48.50" y1="231.40" x2="314.60" y2="231.40" stroke="#dcdcdc" stroke-width="0.8" />
<line x1="48.50" y1="216.90" x2="314.60" y2="216.90" stroke="#dcdcdc" stroke-width="0.8" />
<line x1="147.30" y1="202.40" x2="147.30" y2="347.40" stroke="#d6d6d6" stroke-width="0.8" />
<line x1="246.10" y1="202.40" x2="246.10" y2="347.40" stroke="#d6d6d6" stroke-width="0.8" />
<line x1="48.50" y1="202.40" x2="314.60" y2="202.40" stroke="#6e6e6e" stroke-width="1.1" />
<line x1="314.60" y1="202.40" x2="314.60" y2="347.40" stroke="#bdbdbd" stroke-width="1" />
<line x1="48.50" y1="201.90" x2="48.50" y2="347.90" stroke="#777777" stroke-width="1" />
<line x1="48.00" y1="347.40" x2="314.60" y2="347.40" stroke="#777777" stroke-width="1" />
<line x1="45.90" y1="347.40" x2="48.50" y2="347.40" stroke="#777777" stroke-width="1" />
<text x="39.80" y="350.70" font-size="10" text-anchor="end" font-weight="normal" fill="#1a1a1a" >0</text>
<line x1="45.90" y1="332.90" x2="48.50" y2="332.90" stroke="#777777" stroke-width="1" />
<text x="39.80" y="336.20" font-size="10" text-anchor="end" font-weight="normal" fill="#1a1a1a" >10</text>
<line x1="45.90" y1="318.40" x2="48.50" y2="318.40" stroke="#777777" stroke-width="1" />
<text x="39.80" y="321.70" font-size="10" text-anchor="end" font-weight="normal" fill="#1a1a1a" >20</text>
<line x1="45.90" y1="303.90" x2="48.50" y2="303.90" stroke="#777777" stroke-width="1" />
<text x="39.80" y="307.20" font-size="10" text-anchor="end" font-weight="normal" fill="#1a1a1a" >30</text>
<line x1="45.90" y1="289.40" x2="48.50" y2="289.40" stroke="#777777" stroke-width="1" />
<text x="39.80" y="292.70" font-size="10" text-anchor="end" font-weight="normal" fill="#1a1a1a" >40</text>
<line x1="45.90" y1="274.90" x2="48.50" y2="274.90" stroke="#777777" stroke-width="1" />
<text x="39.80" y="278.20" font-size="10" text-anchor="end" font-weight="normal" fill="#1a1a1a" >50</text>
<line x1="45.90" y1="260.40" x2="48.50" y2="260.40" stroke="#777777" stroke-width="1" />
<text x="39.80" y="263.70" font-size="10" text-anchor="end" font-weight="normal" fill="#1a1a1a" >60</text>
<line x1="45.90" y1="245.90" x2="48.50" y2="245.90" stroke="#777777" stroke-width="1" />
<text x="39.80" y="249.20" font-size="10" text-anchor="end" font-weight="normal" fill="#1a1a1a" >70</text>
<line x1="45.90" y1="231.40" x2="48.50" y2="231.40" stroke="#777777" stroke-width="1" />
<text x="39.80" y="234.70" font-size="10" text-anchor="end" font-weight="normal" fill="#1a1a1a" >80</text>
<line x1="45.90" y1="216.90" x2="48.50" y2="216.90" stroke="#777777" stroke-width="1" />
<text x="39.80" y="220.20" font-size="10" text-anchor="end" font-weight="normal" fill="#1a1a1a" >90</text>
<line x1="45.90" y1="202.40" x2="48.50" y2="202.40" stroke="#777777" stroke-width="1" />
<text x="39.80" y="205.70" font-size="10" text-anchor="end" font-weight="normal" fill="#1a1a1a" >100</text>
<line x1="48.50" y1="347.40" x2="48.50" y2="349.80" stroke="#777777" stroke-width="1" />
<text x="48.50" y="362.40" font-size="10" text-anchor="middle" font-weight="normal" fill="#1a1a1a" >0.1</text>
<line x1="147.30" y1="347.40" x2="147.30" y2="349.80" stroke="#777777" stroke-width="1" />
<text x="147.30" y="362.40" font-size="10" text-anchor="middle" font-weight="normal" fill="#1a1a1a" >1</text>
<line x1="246.10" y1="347.40" x2="246.10" y2="349.80" stroke="#777777" stroke-width="1" />
<text x="246.10" y="362.40" font-size="10" text-anchor="middle" font-weight="normal" fill="#1a1a1a" >10</text>
<text transform="translate(18.6,274.3) rotate(-90)" font-size="10" text-anchor="middle" fill="#1a1a1a">Free Water Index (%)</text>
<text x="182.00" y="372.80" font-size="10" text-anchor="middle" font-weight="normal" fill="#1a1a1a" >Hydration time (h)</text>
<polyline points="87.82,231.25 147.30,253.73 177.04,273.60 230.80,301.44 263.50,314.77 277.94,329.56 283.66,334.35 313.41,342.18" fill="none" stroke="#15476a" stroke-width="1"/>
<circle cx="87.82" cy="231.25" r="2.00" fill="#15476a"/>
<circle cx="147.30" cy="253.73" r="2.00" fill="#15476a"/>
<circle cx="177.04" cy="273.60" r="2.00" fill="#15476a"/>
<circle cx="230.80" cy="301.44" r="2.00" fill="#15476a"/>
<circle cx="263.50" cy="314.77" r="2.00" fill="#15476a"/>
<circle cx="277.94" cy="329.56" r="2.00" fill="#15476a"/>
<circle cx="283.66" cy="334.35" r="2.00" fill="#15476a"/>
<circle cx="313.41" cy="342.18" r="2.00" fill="#15476a"/>
<polyline points="87.82,220.96 147.30,251.12 177.04,267.36 230.80,288.96 263.50,299.55 277.94,306.07 283.66,307.96 313.41,331.45" fill="none" stroke="#174c6e" stroke-width="1"/>
<rect x="85.82" y="218.96" width="4.00" height="4.00" fill="#174c6e"/>
<rect x="145.30" y="249.12" width="4.00" height="4.00" fill="#174c6e"/>
<rect x="175.04" y="265.36" width="4.00" height="4.00" fill="#174c6e"/>
<rect x="228.80" y="286.96" width="4.00" height="4.00" fill="#174c6e"/>
<rect x="261.50" y="297.55" width="4.00" height="4.00" fill="#174c6e"/>
<rect x="275.94" y="304.07" width="4.00" height="4.00" fill="#174c6e"/>
<rect x="281.66" y="305.96" width="4.00" height="4.00" fill="#174c6e"/>
<rect x="311.41" y="329.45" width="4.00" height="4.00" fill="#174c6e"/>
<polyline points="87.82,233.43 147.30,245.03 177.04,252.43 230.80,268.23 263.50,280.41 277.94,290.85 283.66,292.15 313.41,329.27" fill="none" stroke="#286686" stroke-width="1"/>
<polygon points="87.82,231.03 90.22,233.43 87.82,235.83 85.42,233.43" fill="#286686"/>
<polygon points="147.30,242.63 149.70,245.03 147.30,247.43 144.90,245.03" fill="#286686"/>
<polygon points="177.04,250.03 179.44,252.43 177.04,254.83 174.64,252.43" fill="#286686"/>
<polygon points="230.80,265.83 233.20,268.23 230.80,270.63 228.40,268.23" fill="#286686"/>
<polygon points="263.50,278.01 265.90,280.41 263.50,282.81 261.10,280.41" fill="#286686"/>
<polygon points="277.94,288.45 280.34,290.85 277.94,293.25 275.54,290.85" fill="#286686"/>
<polygon points="283.66,289.75 286.06,292.15 283.66,294.55 281.26,292.15" fill="#286686"/>
<polygon points="313.41,326.88 315.81,329.27 313.41,331.67 311.01,329.27" fill="#286686"/>
<polyline points="87.82,230.68 147.30,249.52 177.04,256.49 230.80,272.00 263.50,285.34 277.94,293.46 283.66,295.34 313.41,322.02" fill="none" stroke="#8ea6bd" stroke-width="1"/>
<polygon points="87.82,228.08 90.42,232.76 85.22,232.76" fill="#8ea6bd"/>
<polygon points="147.30,246.92 149.90,251.60 144.70,251.60" fill="#8ea6bd"/>
<polygon points="177.04,253.89 179.64,258.56 174.44,258.56" fill="#8ea6bd"/>
<polygon points="230.80,269.40 233.40,274.08 228.20,274.08" fill="#8ea6bd"/>
<polygon points="263.50,282.74 266.10,287.42 260.90,287.42" fill="#8ea6bd"/>
<polygon points="277.94,290.86 280.54,295.54 275.34,295.54" fill="#8ea6bd"/>
<polygon points="283.66,292.74 286.26,297.42 281.06,297.42" fill="#8ea6bd"/>
<polygon points="313.41,319.42 316.01,324.10 310.81,324.10" fill="#8ea6bd"/>
<polyline points="87.82,228.79 147.30,241.69 177.04,257.06 230.80,275.05 263.50,290.41 277.94,300.13 283.66,302.74 313.41,328.55" fill="none" stroke="#5577a3" stroke-width="1"/>
<path d="M85.62,226.59L90.02,230.99M85.62,230.99L90.02,226.59" stroke="#5577a3" stroke-width="1" fill="none"/>
<path d="M145.10,239.50L149.50,243.89M145.10,243.89L149.50,239.50" stroke="#5577a3" stroke-width="1" fill="none"/>
<path d="M174.84,254.87L179.24,259.26M174.84,259.26L179.24,254.87" stroke="#5577a3" stroke-width="1" fill="none"/>
<path d="M228.60,272.85L233.00,277.25M228.60,277.25L233.00,272.85" stroke="#5577a3" stroke-width="1" fill="none"/>
<path d="M261.30,288.21L265.70,292.61M261.30,292.61L265.70,288.21" stroke="#5577a3" stroke-width="1" fill="none"/>
<path d="M275.74,297.93L280.14,302.33M275.74,302.33L280.14,297.93" stroke="#5577a3" stroke-width="1" fill="none"/>
<path d="M281.46,300.54L285.86,304.94M281.46,304.94L285.86,300.54" stroke="#5577a3" stroke-width="1" fill="none"/>
<path d="M311.21,326.35L315.61,330.75M311.21,330.75L315.61,326.35" stroke="#5577a3" stroke-width="1" fill="none"/>
<polyline points="87.82,202.40 147.30,202.40 177.04,202.40" fill="none" stroke="#4fae45" stroke-width="1"/>
<path d="M85.52,200.10L90.12,204.70M85.52,204.70L90.12,200.10" stroke="#4fae45" stroke-width="0.8" fill="none" opacity="0.7"/>
<rect x="86.22" y="200.80" width="3.2" height="3.2" fill="#4fae45"/>
<path d="M145.00,200.10L149.60,204.70M145.00,204.70L149.60,200.10" stroke="#4fae45" stroke-width="0.8" fill="none" opacity="0.7"/>
<rect x="145.70" y="200.80" width="3.2" height="3.2" fill="#4fae45"/>
<path d="M174.74,200.10L179.34,204.70M174.74,204.70L179.34,200.10" stroke="#4fae45" stroke-width="0.8" fill="none" opacity="0.7"/>
<rect x="175.44" y="200.80" width="3.2" height="3.2" fill="#4fae45"/>
<polyline points="87.82,237.78 147.30,237.78 177.04,237.78" fill="none" stroke="#e23c3c" stroke-width="1"/>
<circle cx="87.82" cy="237.78" r="2.00" fill="#fff" stroke="#e23c3c" stroke-width="1"/>
<circle cx="147.30" cy="237.78" r="2.00" fill="#fff" stroke="#e23c3c" stroke-width="1"/>
<circle cx="177.04" cy="237.78" r="2.00" fill="#fff" stroke="#e23c3c" stroke-width="1"/>
<line x1="69.90" y1="258.30" x2="83.90" y2="258.30" stroke="#15476a" stroke-width="1" />
<circle cx="76.80" cy="258.30" r="1.80" fill="#15476a"/>
<text x="85.00" y="261.60" font-size="10" text-anchor="start" font-weight="normal" fill="#1a1a1a" >CEM I</text>
<line x1="69.90" y1="269.75" x2="83.90" y2="269.75" stroke="#b9c8d4" stroke-width="1.8" />
<rect x="74.70" y="267.65" width="4.20" height="4.20" fill="#174c6e"/>
<text x="85.00" y="273.05" font-size="10" text-anchor="start" font-weight="normal" fill="#1a1a1a" >CEM II</text>
<line x1="69.90" y1="281.20" x2="83.90" y2="281.20" stroke="#286686" stroke-width="1" />
<polygon points="76.80,279.04 78.96,281.20 76.80,283.36 74.64,281.20" fill="#286686"/>
<text x="85.00" y="284.50" font-size="10" text-anchor="start" font-weight="normal" fill="#1a1a1a" >LC3-50 2:1</text>
<line x1="69.90" y1="292.65" x2="83.90" y2="292.65" stroke="#cbd3db" stroke-width="1.8" />
<polygon points="76.80,290.31 79.14,294.52 74.46,294.52" fill="#8ea6bd"/>
<text x="85.00" y="295.95" font-size="10" text-anchor="start" font-weight="normal" fill="#1a1a1a" >LC3-50 1:1</text>
<line x1="69.90" y1="304.10" x2="83.90" y2="304.10" stroke="#5577a3" stroke-width="1" />
<path d="M74.82,302.12L78.78,306.08M74.82,306.08L78.78,302.12" stroke="#5577a3" stroke-width="1" fill="none"/>
<text x="85.00" y="307.40" font-size="10" text-anchor="start" font-weight="normal" fill="#1a1a1a" >LC3-70 2:1</text>
<line x1="69.90" y1="315.55" x2="83.90" y2="315.55" stroke="#4fae45" stroke-width="1" />
<path d="M74.73,313.48L78.87,317.62M74.73,317.62L78.87,313.48" stroke="#4fae45" stroke-width="0.8" fill="none" opacity="0.7"/>
<rect x="75.20" y="313.95" width="3.2" height="3.2" fill="#4fae45"/>
<text x="85.00" y="318.85" font-size="10" text-anchor="start" font-weight="normal" fill="#1a1a1a" >LS</text>
<line x1="69.90" y1="327.00" x2="83.90" y2="327.00" stroke="#e23c3c" stroke-width="1" />
<circle cx="76.80" cy="327.00" r="1.80" fill="#fff" stroke="#e23c3c" stroke-width="1"/>
<text x="85.00" y="330.30" font-size="10" text-anchor="start" font-weight="normal" fill="#1a1a1a" >CC</text>
<text x="227.40" y="251.60" font-size="11.4" text-anchor="start" font-weight="normal" fill="#1a1a1a" >Calcined clay %</text>
<line x1="184.20" y1="301.40" x2="211.85" y2="257.14" stroke="#111" stroke-width="1.0" />
<polygon points="214.50,252.90 213.62,258.84 209.55,256.29" fill="#111"/>
<line x1="391.30" y1="325.70" x2="648.40" y2="325.70" stroke="#dedede" stroke-width="0.8" />
<line x1="391.30" y1="304.20" x2="648.40" y2="304.20" stroke="#dedede" stroke-width="0.8" />
<line x1="391.30" y1="282.70" x2="648.40" y2="282.70" stroke="#dedede" stroke-width="0.8" />
<line x1="391.30" y1="261.20" x2="648.40" y2="261.20" stroke="#dedede" stroke-width="0.8" />
<line x1="391.30" y1="239.70" x2="648.40" y2="239.70" stroke="#dedede" stroke-width="0.8" />
<line x1="391.30" y1="218.20" x2="648.40" y2="218.20" stroke="#dedede" stroke-width="0.8" />
<line x1="455.57" y1="196.70" x2="455.57" y2="347.20" stroke="#dedede" stroke-width="0.8" />
<line x1="519.85" y1="196.70" x2="519.85" y2="347.20" stroke="#dedede" stroke-width="0.8" />
<line x1="584.12" y1="196.70" x2="584.12" y2="347.20" stroke="#dedede" stroke-width="0.8" />
<rect x="391.3" y="196.7" width="257.10" height="150.50" fill="none" stroke="#7a7a7a" stroke-width="1"/>
<text x="382.30" y="350.50" font-size="10" text-anchor="end" font-weight="normal" fill="#1a1a1a" >0</text>
<text x="382.30" y="329.00" font-size="10" text-anchor="end" font-weight="normal" fill="#1a1a1a" >10</text>
<text x="382.30" y="307.50" font-size="10" text-anchor="end" font-weight="normal" fill="#1a1a1a" >20</text>
<text x="382.30" y="286.00" font-size="10" text-anchor="end" font-weight="normal" fill="#1a1a1a" >30</text>
<text x="382.30" y="264.50" font-size="10" text-anchor="end" font-weight="normal" fill="#1a1a1a" >40</text>
<text x="382.30" y="243.00" font-size="10" text-anchor="end" font-weight="normal" fill="#1a1a1a" >50</text>
<text x="382.30" y="221.50" font-size="10" text-anchor="end" font-weight="normal" fill="#1a1a1a" >60</text>
<text x="382.30" y="200.00" font-size="10" text-anchor="end" font-weight="normal" fill="#1a1a1a" >70</text>
<text x="391.30" y="362.30" font-size="10" text-anchor="middle" font-weight="normal" fill="#1a1a1a" >0</text>
<text x="455.57" y="362.30" font-size="10" text-anchor="middle" font-weight="normal" fill="#1a1a1a" >5</text>
<text x="519.85" y="362.30" font-size="10" text-anchor="middle" font-weight="normal" fill="#1a1a1a" >10</text>
<text x="584.12" y="362.30" font-size="10" text-anchor="middle" font-weight="normal" fill="#1a1a1a" >15</text>
<text x="648.40" y="362.30" font-size="10" text-anchor="middle" font-weight="normal" fill="#1a1a1a" >20</text>
<text transform="translate(351.0,270.6) rotate(-90)" font-size="10" text-anchor="middle" fill="#1a1a1a">Compressive strength</text>
<text transform="translate(363.4,271.1) rotate(-90)" font-size="10" text-anchor="middle" fill="#1a1a1a">at 2 days (MPa)</text>
<text x="519.90" y="376.00" font-size="10" text-anchor="middle" font-weight="normal" fill="#1a1a1a" >FWI at 2 days (%)</text>
<line x1="434.0" y1="225.5" x2="614.2" y2="288.9" stroke="#2a2a2a" stroke-width="1.1" stroke-dasharray="1.4,0.8"/>
<circle cx="433.5" cy="222.8" r="3.2" fill="none" stroke="#333" stroke-width="0.9"/>
<circle cx="530.2" cy="256.4" r="3.2" fill="none" stroke="#333" stroke-width="0.9"/>
<circle cx="528.9" cy="259.0" r="3.2" fill="none" stroke="#333" stroke-width="0.9"/>
<circle cx="554.0" cy="274.9" r="3.2" fill="none" stroke="#333" stroke-width="0.9"/>
<circle cx="615.9" cy="284.8" r="3.2" fill="none" stroke="#333" stroke-width="0.9"/>
<polyline points="426.2,213.2 429.0,213.2 432.8,220.2" fill="none" stroke="#333" stroke-width="0.8"/>
<polyline points="542.0,220.1 538.9,220.1 530.9,253.1" fill="none" stroke="#333" stroke-width="0.8"/>
<polyline points="514.5,263.8 516.8,263.8 526.0,258.6" fill="none" stroke="#333" stroke-width="0.8"/>
<polyline points="556.0,277.3 563.8,285.4" fill="none" stroke="#333" stroke-width="0.8"/>
<polyline points="614.9,287.9 605.0,307.0" fill="none" stroke="#333" stroke-width="0.8"/>
<text x="395.20" y="216.90" font-size="10" text-anchor="start" font-weight="normal" fill="#1a1a1a" >CEM I</text>
<text x="544.30" y="223.90" font-size="10" text-anchor="start" font-weight="normal" fill="#1a1a1a" >CEM II</text>
<text x="462.00" y="267.60" font-size="10" text-anchor="start" font-weight="normal" fill="#1a1a1a" >LC3-70 2:1</text>
<text x="538.90" y="296.10" font-size="10" text-anchor="start" font-weight="normal" fill="#1a1a1a" >LC3-50 2:1</text>
<text x="579.50" y="317.50" font-size="10" text-anchor="start" font-weight="normal" fill="#1a1a1a" >LC3-50 1:1</text>
<text x="436.20" y="298.00" font-size="10" text-anchor="start" font-weight="normal" fill="#1a1a1a" >R² = 0.96</text>
<text x="0.80" y="197.70" font-size="12.4" text-anchor="start" font-weight="bold" fill="#111" >(f)</text>
<text x="333.10" y="200.60" font-size="12.4" text-anchor="start" font-weight="bold" fill="#111" >(g)</text>
</svg></body></html>
